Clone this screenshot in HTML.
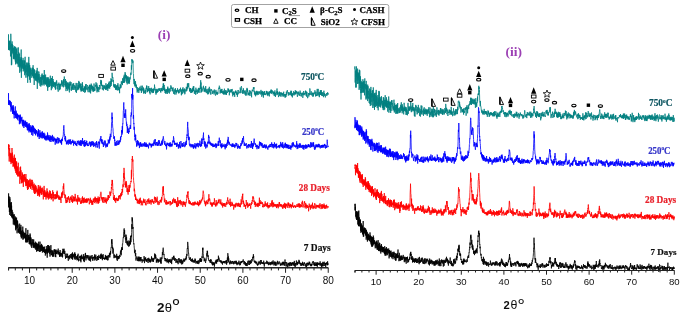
<!DOCTYPE html>
<html><head><meta charset="utf-8"><style>
html,body{margin:0;padding:0;background:#fff;}
body{width:685px;height:314px;overflow:hidden;font-family:"Liberation Sans",sans-serif;}
svg{display:block;}
</style></head><body>
<svg width="685" height="314" viewBox="0 0 685 314">
<defs><filter id="bl" x="0" y="0" width="100%" height="100%"><feGaussianBlur stdDeviation="0.3"/></filter></defs>
<rect width="685" height="314" fill="#fff"/>
<g filter="url(#bl)">
<polyline fill="none" stroke="#008080" stroke-width="0.8" stroke-linejoin="round" points="8.2,45.7 8.3,49.2 8.4,45.8 8.5,34.4 8.6,50.0 8.7,47.1 8.8,40.7 8.9,49.3 9.1,48.7 9.2,48.8 9.3,47.2 9.4,50.4 9.5,41.2 9.6,44.8 9.7,42.4 9.8,49.6 9.9,45.6 10.0,43.4 10.1,40.5 10.2,44.6 10.3,46.8 10.4,45.3 10.5,56.4 10.7,55.2 10.8,33.8 10.9,37.1 11.0,48.8 11.1,47.4 11.2,52.0 11.3,52.4 11.4,65.2 11.5,43.7 11.6,48.5 11.7,64.7 11.8,55.1 11.9,54.9 12.0,48.0 12.1,41.4 12.3,53.5 12.4,53.2 12.5,44.3 12.6,47.5 12.7,51.1 12.8,45.0 12.9,50.1 13.0,51.3 13.1,51.3 13.2,48.5 13.3,56.3 13.4,58.8 13.5,55.4 13.6,48.2 13.7,58.0 13.9,50.2 14.0,59.0 14.1,46.7 14.2,59.4 14.3,53.7 14.4,46.3 14.5,52.7 14.6,55.6 14.7,57.3 14.8,49.5 14.9,48.7 15.0,57.0 15.1,53.2 15.2,57.9 15.3,61.5 15.5,46.8 15.6,58.5 15.7,64.4 15.8,55.1 15.9,52.2 16.0,62.1 16.1,59.4 16.2,63.5 16.3,56.0 16.4,48.9 16.5,54.5 16.6,49.7 16.7,59.4 16.8,58.4 16.9,47.7 17.1,50.6 17.2,63.1 17.3,61.9 17.4,54.1 17.5,58.1 17.6,61.1 17.7,61.5 17.8,64.2 17.9,61.0 18.0,59.4 18.1,58.9 18.2,66.9 18.3,47.4 18.4,59.6 18.5,60.5 18.7,52.1 18.8,62.5 18.9,56.8 19.0,65.6 19.1,59.9 19.2,64.3 19.3,67.5 19.4,63.1 19.5,56.5 19.6,53.5 19.7,72.8 19.8,62.4 19.9,59.1 20.0,63.6 20.1,61.5 20.3,67.4 20.4,62.9 20.5,63.1 20.6,59.2 20.7,65.8 20.8,57.3 20.9,66.8 21.0,71.5 21.1,54.6 21.2,49.5 21.3,66.9 21.4,77.8 21.5,58.4 21.6,57.4 21.7,67.9 21.9,60.3 22.0,62.5 22.1,63.7 22.2,68.8 22.3,63.7 22.4,67.4 22.5,64.8 22.6,61.1 22.7,63.9 22.8,60.2 22.9,65.0 23.0,58.5 23.1,57.9 23.2,71.4 23.3,64.8 23.5,66.0 23.6,69.1 23.7,63.8 23.8,64.6 23.9,68.1 24.0,67.5 24.1,60.3 24.2,70.4 24.3,62.4 24.4,60.8 24.5,62.3 24.6,64.7 24.7,75.2 24.8,60.8 24.9,68.2 25.1,56.8 25.2,68.4 25.3,73.3 25.4,67.5 25.5,65.5 25.6,69.9 25.7,72.0 25.8,71.4 25.9,77.7 26.0,68.6 26.1,64.7 26.2,67.7 26.3,68.7 26.4,70.4 26.5,70.2 26.7,71.7 26.8,62.6 26.9,75.2 27.0,66.9 27.1,62.7 27.2,72.8 27.3,77.4 27.4,73.4 27.5,71.7 27.6,65.8 27.7,82.8 27.8,74.2 27.9,64.2 28.0,66.0 28.1,70.5 28.3,62.7 28.4,71.6 28.5,68.8 28.6,75.9 28.7,73.3 28.8,56.9 28.9,71.1 29.0,63.2 29.1,76.7 29.2,72.2 29.3,73.9 29.4,65.7 29.5,79.3 29.6,79.8 29.7,65.1 29.9,72.7 30.0,68.8 30.1,73.0 30.2,67.6 30.3,82.7 30.4,69.0 30.5,72.0 30.6,75.6 30.7,69.9 30.8,71.6 30.9,70.0 31.0,72.5 31.1,68.4 31.2,72.5 31.3,73.5 31.5,72.6 31.6,74.5 31.7,73.0 31.8,77.8 31.9,72.5 32.0,73.0 32.1,70.4 32.2,71.0 32.3,67.6 32.4,76.0 32.5,68.6 32.6,70.8 32.7,74.9 32.8,73.5 32.9,70.7 33.1,65.2 33.2,76.8 33.3,75.9 33.4,68.2 33.5,78.3 33.6,72.1 33.7,70.8 33.8,76.8 33.9,75.9 34.0,77.8 34.1,69.8 34.2,85.0 34.3,74.0 34.4,69.4 34.5,78.4 34.7,73.5 34.8,76.4 34.9,73.7 35.0,75.5 35.1,77.4 35.2,73.6 35.3,80.3 35.4,75.5 35.5,73.7 35.6,77.9 35.7,79.6 35.8,76.9 35.9,74.4 36.0,80.9 36.1,70.4 36.3,73.5 36.4,78.0 36.5,71.9 36.6,77.8 36.7,77.3 36.8,81.4 36.9,73.7 37.0,75.4 37.1,79.8 37.2,67.9 37.3,88.9 37.4,74.5 37.5,74.4 37.6,81.6 37.7,78.3 37.9,71.2 38.0,81.4 38.1,82.5 38.2,77.0 38.3,77.4 38.4,80.2 38.5,74.2 38.6,79.8 38.7,79.0 38.8,75.7 38.9,71.6 39.0,75.2 39.1,74.1 39.2,83.4 39.3,79.9 39.5,82.1 39.6,78.9 39.7,79.5 39.8,75.3 39.9,81.2 40.0,85.8 40.1,77.6 40.2,77.0 40.3,78.9 40.4,77.5 40.5,77.4 40.6,81.4 40.7,79.8 40.8,86.6 40.9,80.5 41.1,81.3 41.2,83.3 41.3,78.0 41.4,85.1 41.5,77.2 41.6,76.9 41.7,78.8 41.8,79.8 41.9,74.6 42.0,80.0 42.1,73.5 42.2,85.4 42.3,79.5 42.4,77.2 42.5,76.2 42.7,78.2 42.8,78.7 42.9,75.3 43.0,75.8 43.1,78.3 43.2,76.7 43.3,83.1 43.4,84.4 43.5,80.1 43.6,82.0 43.7,75.1 43.8,82.6 43.9,79.9 44.0,81.5 44.1,85.5 44.3,70.0 44.4,79.4 44.5,75.5 44.6,83.5 44.7,77.1 44.8,80.5 44.9,82.9 45.0,83.9 45.1,81.2 45.2,77.4 45.3,78.1 45.4,83.7 45.5,80.6 45.6,74.6 45.7,84.4 45.9,82.9 46.0,84.5 46.1,79.8 46.2,84.1 46.3,77.3 46.4,83.7 46.5,80.2 46.6,84.7 46.7,86.0 46.8,79.6 46.9,82.2 47.0,82.6 47.1,86.8 47.2,85.0 47.3,78.0 47.5,84.2 47.6,85.5 47.7,90.8 47.8,77.2 47.9,81.2 48.0,87.6 48.1,77.4 48.2,77.6 48.3,83.4 48.4,85.0 48.5,78.9 48.6,83.2 48.7,81.8 48.8,87.0 48.9,81.8 49.1,85.4 49.2,78.8 49.3,81.6 49.4,82.2 49.5,87.0 49.6,85.3 49.7,80.7 49.8,85.3 49.9,85.0 50.0,81.4 50.1,80.6 50.2,80.8 50.3,75.7 50.4,82.6 50.5,83.2 50.7,80.0 50.8,86.1 50.9,78.9 51.0,81.7 51.2,81.7 51.3,90.2 51.5,78.0 51.6,85.7 51.8,87.3 51.9,85.5 52.1,88.4 52.2,80.8 52.4,76.1 52.5,86.0 52.7,79.0 52.8,81.8 53.0,79.0 53.1,86.6 53.3,86.2 53.4,81.2 53.6,86.7 53.7,84.1 53.9,83.0 54.0,83.2 54.2,82.2 54.3,85.1 54.5,84.5 54.6,82.8 54.8,87.6 54.9,82.5 55.1,85.5 55.2,86.0 55.4,89.4 55.5,82.8 55.6,89.5 55.8,83.9 55.9,82.9 56.1,81.7 56.2,85.8 56.4,84.0 56.5,80.4 56.7,80.4 56.8,82.5 57.0,82.4 57.1,88.2 57.3,89.3 57.4,87.8 57.6,86.3 57.7,83.9 57.9,85.5 58.0,88.1 58.2,91.7 58.3,87.4 58.5,83.8 58.6,85.0 58.8,83.5 58.9,82.6 59.1,84.4 59.2,85.4 59.4,90.2 59.5,84.4 59.7,88.3 59.8,89.2 60.0,83.9 60.1,89.4 60.3,87.5 60.4,84.3 60.6,85.8 60.7,84.2 60.9,83.7 61.0,83.9 61.2,84.4 61.3,85.1 61.5,81.2 61.6,84.2 61.8,80.0 61.9,85.6 62.1,86.7 62.2,85.1 62.4,85.1 62.5,85.7 62.7,81.6 62.8,82.7 63.0,84.6 63.1,84.5 63.3,80.6 63.4,87.3 63.6,79.0 63.7,82.3 63.9,83.3 64.0,79.4 64.2,78.4 64.3,76.5 64.5,79.5 64.6,85.0 64.8,85.1 64.9,85.4 65.1,84.1 65.2,86.9 65.4,79.0 65.5,85.9 65.7,85.4 65.8,81.2 66.0,91.1 66.1,80.8 66.3,81.9 66.4,82.1 66.6,89.0 66.7,83.5 66.8,88.0 67.0,87.9 67.1,87.0 67.3,82.6 67.4,84.4 67.6,90.7 67.7,82.6 67.9,84.0 68.0,85.8 68.2,88.3 68.3,86.6 68.5,88.1 68.6,83.5 68.8,89.4 68.9,88.4 69.1,82.2 69.2,90.6 69.4,92.4 69.5,83.9 69.7,86.3 69.8,90.1 70.0,82.6 70.1,81.5 70.3,83.5 70.4,85.2 70.6,83.7 70.7,85.4 70.9,85.0 71.0,82.0 71.2,87.1 71.3,90.9 71.5,89.4 71.6,89.1 71.8,86.9 71.9,89.7 72.1,84.8 72.2,89.5 72.4,86.1 72.5,88.0 72.7,87.3 72.8,83.7 73.0,86.4 73.1,89.8 73.3,84.4 73.4,85.9 73.6,85.2 73.7,83.1 73.9,89.2 74.0,89.9 74.2,88.5 74.3,87.2 74.5,86.7 74.6,87.5 74.8,85.0 74.9,89.1 75.1,89.6 75.2,89.7 75.4,86.3 75.5,87.9 75.7,87.0 75.8,91.8 76.0,87.8 76.1,82.9 76.3,88.9 76.4,92.9 76.6,90.1 76.7,90.8 76.9,88.6 77.0,83.2 77.2,83.3 77.3,84.8 77.5,87.9 77.6,89.3 77.8,90.1 77.9,87.1 78.1,89.8 78.2,86.4 78.3,85.2 78.5,89.0 78.6,84.7 78.8,80.9 78.9,85.1 79.1,88.3 79.2,81.9 79.4,87.4 79.5,87.3 79.7,84.4 79.8,83.9 80.0,86.0 80.1,85.4 80.3,89.8 80.4,88.0 80.6,83.5 80.7,85.2 80.9,88.8 81.0,91.5 81.2,87.0 81.3,86.3 81.5,91.1 81.6,87.4 81.8,86.6 81.9,83.7 82.1,85.7 82.2,91.2 82.4,82.2 82.5,87.1 82.7,85.2 82.8,88.9 83.0,90.7 83.1,88.0 83.3,90.1 83.4,89.9 83.6,89.1 83.7,92.0 83.9,89.8 84.0,87.2 84.2,86.4 84.3,86.2 84.5,89.5 84.6,87.1 84.8,92.8 84.9,91.0 85.1,86.6 85.2,86.6 85.4,92.0 85.5,84.5 85.7,88.1 85.8,90.0 86.0,84.3 86.1,84.6 86.3,84.1 86.4,88.0 86.6,88.4 86.7,88.9 86.9,89.2 87.0,87.9 87.2,90.3 87.3,86.4 87.5,85.2 87.6,85.0 87.8,85.8 87.9,88.5 88.1,92.2 88.2,90.2 88.4,88.2 88.5,86.9 88.7,88.1 88.8,88.5 89.0,88.2 89.1,86.4 89.3,88.8 89.4,92.3 89.6,85.1 89.7,89.1 89.8,84.7 90.0,89.9 90.1,88.0 90.3,85.2 90.4,90.0 90.6,93.4 90.7,89.3 90.9,91.2 91.0,88.2 91.2,83.6 91.3,89.3 91.5,87.2 91.6,84.8 91.8,88.9 91.9,86.9 92.1,85.7 92.2,89.5 92.4,86.2 92.5,90.2 92.7,87.2 92.8,90.4 93.0,86.6 93.1,91.8 93.3,88.9 93.4,91.4 93.6,87.0 93.7,88.1 93.9,91.1 94.0,83.5 94.2,86.4 94.3,90.6 94.5,89.6 94.6,91.1 94.8,88.6 94.9,90.6 95.1,87.7 95.2,86.1 95.4,85.2 95.5,86.5 95.7,85.4 95.8,85.8 96.0,82.3 96.1,83.5 96.3,86.6 96.4,88.4 96.6,86.8 96.7,86.3 96.9,83.4 97.0,92.4 97.2,85.5 97.3,91.1 97.5,91.3 97.6,88.9 97.8,87.4 97.9,89.3 98.1,87.1 98.2,90.4 98.4,89.8 98.5,90.5 98.7,90.9 98.8,92.1 99.0,87.2 99.1,89.7 99.3,85.4 99.4,85.1 99.6,85.9 99.7,85.2 99.9,89.2 100.0,88.4 100.2,88.4 100.3,84.6 100.5,84.5 100.6,81.7 100.8,79.9 100.9,83.6 101.0,83.8 101.2,81.6 101.3,85.6 101.5,80.5 101.6,85.1 101.8,85.1 101.9,85.8 102.1,85.0 102.2,89.3 102.4,88.3 102.5,89.4 102.7,87.4 102.8,84.8 103.0,86.9 103.1,85.4 103.3,88.8 103.4,90.4 103.6,88.7 103.7,86.8 103.9,87.3 104.0,88.6 104.2,85.5 104.3,88.6 104.5,87.8 104.6,85.5 104.8,86.0 104.9,87.8 105.1,86.2 105.2,86.4 105.4,89.4 105.5,87.9 105.7,89.6 105.8,83.6 106.0,83.2 106.1,89.9 106.3,90.1 106.4,86.8 106.6,85.4 106.7,88.5 106.9,85.5 107.0,88.4 107.2,84.7 107.3,88.3 107.5,84.3 107.6,87.7 107.8,90.9 107.9,86.9 108.1,88.7 108.2,85.4 108.4,84.5 108.5,82.9 108.7,87.7 108.8,85.0 109.0,88.0 109.1,81.7 109.3,83.4 109.4,84.3 109.6,87.6 109.7,88.7 109.9,83.7 110.0,82.5 110.2,81.0 110.3,87.0 110.5,83.7 110.6,82.8 110.8,84.0 110.9,78.4 111.1,80.3 111.2,85.9 111.4,84.2 111.5,82.9 111.7,79.3 111.8,81.6 112.0,81.9 112.1,72.8 112.3,76.5 112.4,76.3 112.5,78.0 112.7,77.4 112.8,78.0 113.0,77.8 113.1,81.5 113.3,80.1 113.4,80.6 113.6,83.1 113.7,86.5 113.9,84.0 114.0,84.6 114.2,87.4 114.3,84.8 114.5,85.2 114.6,87.7 114.8,86.3 114.9,85.9 115.1,86.4 115.2,84.0 115.4,87.8 115.5,89.7 115.7,88.6 115.8,85.4 116.0,89.5 116.1,87.2 116.3,88.2 116.4,88.3 116.6,85.4 116.7,89.9 116.9,87.4 117.0,89.2 117.2,89.1 117.3,90.5 117.5,90.1 117.6,84.8 117.8,87.4 117.9,83.2 118.1,85.4 118.2,86.9 118.4,88.3 118.5,89.9 118.7,86.8 118.8,88.0 119.0,87.5 119.1,90.0 119.3,91.1 119.4,87.7 119.6,93.2 119.7,87.5 119.9,86.1 120.0,85.9 120.2,84.4 120.3,85.6 120.5,84.7 120.6,88.4 120.8,85.1 120.9,87.7 121.1,87.1 121.2,81.7 121.4,82.0 121.5,81.7 121.7,84.2 121.8,83.5 122.0,83.6 122.1,80.9 122.3,83.2 122.4,85.1 122.6,78.3 122.7,79.6 122.9,80.2 123.0,79.1 123.2,78.6 123.3,83.0 123.5,81.9 123.6,80.7 123.8,76.5 123.9,83.0 124.0,77.9 124.2,74.8 124.3,75.6 124.5,76.2 124.6,82.5 124.8,78.0 124.9,77.6 125.1,72.1 125.2,78.4 125.4,73.8 125.5,73.7 125.7,78.1 125.8,75.6 126.0,80.2 126.1,81.4 126.3,75.2 126.4,79.2 126.6,76.4 126.7,80.3 126.9,82.9 127.0,78.0 127.2,84.4 127.3,79.2 127.5,76.8 127.6,78.8 127.8,80.7 127.9,76.3 128.1,79.5 128.2,77.3 128.4,83.4 128.5,81.7 128.7,80.6 128.8,83.2 129.0,77.8 129.1,79.3 129.3,83.8 129.4,79.6 129.6,81.9 129.7,78.5 129.9,77.2 130.0,78.9 130.2,79.4 130.3,77.9 130.5,76.4 130.6,75.6 130.8,72.7 130.9,74.9 131.1,74.1 131.2,73.4 131.4,65.2 131.5,69.7 131.7,65.5 131.8,59.2 132.0,61.1 132.1,61.5 132.3,59.6 132.4,60.0 132.6,61.7 132.7,63.2 132.9,62.7 133.0,60.6 133.2,67.9 133.3,73.5 133.5,73.8 133.6,78.4 133.8,80.2 133.9,79.6 134.1,84.2 134.2,78.9 134.4,83.8 134.5,82.1 134.7,82.4 134.8,85.6 135.0,83.6 135.1,86.7 135.2,83.2 135.4,84.0 135.5,81.1 135.7,84.2 135.8,85.9 136.0,84.7 136.1,87.9 136.3,84.7 136.4,85.4 136.6,88.7 136.7,89.0 136.9,89.0 137.0,89.0 137.2,92.6 137.3,87.1 137.5,88.3 137.6,88.2 137.8,91.3 137.9,89.8 138.1,90.9 138.2,91.1 138.4,89.4 138.5,88.4 138.7,87.9 138.8,92.9 139.0,90.7 139.1,90.0 139.3,88.6 139.4,89.1 139.6,89.3 139.7,89.8 139.9,86.7 140.0,90.4 140.2,89.3 140.3,89.7 140.5,89.0 140.6,89.9 140.8,88.8 140.9,90.6 141.1,85.7 141.2,88.3 141.4,93.0 141.5,88.3 141.7,89.9 141.8,91.5 142.0,88.7 142.1,90.6 142.3,86.6 142.4,85.7 142.6,86.9 142.7,86.9 142.9,89.8 143.0,89.5 143.2,90.2 143.3,87.5 143.5,93.5 143.6,88.7 143.8,88.2 143.9,90.6 144.1,91.2 144.2,91.0 144.4,92.3 144.5,93.1 144.7,92.1 144.8,92.1 145.0,89.6 145.1,89.5 145.3,94.0 145.4,90.4 145.6,91.4 145.7,91.7 145.9,92.6 146.0,87.8 146.2,88.7 146.3,88.5 146.5,88.9 146.6,85.6 146.7,89.2 146.9,85.8 147.0,91.0 147.2,91.5 147.3,91.7 147.5,88.8 147.6,92.2 147.8,89.2 147.9,88.6 148.1,88.9 148.2,88.9 148.4,90.1 148.5,91.0 148.7,86.1 148.8,88.4 149.0,91.2 149.1,90.1 149.3,90.3 149.4,88.0 149.6,92.9 149.7,89.5 149.9,92.6 150.0,94.2 150.2,94.4 150.3,91.4 150.5,91.1 150.6,88.3 150.8,88.4 150.9,91.0 151.1,89.1 151.2,88.9 151.4,87.8 151.5,91.0 151.7,92.0 151.8,89.7 152.0,90.0 152.1,93.1 152.3,90.8 152.4,90.1 152.6,88.8 152.7,89.5 152.9,90.1 153.0,92.6 153.2,89.4 153.3,93.0 153.5,88.6 153.6,89.5 153.8,91.4 153.9,89.8 154.1,88.9 154.2,89.7 154.4,89.5 154.5,84.6 154.7,87.2 154.8,88.0 155.0,87.8 155.1,90.4 155.3,89.1 155.4,90.1 155.6,91.2 155.7,92.8 155.9,91.6 156.0,94.6 156.2,90.5 156.3,93.2 156.5,88.9 156.6,89.1 156.8,89.7 156.9,92.7 157.1,91.5 157.2,89.7 157.4,92.4 157.5,90.1 157.7,89.5 157.8,91.7 158.0,91.0 158.1,91.7 158.2,88.7 158.4,89.7 158.5,89.9 158.7,89.3 158.8,88.9 159.0,88.3 159.1,90.9 159.3,89.6 159.4,90.3 159.6,89.0 159.7,89.5 159.9,88.2 160.0,90.0 160.2,90.9 160.3,90.1 160.5,91.5 160.6,90.9 160.8,92.6 160.9,90.2 161.1,88.0 161.2,91.1 161.4,90.0 161.5,88.6 161.7,90.7 161.8,90.0 162.0,89.6 162.1,87.7 162.3,89.2 162.4,89.6 162.6,91.2 162.7,86.3 162.9,86.5 163.0,86.8 163.2,83.5 163.3,83.9 163.5,90.2 163.6,83.4 163.8,87.7 163.9,85.6 164.1,86.0 164.2,85.1 164.4,87.8 164.5,90.9 164.7,87.7 164.8,90.7 165.0,90.2 165.1,93.0 165.3,89.8 165.4,93.1 165.6,93.2 165.7,91.8 165.9,89.6 166.0,93.9 166.2,89.1 166.3,90.1 166.5,92.1 166.6,92.4 166.8,89.6 166.9,90.8 167.1,90.2 167.2,92.0 167.4,93.9 167.5,87.7 167.7,91.9 167.8,86.6 168.0,90.2 168.1,88.4 168.3,92.7 168.4,90.0 168.6,89.4 168.7,90.3 168.9,90.1 169.0,90.1 169.2,88.8 169.3,91.2 169.4,93.5 169.6,92.1 169.7,89.1 169.9,88.4 170.0,89.4 170.2,91.6 170.3,89.1 170.5,88.2 170.6,88.6 170.8,85.4 170.9,85.3 171.1,87.7 171.2,86.6 171.4,86.9 171.5,88.9 171.7,88.3 171.8,88.6 172.0,89.2 172.1,91.1 172.3,90.3 172.4,88.1 172.6,88.9 172.7,89.8 172.9,91.4 173.0,87.3 173.2,90.4 173.3,90.6 173.5,93.0 173.6,92.7 173.8,94.0 173.9,92.1 174.1,90.2 174.2,90.2 174.4,91.7 174.5,91.7 174.7,94.5 174.8,93.2 175.0,88.9 175.1,91.3 175.3,89.1 175.4,88.2 175.6,91.3 175.7,92.1 175.9,90.8 176.0,94.5 176.2,90.1 176.3,90.0 176.5,92.8 176.6,91.7 176.8,90.8 176.9,90.7 177.1,91.1 177.2,90.8 177.4,90.8 177.5,88.3 177.7,89.0 177.8,91.7 178.0,89.8 178.1,91.7 178.3,92.8 178.4,90.3 178.6,91.0 178.7,93.4 178.9,91.4 179.0,93.1 179.2,92.9 179.3,92.0 179.5,90.7 179.6,89.4 179.8,88.9 179.9,91.3 180.1,91.4 180.2,90.4 180.4,90.7 180.5,87.7 180.7,91.8 180.8,91.8 180.9,91.9 181.1,91.9 181.2,91.6 181.4,95.3 181.5,89.5 181.7,92.4 181.8,94.3 182.0,93.6 182.1,91.5 182.3,93.6 182.4,89.1 182.6,88.5 182.7,91.0 182.9,88.3 183.0,87.3 183.2,92.2 183.3,91.9 183.5,91.7 183.6,89.9 183.8,91.0 183.9,89.4 184.1,93.2 184.2,92.0 184.4,92.2 184.5,88.6 184.7,93.0 184.8,94.3 185.0,94.0 185.1,93.1 185.3,91.6 185.4,90.5 185.6,91.2 185.7,90.5 185.9,90.0 186.0,88.8 186.2,91.4 186.3,86.8 186.5,88.5 186.6,87.8 186.8,90.4 186.9,90.7 187.1,89.7 187.2,88.0 187.4,83.5 187.5,88.6 187.7,85.5 187.8,83.6 188.0,83.3 188.1,84.2 188.3,87.0 188.4,87.1 188.6,86.1 188.7,83.2 188.9,87.5 189.0,88.3 189.2,88.4 189.3,87.8 189.5,89.4 189.6,91.2 189.8,89.0 189.9,91.6 190.1,88.1 190.2,90.3 190.4,90.8 190.5,88.0 190.7,89.5 190.8,92.9 191.0,93.0 191.1,90.9 191.3,92.9 191.4,90.6 191.6,89.6 191.7,90.7 191.9,90.0 192.0,91.4 192.2,88.5 192.3,92.4 192.4,90.3 192.6,92.0 192.7,87.8 192.9,88.7 193.0,88.8 193.2,89.6 193.3,86.3 193.5,91.1 193.6,88.5 193.8,86.2 193.9,89.9 194.1,89.6 194.2,91.7 194.4,93.9 194.5,92.1 194.7,90.5 194.8,91.0 195.0,92.7 195.1,92.3 195.3,90.7 195.4,90.8 195.6,92.6 195.7,94.8 195.9,87.7 196.0,92.3 196.2,90.8 196.3,91.9 196.5,91.8 196.6,90.6 196.8,89.5 196.9,89.5 197.1,89.4 197.2,94.0 197.4,91.9 197.5,91.3 197.7,91.6 197.8,89.8 198.0,91.7 198.1,92.8 198.3,92.3 198.4,87.9 198.6,92.2 198.7,90.4 198.9,89.5 199.0,89.5 199.2,88.5 199.3,89.8 199.5,88.8 199.6,88.2 199.8,89.9 199.9,92.8 200.1,86.9 200.2,86.8 200.4,85.2 200.5,88.9 200.7,80.2 200.8,85.6 201.0,82.5 201.1,85.0 201.3,87.1 201.4,92.4 201.6,87.8 201.7,86.7 201.9,91.8 202.0,88.4 202.2,89.1 202.3,89.5 202.5,90.0 202.6,89.9 202.8,90.5 202.9,90.0 203.1,89.8 203.2,87.2 203.4,86.4 203.5,85.8 203.6,88.3 203.8,87.5 203.9,89.0 204.1,89.6 204.2,91.9 204.4,90.0 204.5,91.1 204.7,88.3 204.8,88.7 205.0,90.3 205.1,89.3 205.3,92.3 205.4,87.9 205.6,88.3 205.7,86.1 205.9,89.6 206.0,91.0 206.2,91.4 206.3,89.2 206.5,91.7 206.6,93.0 206.8,92.9 206.9,91.5 207.1,92.0 207.2,91.3 207.4,93.6 207.5,94.3 207.7,91.1 207.8,89.2 208.0,91.8 208.1,92.7 208.3,88.4 208.4,91.9 208.6,94.2 208.7,92.7 208.9,92.9 209.0,92.9 209.2,91.9 209.3,86.8 209.5,88.4 209.6,91.7 209.8,90.0 209.9,91.5 210.1,88.8 210.2,93.0 210.4,93.4 210.5,92.4 210.7,92.7 210.8,94.7 211.0,90.7 211.1,90.4 211.3,89.5 211.4,90.2 211.6,89.4 211.7,90.8 211.9,90.3 212.0,90.3 212.2,90.6 212.3,94.0 212.5,91.8 212.6,91.3 212.8,91.6 212.9,91.4 213.1,92.7 213.2,92.6 213.4,91.1 213.5,91.0 213.7,90.7 213.8,90.6 214.0,94.4 214.1,91.1 214.3,89.5 214.4,91.1 214.6,91.1 214.7,92.7 214.9,91.2 215.0,93.5 215.1,93.6 215.3,94.7 215.4,95.5 215.6,95.6 215.7,93.4 215.9,89.9 216.0,91.1 216.2,92.0 216.3,94.5 216.5,92.5 216.6,93.4 216.8,91.8 216.9,93.2 217.1,93.7 217.2,92.2 217.4,94.2 217.5,94.7 217.7,92.7 217.8,93.8 218.0,93.8 218.1,90.8 218.3,90.2 218.4,89.4 218.6,88.4 218.7,88.8 218.9,87.4 219.0,87.4 219.2,86.8 219.3,85.7 219.5,86.7 219.6,88.9 219.8,87.6 219.9,89.4 220.1,93.5 220.2,93.0 220.4,90.3 220.5,91.8 220.7,89.7 220.8,92.8 221.0,89.5 221.1,90.3 221.3,92.3 221.4,89.4 221.6,92.9 221.7,90.0 221.9,90.1 222.0,88.9 222.2,91.3 222.3,93.2 222.5,92.8 222.6,91.1 222.8,93.2 222.9,92.7 223.1,93.6 223.2,94.1 223.4,90.6 223.5,94.4 223.7,94.5 223.8,92.0 224.0,93.9 224.1,93.9 224.3,90.4 224.4,88.7 224.6,90.0 224.7,94.5 224.9,91.9 225.0,90.8 225.2,92.9 225.3,92.4 225.5,93.4 225.6,94.1 225.8,90.0 225.9,93.7 226.1,95.0 226.2,92.7 226.4,92.5 226.5,94.6 226.6,91.1 226.8,91.0 226.9,90.7 227.1,92.4 227.2,93.0 227.4,91.9 227.5,92.3 227.7,91.9 227.8,90.7 228.0,88.3 228.1,89.2 228.3,91.9 228.4,88.9 228.6,90.6 228.7,90.7 228.9,91.3 229.0,90.1 229.2,89.7 229.3,95.3 229.5,93.0 229.6,90.7 229.8,91.6 229.9,92.6 230.1,90.9 230.2,92.1 230.4,90.4 230.5,90.9 230.7,91.8 230.8,91.7 231.0,89.1 231.1,92.4 231.3,92.4 231.4,92.2 231.6,89.8 231.7,91.4 231.9,91.3 232.0,89.0 232.2,89.0 232.3,93.5 232.5,92.2 232.6,95.2 232.8,96.4 232.9,92.0 233.1,91.9 233.2,93.1 233.4,94.1 233.5,91.6 233.7,95.0 233.8,94.5 234.0,94.1 234.1,92.7 234.3,95.0 234.4,95.2 234.6,92.5 234.7,96.9 234.9,93.1 235.0,93.2 235.2,91.0 235.3,91.8 235.5,92.9 235.6,90.7 235.8,90.4 235.9,92.8 236.1,92.1 236.2,93.0 236.4,93.7 236.5,93.4 236.7,94.8 236.8,91.4 237.0,93.6 237.1,92.7 237.3,95.3 237.4,96.8 237.6,93.5 237.7,95.0 237.8,91.6 238.0,90.1 238.1,90.6 238.3,90.0 238.4,90.8 238.6,91.9 238.7,93.8 238.9,93.1 239.0,92.8 239.2,91.9 239.3,91.7 239.5,92.7 239.6,92.5 239.8,92.1 239.9,91.6 240.1,90.3 240.2,87.5 240.4,88.8 240.5,89.5 240.7,93.2 240.8,89.4 241.0,89.9 241.1,89.4 241.3,86.6 241.4,86.1 241.6,87.4 241.7,87.6 241.9,90.9 242.0,92.7 242.2,91.9 242.3,92.0 242.5,91.7 242.6,93.6 242.8,90.0 242.9,91.6 243.1,92.8 243.2,93.7 243.4,88.3 243.5,90.7 243.7,91.1 243.8,90.1 244.0,93.1 244.1,92.7 244.3,92.3 244.4,91.1 244.6,91.8 244.7,92.4 244.9,94.5 245.0,92.1 245.2,90.4 245.3,90.7 245.5,91.9 245.6,94.8 245.8,95.6 245.9,92.3 246.1,94.9 246.2,95.4 246.4,94.8 246.5,92.1 246.7,89.7 246.8,90.1 247.0,87.9 247.1,90.9 247.3,92.1 247.4,88.8 247.6,91.9 247.7,92.9 247.9,94.7 248.0,95.3 248.2,94.8 248.3,92.8 248.5,93.0 248.6,94.9 248.8,92.6 248.9,93.8 249.1,95.2 249.2,92.0 249.3,90.2 249.5,92.4 249.6,94.2 249.8,93.6 249.9,95.8 250.1,96.0 250.2,92.8 250.4,92.3 250.5,92.3 250.7,90.7 250.8,92.9 251.0,92.2 251.1,93.8 251.3,92.6 251.4,93.1 251.6,97.3 251.7,93.0 251.9,92.2 252.0,90.7 252.2,90.6 252.3,89.6 252.5,91.0 252.6,90.2 252.8,90.6 252.9,91.4 253.1,91.2 253.2,89.9 253.4,87.3 253.5,88.9 253.7,88.3 253.8,88.9 254.0,87.1 254.1,91.6 254.3,90.9 254.4,94.2 254.6,93.3 254.7,91.4 254.9,91.5 255.0,95.2 255.2,92.3 255.3,94.5 255.5,93.1 255.6,96.3 255.8,93.1 255.9,94.3 256.1,93.3 256.2,91.1 256.4,91.8 256.5,94.4 256.7,92.3 256.8,90.8 257.0,93.4 257.1,95.2 257.3,91.9 257.4,94.1 257.6,91.7 257.7,93.7 257.9,91.6 258.0,94.3 258.2,94.1 258.3,93.8 258.5,94.6 258.6,93.2 258.8,91.9 258.9,91.6 259.1,92.8 259.2,91.3 259.4,93.4 259.5,93.5 259.7,93.5 259.8,92.2 260.0,93.1 260.1,92.9 260.3,94.5 260.4,91.0 260.6,91.1 260.7,90.8 260.8,90.7 261.0,89.9 261.1,90.5 261.3,93.6 261.4,91.9 261.6,94.8 261.7,96.7 261.9,95.5 262.0,90.9 262.2,94.3 262.3,94.0 262.5,94.2 262.6,91.3 262.8,94.7 262.9,92.3 263.1,95.8 263.2,95.5 263.4,97.6 263.5,93.5 263.7,91.7 263.8,95.1 264.0,94.6 264.1,92.6 264.3,94.8 264.4,93.7 264.6,91.0 264.7,92.7 264.9,93.0 265.0,93.8 265.2,94.6 265.3,93.7 265.5,94.3 265.6,95.1 265.8,93.8 265.9,93.2 266.1,93.0 266.2,93.1 266.4,90.9 266.5,93.7 266.7,91.6 266.8,93.0 267.0,91.1 267.1,95.1 267.3,94.7 267.4,92.7 267.6,94.7 267.7,92.9 267.9,96.1 268.0,94.1 268.2,92.2 268.3,93.6 268.5,93.2 268.6,94.7 268.8,93.4 268.9,93.7 269.1,91.4 269.2,94.3 269.4,96.4 269.5,94.4 269.7,92.6 269.8,92.2 270.0,91.1 270.1,93.3 270.3,91.7 270.4,93.1 270.6,92.0 270.7,90.9 270.9,92.7 271.0,89.7 271.2,91.7 271.3,89.7 271.5,93.8 271.6,93.4 271.8,91.1 271.9,92.4 272.0,90.8 272.2,91.3 272.3,90.6 272.5,90.6 272.6,92.7 272.8,92.2 272.9,92.6 273.1,94.4 273.2,93.3 273.4,91.5 273.5,93.7 273.7,93.0 273.8,93.6 274.0,92.2 274.1,95.2 274.3,96.1 274.4,92.1 274.6,94.7 274.7,93.7 274.9,90.4 275.0,93.0 275.2,96.0 275.3,95.5 275.5,96.9 275.6,92.7 275.8,92.9 275.9,94.8 276.1,95.2 276.2,94.4 276.4,93.3 276.5,92.6 276.7,91.7 276.8,92.9 277.0,88.5 277.1,94.7 277.3,92.2 277.4,91.4 277.6,94.4 277.7,91.5 277.9,93.7 278.0,92.6 278.2,94.4 278.3,95.5 278.5,97.1 278.6,95.2 278.8,95.4 278.9,95.2 279.1,92.4 279.2,94.5 279.4,93.6 279.5,91.6 279.7,95.4 279.8,95.9 280.0,92.4 280.1,95.3 280.3,96.6 280.4,96.2 280.6,93.5 280.7,92.5 280.9,93.8 281.0,93.0 281.2,93.7 281.3,93.6 281.5,94.5 281.6,92.5 281.8,92.6 281.9,96.6 282.1,93.2 282.2,94.7 282.4,94.5 282.5,94.7 282.7,93.4 282.8,95.4 283.0,94.4 283.1,95.3 283.3,96.5 283.4,93.5 283.5,94.1 283.7,91.7 283.8,93.7 284.0,96.4 284.1,94.8 284.3,94.4 284.4,95.5 284.6,94.8 284.7,94.4 284.9,94.1 285.0,97.6 285.2,94.0 285.3,95.0 285.5,94.9 285.6,97.3 285.8,95.0 285.9,96.9 286.1,94.9 286.2,94.1 286.4,91.6 286.5,95.0 286.7,93.9 286.8,93.6 287.0,92.6 287.1,92.3 287.3,90.1 287.4,92.1 287.6,92.4 287.7,92.7 287.9,92.4 288.0,93.5 288.2,93.2 288.3,95.6 288.5,94.3 288.6,92.4 288.8,92.0 288.9,93.7 289.1,93.3 289.2,94.9 289.4,95.1 289.5,95.1 289.7,94.5 289.8,93.5 290.0,94.4 290.1,92.1 290.3,93.2 290.4,94.6 290.6,93.7 290.7,91.3 290.9,91.5 291.0,90.6 291.2,95.5 291.3,91.0 291.5,93.1 291.6,96.2 291.8,95.4 291.9,95.9 292.1,93.3 292.2,94.9 292.4,97.4 292.5,93.9 292.7,94.5 292.8,93.3 293.0,93.3 293.1,93.6 293.3,94.9 293.4,91.7 293.6,91.2 293.7,93.4 293.9,93.8 294.0,95.5 294.2,94.4 294.3,92.5 294.5,94.0 294.6,94.5 294.8,93.0 294.9,92.0 295.0,93.6 295.2,92.5 295.3,90.2 295.5,94.4 295.6,91.5 295.8,93.6 295.9,93.7 296.1,93.4 296.2,93.0 296.4,90.9 296.5,93.2 296.7,92.4 296.8,92.6 297.0,94.4 297.1,94.9 297.3,95.8 297.4,96.8 297.6,94.8 297.7,91.7 297.9,94.0 298.0,93.3 298.2,93.0 298.3,92.3 298.5,91.7 298.6,93.6 298.8,94.7 298.9,92.8 299.1,95.6 299.2,95.0 299.4,94.5 299.5,95.5 299.7,93.8 299.8,92.6 300.0,93.2 300.1,90.6 300.3,93.0 300.4,93.7 300.6,92.9 300.7,95.6 300.9,96.2 301.0,95.2 301.2,95.7 301.3,96.4 301.5,96.3 301.6,93.2 301.8,94.4 301.9,94.9 302.1,93.1 302.2,92.5 302.4,93.1 302.5,94.0 302.7,93.3 302.8,97.9 303.0,94.1 303.1,95.0 303.3,94.1 303.4,94.1 303.6,92.4 303.7,91.0 303.9,95.3 304.0,92.8 304.2,92.9 304.3,93.1 304.5,94.5 304.6,93.6 304.8,94.2 304.9,94.0 305.1,93.5 305.2,94.0 305.4,92.6 305.5,90.7 305.7,92.7 305.8,90.9 306.0,95.6 306.1,94.1 306.2,94.0 306.4,92.3 306.5,96.6 306.7,91.7 306.8,92.4 307.0,92.7 307.1,92.4 307.3,94.3 307.4,95.1 307.6,98.2 307.7,97.2 307.9,97.4 308.0,96.1 308.2,95.1 308.3,94.4 308.5,93.0 308.6,93.7 308.8,94.6 308.9,96.5 309.1,93.0 309.2,93.2 309.4,95.0 309.5,92.4 309.7,92.0 309.8,88.4 310.0,89.0 310.1,91.5 310.3,94.7 310.4,93.8 310.6,93.8 310.7,93.7 310.9,94.6 311.0,94.3 311.2,91.2 311.3,93.2 311.5,94.0 311.6,95.3 311.8,95.3 311.9,94.8 312.1,93.1 312.2,92.7 312.4,94.0 312.5,92.9 312.7,96.5 312.8,96.7 313.0,92.9 313.1,94.6 313.3,93.5 313.4,96.4 313.6,94.8 313.7,93.1 313.9,94.4 314.0,92.5 314.2,93.4 314.3,93.8 314.5,93.5 314.6,93.4 314.8,91.5 314.9,90.3 315.1,92.8 315.2,92.3 315.4,92.5 315.5,96.4 315.7,95.1 315.8,93.3 316.0,91.7 316.1,92.0 316.3,94.6 316.4,96.1 316.6,94.6 316.7,95.5 316.9,95.5 317.0,94.8 317.2,88.9 317.3,93.0 317.5,94.7 317.6,95.6 317.7,94.8 317.9,92.8 318.0,91.9 318.2,88.9 318.3,93.1 318.5,94.4 318.6,94.8 318.8,92.6 318.9,92.3 319.1,96.3 319.2,94.8 319.4,97.2 319.5,95.2 319.7,92.1 319.8,94.7 320.0,94.9 320.1,92.3 320.3,90.4 320.4,94.5 320.6,93.9 320.7,95.0 320.9,90.4 321.0,94.3 321.2,90.0 321.3,92.5 321.5,95.5 321.6,92.0 321.8,92.0 321.9,94.3 322.1,95.7 322.2,94.2 322.4,92.5 322.5,96.1 322.7,95.3 322.8,94.6 323.0,94.3 323.1,92.5 323.3,94.4 323.4,94.8 323.6,97.2 323.7,95.2 323.9,90.7 324.0,92.8 324.2,95.4 324.3,95.5 324.5,93.2 324.6,95.6 324.8,94.8 324.9,94.7 325.1,94.4 325.2,96.1 325.4,97.4 325.5,96.9 325.7,94.5 325.8,94.6 326.0,94.3 326.1,94.6 326.3,93.7 326.4,93.8 326.6,93.2 326.7,96.0 326.9,95.8 327.0,95.4 327.2,93.3 327.3,94.0 327.5,92.3 327.6,92.4 327.8,93.2 327.9,94.9 328.1,94.1 328.2,92.9"/>
<polyline fill="none" stroke="#0000ff" stroke-width="0.8" stroke-linejoin="round" points="8.2,100.7 8.3,98.5 8.4,98.6 8.5,93.2 8.6,104.9 8.7,103.6 8.8,100.1 8.9,103.4 9.1,102.4 9.2,100.3 9.3,104.7 9.4,101.7 9.5,102.1 9.6,101.2 9.7,104.7 9.8,102.4 9.9,103.2 10.0,100.9 10.1,103.6 10.2,100.9 10.3,105.8 10.4,104.8 10.5,106.0 10.7,106.9 10.8,103.5 10.9,108.3 11.0,111.6 11.1,102.0 11.2,102.0 11.3,102.7 11.4,108.9 11.5,107.0 11.6,109.4 11.7,108.4 11.8,107.0 11.9,107.5 12.0,106.8 12.1,110.2 12.3,105.6 12.4,107.7 12.5,109.7 12.6,114.0 12.7,107.8 12.8,107.4 12.9,108.9 13.0,112.7 13.1,109.3 13.2,113.2 13.3,105.3 13.4,113.3 13.5,113.5 13.6,107.5 13.7,111.6 13.9,114.6 14.0,112.2 14.1,114.8 14.2,118.4 14.3,113.2 14.4,112.0 14.5,111.1 14.6,114.8 14.7,112.6 14.8,112.1 14.9,111.8 15.0,113.3 15.1,108.9 15.2,108.1 15.3,106.4 15.5,116.1 15.6,113.9 15.7,118.0 15.8,114.3 15.9,112.3 16.0,115.0 16.1,113.5 16.2,110.7 16.3,111.8 16.4,118.5 16.5,115.3 16.6,115.9 16.7,114.7 16.8,114.2 16.9,118.3 17.1,115.9 17.2,114.2 17.3,115.5 17.4,113.5 17.5,116.3 17.6,118.9 17.7,114.5 17.8,120.2 17.9,115.3 18.0,117.4 18.1,115.0 18.2,116.4 18.3,117.1 18.4,116.3 18.5,116.3 18.7,117.0 18.8,116.8 18.9,114.8 19.0,118.3 19.1,120.0 19.2,120.9 19.3,120.1 19.4,124.2 19.5,119.0 19.6,117.0 19.7,122.3 19.8,115.3 19.9,120.2 20.0,116.1 20.1,119.6 20.3,114.6 20.4,121.7 20.5,119.4 20.6,117.5 20.7,123.5 20.8,121.1 20.9,119.4 21.0,117.7 21.1,119.5 21.2,119.2 21.3,121.1 21.4,121.2 21.5,117.9 21.6,118.4 21.7,118.6 21.9,116.8 22.0,118.7 22.1,120.3 22.2,122.6 22.3,124.5 22.4,119.8 22.5,122.9 22.6,120.5 22.7,126.3 22.8,121.6 22.9,123.2 23.0,120.2 23.1,120.6 23.2,122.9 23.3,121.7 23.5,123.6 23.6,119.8 23.7,125.4 23.8,122.2 23.9,128.0 24.0,123.3 24.1,126.2 24.2,120.7 24.3,125.1 24.4,122.7 24.5,123.8 24.6,124.8 24.7,123.6 24.8,124.5 24.9,125.3 25.1,125.0 25.2,123.7 25.3,121.4 25.4,123.2 25.5,124.9 25.6,120.7 25.7,126.9 25.8,124.5 25.9,124.2 26.0,126.7 26.1,126.0 26.2,125.0 26.3,122.2 26.4,125.0 26.5,125.3 26.7,123.0 26.8,127.6 26.9,126.9 27.0,122.1 27.1,127.3 27.2,124.6 27.3,130.1 27.4,129.2 27.5,124.7 27.6,124.8 27.7,126.9 27.8,126.4 27.9,130.5 28.0,129.1 28.1,127.0 28.3,129.0 28.4,123.6 28.5,128.8 28.6,130.1 28.7,127.9 28.8,126.8 28.9,129.5 29.0,132.4 29.1,128.5 29.2,125.5 29.3,130.6 29.4,123.4 29.5,129.3 29.6,127.6 29.7,130.8 29.9,126.8 30.0,131.2 30.1,129.1 30.2,125.3 30.3,125.2 30.4,128.8 30.5,132.3 30.6,129.9 30.7,129.6 30.8,128.9 30.9,131.1 31.0,130.5 31.1,130.3 31.2,127.8 31.3,132.0 31.5,132.1 31.6,127.0 31.7,134.9 31.8,131.4 31.9,128.8 32.0,125.7 32.1,130.8 32.2,130.6 32.3,127.9 32.4,125.4 32.5,132.1 32.6,129.2 32.7,129.6 32.8,135.7 32.9,134.4 33.1,132.1 33.2,129.4 33.3,131.7 33.4,125.8 33.5,130.6 33.6,128.9 33.7,127.8 33.8,127.2 33.9,131.5 34.0,130.9 34.1,131.5 34.2,133.3 34.3,130.1 34.4,129.4 34.5,128.3 34.7,131.2 34.8,133.6 34.9,131.9 35.0,133.3 35.1,129.4 35.2,130.5 35.3,129.8 35.4,128.9 35.5,135.3 35.6,133.6 35.7,130.9 35.8,131.3 35.9,132.9 36.0,130.1 36.1,133.7 36.3,130.3 36.4,132.5 36.5,131.7 36.6,133.2 36.7,131.6 36.8,130.7 36.9,131.2 37.0,131.0 37.1,131.4 37.2,132.1 37.3,135.4 37.4,134.6 37.5,133.2 37.6,135.6 37.7,133.1 37.9,137.1 38.0,135.2 38.1,131.5 38.2,135.6 38.3,135.8 38.4,129.2 38.5,132.8 38.6,133.3 38.7,130.6 38.8,132.2 38.9,132.2 39.0,134.7 39.1,134.3 39.2,139.0 39.3,133.6 39.5,136.8 39.6,134.7 39.7,134.8 39.8,131.8 39.9,130.2 40.0,132.2 40.1,135.0 40.2,136.5 40.3,134.8 40.4,134.9 40.5,132.7 40.6,137.4 40.7,137.1 40.8,133.7 40.9,134.7 41.1,133.2 41.2,138.2 41.3,136.5 41.4,135.5 41.5,136.3 41.6,136.1 41.7,134.5 41.8,133.0 41.9,133.0 42.0,131.9 42.1,135.4 42.2,138.3 42.3,131.3 42.4,135.2 42.5,135.9 42.7,133.3 42.8,135.6 42.9,133.5 43.0,138.3 43.1,135.4 43.2,136.8 43.3,137.7 43.4,135.5 43.5,133.1 43.6,135.6 43.7,137.9 43.8,135.8 43.9,135.7 44.0,132.7 44.1,134.8 44.3,136.0 44.4,135.2 44.5,139.3 44.6,136.0 44.7,134.7 44.8,133.7 44.9,138.7 45.0,136.4 45.1,138.5 45.2,137.5 45.3,139.7 45.4,139.1 45.5,135.9 45.6,137.0 45.7,139.4 45.9,135.8 46.0,140.6 46.1,140.0 46.2,139.5 46.3,137.3 46.4,138.4 46.5,135.8 46.6,138.1 46.7,137.7 46.8,139.3 46.9,138.0 47.0,139.0 47.1,140.2 47.2,135.5 47.3,138.6 47.5,132.5 47.6,133.1 47.7,137.7 47.8,137.9 47.9,138.6 48.0,134.9 48.1,137.7 48.2,138.0 48.3,140.2 48.4,137.9 48.5,139.0 48.6,136.3 48.7,137.8 48.8,137.4 48.9,139.5 49.1,135.7 49.2,135.1 49.3,138.2 49.4,140.9 49.5,138.3 49.6,138.2 49.7,137.3 49.8,140.1 49.9,139.4 50.0,141.7 50.1,139.4 50.2,137.2 50.3,137.5 50.4,136.4 50.5,135.6 50.7,140.0 50.8,139.5 50.9,136.4 51.0,142.0 51.2,139.4 51.3,137.2 51.5,139.5 51.6,138.8 51.8,137.9 51.9,136.2 52.1,139.7 52.2,140.0 52.4,134.9 52.5,140.6 52.7,141.3 52.8,139.9 53.0,141.2 53.1,140.4 53.3,138.9 53.4,138.9 53.6,141.5 53.7,136.6 53.9,139.7 54.0,140.1 54.2,139.0 54.3,139.6 54.5,137.8 54.6,138.5 54.8,140.0 54.9,140.7 55.1,138.8 55.2,144.7 55.4,138.9 55.5,139.8 55.6,139.0 55.8,138.7 55.9,141.7 56.1,138.8 56.2,142.1 56.4,142.1 56.5,138.9 56.7,142.8 56.8,139.3 57.0,143.7 57.1,139.3 57.3,139.0 57.4,137.3 57.6,138.5 57.7,140.0 57.9,139.6 58.0,138.9 58.2,139.3 58.3,140.3 58.5,143.3 58.6,137.8 58.8,139.4 58.9,139.0 59.1,138.3 59.2,138.4 59.4,138.8 59.5,141.4 59.7,140.1 59.8,140.0 60.0,142.5 60.1,142.4 60.3,141.6 60.4,142.4 60.6,140.1 60.7,142.4 60.9,142.4 61.0,141.2 61.2,139.7 61.3,143.8 61.5,140.9 61.6,144.7 61.8,138.9 61.9,141.2 62.1,138.8 62.2,139.9 62.4,140.8 62.5,137.2 62.7,137.3 62.8,137.4 63.0,136.7 63.1,136.0 63.3,134.6 63.4,131.6 63.6,128.2 63.7,126.1 63.9,125.3 64.0,128.2 64.2,130.9 64.3,135.2 64.5,134.7 64.6,134.5 64.8,139.3 64.9,138.2 65.1,139.0 65.2,140.2 65.4,141.4 65.5,136.1 65.7,138.0 65.8,141.0 66.0,141.1 66.1,140.6 66.3,141.1 66.4,144.2 66.6,141.5 66.7,143.8 66.8,144.3 67.0,142.5 67.1,143.9 67.3,142.3 67.4,141.9 67.6,140.5 67.7,143.0 67.9,140.8 68.0,140.6 68.2,139.8 68.3,144.7 68.5,143.4 68.6,142.1 68.8,141.1 68.9,139.7 69.1,142.4 69.2,142.3 69.4,139.6 69.5,143.9 69.7,143.4 69.8,140.7 70.0,141.6 70.1,141.9 70.3,142.6 70.4,141.8 70.6,139.4 70.7,144.2 70.9,142.6 71.0,144.4 71.2,144.2 71.3,141.5 71.5,142.4 71.6,143.2 71.8,142.9 71.9,141.2 72.1,141.0 72.2,142.7 72.4,141.8 72.5,142.2 72.7,139.8 72.8,143.0 73.0,141.3 73.1,142.0 73.3,142.7 73.4,143.2 73.6,145.6 73.7,143.1 73.9,140.7 74.0,143.0 74.2,142.0 74.3,143.9 74.5,142.8 74.6,143.3 74.8,143.8 74.9,143.4 75.1,141.1 75.2,142.4 75.4,143.2 75.5,145.0 75.7,142.8 75.8,142.5 76.0,143.8 76.1,143.8 76.3,145.6 76.4,144.4 76.6,143.7 76.7,145.9 76.9,146.1 77.0,143.0 77.2,143.8 77.3,140.8 77.5,142.5 77.6,141.4 77.8,142.0 77.9,141.5 78.1,142.0 78.2,142.3 78.3,143.3 78.5,142.9 78.6,141.6 78.8,140.5 78.9,144.4 79.1,145.1 79.2,142.9 79.4,144.8 79.5,141.7 79.7,141.4 79.8,143.0 80.0,145.4 80.1,141.6 80.3,142.0 80.4,145.5 80.6,140.2 80.7,143.8 80.9,143.5 81.0,142.4 81.2,142.7 81.3,145.9 81.5,140.5 81.6,142.0 81.8,142.3 81.9,141.9 82.1,141.1 82.2,144.3 82.4,140.6 82.5,138.0 82.7,141.4 82.8,143.8 83.0,143.9 83.1,141.3 83.3,143.4 83.4,144.0 83.6,144.1 83.7,144.1 83.9,140.8 84.0,146.2 84.2,143.8 84.3,145.8 84.5,146.7 84.6,142.1 84.8,140.1 84.9,143.6 85.1,142.6 85.2,142.5 85.4,142.0 85.5,146.2 85.7,143.3 85.8,142.0 86.0,143.6 86.1,142.8 86.3,144.7 86.4,143.5 86.6,140.7 86.7,141.4 86.9,141.0 87.0,144.8 87.2,145.6 87.3,143.3 87.5,143.5 87.6,145.2 87.8,146.1 87.9,144.8 88.1,145.1 88.2,145.0 88.4,145.6 88.5,146.0 88.7,143.8 88.8,143.7 89.0,144.0 89.1,142.6 89.3,143.5 89.4,143.4 89.6,141.9 89.7,141.5 89.8,141.8 90.0,145.3 90.1,144.0 90.3,141.9 90.4,142.9 90.6,146.9 90.7,146.4 90.9,144.4 91.0,145.8 91.2,142.0 91.3,144.0 91.5,145.1 91.6,141.4 91.8,143.0 91.9,145.1 92.1,145.3 92.2,142.5 92.4,143.4 92.5,145.2 92.7,142.5 92.8,141.0 93.0,142.4 93.1,142.2 93.3,144.9 93.4,143.3 93.6,142.1 93.7,146.9 93.9,143.2 94.0,144.8 94.2,145.2 94.3,145.5 94.5,144.8 94.6,145.7 94.8,144.9 94.9,142.8 95.1,144.2 95.2,144.1 95.4,144.4 95.5,145.3 95.7,144.6 95.8,147.3 96.0,147.5 96.1,142.0 96.3,144.9 96.4,143.8 96.6,141.0 96.7,144.9 96.9,143.4 97.0,143.9 97.2,144.0 97.3,146.9 97.5,147.6 97.6,146.5 97.8,146.9 97.9,144.9 98.1,144.1 98.2,142.3 98.4,143.0 98.5,141.6 98.7,143.3 98.8,144.6 99.0,144.6 99.1,146.4 99.3,148.6 99.4,141.6 99.6,144.3 99.7,142.8 99.9,142.0 100.0,139.5 100.2,140.4 100.3,138.9 100.5,137.9 100.6,138.5 100.8,138.3 100.9,136.0 101.0,141.2 101.2,139.0 101.3,139.2 101.5,142.3 101.6,141.3 101.8,139.3 101.9,143.6 102.1,139.7 102.2,141.7 102.4,142.2 102.5,144.1 102.7,144.1 102.8,142.9 103.0,142.1 103.1,143.2 103.3,145.8 103.4,147.0 103.6,145.2 103.7,143.4 103.9,145.4 104.0,143.1 104.2,141.6 104.3,140.6 104.5,142.9 104.6,143.6 104.8,144.7 104.9,145.3 105.1,144.4 105.2,140.6 105.4,141.6 105.5,144.3 105.7,144.2 105.8,147.5 106.0,144.7 106.1,144.6 106.3,146.2 106.4,146.4 106.6,144.8 106.7,145.8 106.9,143.6 107.0,143.8 107.2,146.9 107.3,143.4 107.5,146.3 107.6,145.4 107.8,144.9 107.9,144.6 108.1,143.7 108.2,139.6 108.4,140.9 108.5,141.3 108.7,143.3 108.8,140.3 109.0,140.8 109.1,141.2 109.3,143.4 109.4,138.9 109.6,138.6 109.7,141.2 109.9,136.5 110.0,139.7 110.2,136.9 110.3,133.8 110.5,136.4 110.6,136.0 110.8,137.2 110.9,136.3 111.1,136.6 111.2,131.3 111.4,128.7 111.5,124.0 111.7,122.0 111.8,121.9 112.0,112.6 112.1,119.1 112.3,117.0 112.4,120.2 112.5,123.3 112.7,127.0 112.8,127.9 113.0,128.7 113.1,131.9 113.3,133.1 113.4,134.4 113.6,136.5 113.7,138.6 113.9,137.8 114.0,138.2 114.2,136.3 114.3,138.7 114.5,136.7 114.6,141.2 114.8,139.6 114.9,143.5 115.1,145.9 115.2,142.1 115.4,145.1 115.5,144.3 115.7,143.4 115.8,143.2 116.0,145.0 116.1,145.7 116.3,143.8 116.4,140.9 116.6,141.5 116.7,142.9 116.9,145.3 117.0,144.0 117.2,143.8 117.3,144.8 117.5,142.7 117.6,142.8 117.8,142.7 117.9,140.3 118.1,143.3 118.2,143.7 118.4,144.9 118.5,141.9 118.7,141.5 118.8,143.0 119.0,142.6 119.1,144.3 119.3,140.6 119.4,142.3 119.6,141.1 119.7,142.0 119.9,140.4 120.0,141.6 120.2,142.2 120.3,141.2 120.5,136.9 120.6,140.3 120.8,139.0 120.9,136.2 121.1,136.1 121.2,136.9 121.4,136.8 121.5,133.6 121.7,130.0 121.8,132.2 122.0,131.0 122.1,134.5 122.3,126.1 122.4,132.6 122.6,129.2 122.7,123.6 122.9,124.1 123.0,117.9 123.2,117.9 123.3,110.6 123.5,110.4 123.6,105.2 123.8,102.4 123.9,106.6 124.0,106.6 124.2,112.1 124.3,116.4 124.5,114.6 124.6,116.7 124.8,117.9 124.9,113.3 125.1,118.0 125.2,116.7 125.4,115.8 125.5,112.3 125.7,109.4 125.8,114.1 126.0,116.4 126.1,120.2 126.3,120.9 126.4,123.6 126.6,122.6 126.7,125.9 126.9,124.1 127.0,127.1 127.2,128.7 127.3,133.0 127.5,128.8 127.6,126.3 127.8,132.0 127.9,127.9 128.1,129.6 128.2,129.6 128.4,129.0 128.5,133.9 128.7,133.0 128.8,130.9 129.0,132.2 129.1,131.1 129.3,131.7 129.4,128.1 129.6,127.8 129.7,128.3 129.9,127.8 130.0,128.5 130.2,124.9 130.3,125.5 130.5,125.6 130.6,129.0 130.8,124.8 130.9,115.4 131.1,116.5 131.2,112.5 131.4,113.4 131.5,115.2 131.7,108.6 131.8,94.0 132.0,98.3 132.1,94.3 132.3,93.7 132.4,96.4 132.6,88.1 132.7,99.6 132.9,94.9 133.0,104.3 133.2,109.2 133.3,118.7 133.5,115.0 133.6,115.9 133.8,124.1 133.9,123.3 134.1,129.7 134.2,126.8 134.4,128.2 134.5,133.9 134.7,133.6 134.8,137.0 135.0,134.3 135.1,140.5 135.2,137.5 135.4,140.1 135.5,136.5 135.7,134.9 135.8,137.7 136.0,139.6 136.1,142.2 136.3,141.3 136.4,142.6 136.6,143.3 136.7,146.7 136.9,142.6 137.0,145.7 137.2,143.7 137.3,142.6 137.5,140.2 137.6,144.2 137.8,142.7 137.9,142.8 138.1,143.3 138.2,140.9 138.4,144.2 138.5,145.4 138.7,143.2 138.8,144.5 139.0,142.4 139.1,144.4 139.3,145.5 139.4,148.1 139.6,145.5 139.7,144.1 139.9,144.0 140.0,146.8 140.2,143.2 140.3,144.6 140.5,144.6 140.6,142.1 140.8,144.8 140.9,146.4 141.1,144.9 141.2,143.7 141.4,146.0 141.5,145.2 141.7,146.6 141.8,143.8 142.0,144.9 142.1,145.7 142.3,145.8 142.4,146.5 142.6,146.1 142.7,145.0 142.9,143.6 143.0,144.7 143.2,143.4 143.3,143.9 143.5,144.6 143.6,145.9 143.8,146.3 143.9,144.0 144.1,145.7 144.2,146.4 144.4,145.3 144.5,143.0 144.7,142.1 144.8,146.0 145.0,146.3 145.1,145.5 145.3,143.7 145.4,146.7 145.6,146.3 145.7,144.5 145.9,144.2 146.0,142.6 146.2,146.4 146.3,143.5 146.5,146.5 146.6,146.5 146.7,145.5 146.9,147.1 147.0,144.5 147.2,145.5 147.3,145.8 147.5,145.2 147.6,144.5 147.8,146.6 147.9,145.5 148.1,144.8 148.2,145.1 148.4,145.7 148.5,148.4 148.7,145.6 148.8,145.1 149.0,144.1 149.1,143.8 149.3,142.7 149.4,145.1 149.6,144.8 149.7,143.8 149.9,143.8 150.0,145.6 150.2,145.2 150.3,143.6 150.5,144.9 150.6,144.2 150.8,143.9 150.9,145.3 151.1,144.1 151.2,147.5 151.4,145.0 151.5,146.8 151.7,146.2 151.8,144.3 152.0,145.1 152.1,143.6 152.3,143.4 152.4,144.9 152.6,144.1 152.7,145.7 152.9,145.1 153.0,146.1 153.2,145.8 153.3,145.4 153.5,144.3 153.6,142.6 153.8,142.4 153.9,145.5 154.1,140.4 154.2,142.3 154.4,143.6 154.5,142.5 154.7,143.5 154.8,142.0 155.0,139.2 155.1,140.6 155.3,139.5 155.4,143.7 155.6,145.3 155.7,143.6 155.9,145.3 156.0,144.0 156.2,142.4 156.3,143.5 156.5,142.0 156.6,142.6 156.8,142.8 156.9,144.2 157.1,145.7 157.2,143.9 157.4,144.8 157.5,145.3 157.7,145.6 157.8,141.8 158.0,144.0 158.1,145.9 158.2,143.3 158.4,144.6 158.5,144.5 158.7,140.2 158.8,141.9 159.0,141.4 159.1,140.5 159.3,140.3 159.4,143.6 159.6,141.9 159.7,144.5 159.9,145.3 160.0,144.7 160.2,145.9 160.3,145.0 160.5,145.0 160.6,143.7 160.8,145.0 160.9,145.9 161.1,144.7 161.2,144.2 161.4,143.1 161.5,142.8 161.7,144.0 161.8,140.7 162.0,145.1 162.1,141.6 162.3,144.3 162.4,142.5 162.6,139.7 162.7,140.5 162.9,138.5 163.0,137.6 163.2,137.7 163.3,136.3 163.5,137.6 163.6,139.4 163.8,139.4 163.9,141.8 164.1,142.9 164.2,143.2 164.4,143.4 164.5,143.0 164.7,144.7 164.8,141.0 165.0,143.0 165.1,143.2 165.3,144.9 165.4,145.0 165.6,145.7 165.7,145.2 165.9,146.1 166.0,143.6 166.2,146.2 166.3,144.6 166.5,149.4 166.6,148.5 166.8,144.8 166.9,144.2 167.1,142.6 167.2,143.0 167.4,145.0 167.5,144.7 167.7,143.1 167.8,144.1 168.0,143.6 168.1,145.1 168.3,145.8 168.4,145.3 168.6,146.1 168.7,146.0 168.9,143.4 169.0,146.0 169.2,145.4 169.3,146.1 169.4,142.7 169.6,145.8 169.7,144.3 169.9,145.7 170.0,147.1 170.2,143.9 170.3,144.2 170.5,146.1 170.6,142.4 170.8,143.5 170.9,146.1 171.1,144.7 171.2,145.6 171.4,144.6 171.5,144.0 171.7,145.3 171.8,146.7 172.0,143.8 172.1,145.6 172.3,145.1 172.4,143.6 172.6,143.3 172.7,140.7 172.9,140.9 173.0,141.7 173.2,140.7 173.3,141.5 173.5,136.3 173.6,137.7 173.8,137.7 173.9,139.3 174.1,142.7 174.2,140.8 174.4,144.6 174.5,142.8 174.7,143.1 174.8,144.7 175.0,143.0 175.1,144.4 175.3,144.2 175.4,144.3 175.6,144.4 175.7,142.8 175.9,143.8 176.0,144.6 176.2,144.6 176.3,143.1 176.5,147.0 176.6,146.9 176.8,144.6 176.9,144.5 177.1,145.8 177.2,142.6 177.4,143.7 177.5,144.8 177.7,145.1 177.8,145.7 178.0,146.6 178.1,145.3 178.3,145.6 178.4,148.6 178.6,144.3 178.7,145.3 178.9,145.9 179.0,144.7 179.2,146.6 179.3,144.9 179.5,145.7 179.6,141.9 179.8,146.9 179.9,147.5 180.1,145.7 180.2,148.3 180.4,146.8 180.5,147.0 180.7,147.6 180.8,143.8 180.9,141.0 181.1,143.7 181.2,143.5 181.4,143.9 181.5,143.7 181.7,143.8 181.8,146.4 182.0,146.2 182.1,144.2 182.3,146.6 182.4,143.1 182.6,144.5 182.7,145.3 182.9,147.0 183.0,146.3 183.2,145.6 183.3,146.1 183.5,145.0 183.6,145.5 183.8,142.9 183.9,142.0 184.1,143.9 184.2,145.8 184.4,145.6 184.5,146.9 184.7,147.1 184.8,146.9 185.0,146.8 185.1,144.2 185.3,146.1 185.4,143.3 185.6,144.4 185.7,142.5 185.9,144.5 186.0,141.4 186.2,145.0 186.3,140.7 186.5,142.1 186.6,140.5 186.8,137.3 186.9,138.0 187.1,134.4 187.2,136.2 187.4,129.1 187.5,126.7 187.7,121.9 187.8,126.4 188.0,128.1 188.1,129.0 188.3,131.1 188.4,132.3 188.6,140.2 188.7,139.4 188.9,136.7 189.0,139.9 189.2,137.4 189.3,144.0 189.5,145.4 189.6,145.6 189.8,144.3 189.9,144.2 190.1,143.7 190.2,146.5 190.4,144.8 190.5,145.0 190.7,144.3 190.8,144.5 191.0,146.0 191.1,147.4 191.3,146.1 191.4,146.3 191.6,144.8 191.7,144.2 191.9,144.1 192.0,146.0 192.2,145.0 192.3,146.9 192.4,147.1 192.6,146.0 192.7,144.8 192.9,145.6 193.0,144.2 193.2,148.2 193.3,146.1 193.5,145.5 193.6,148.7 193.8,146.0 193.9,147.1 194.1,146.0 194.2,146.3 194.4,145.1 194.5,146.0 194.7,147.2 194.8,144.1 195.0,143.1 195.1,147.7 195.3,146.5 195.4,147.7 195.6,146.5 195.7,148.7 195.9,148.5 196.0,144.2 196.2,146.5 196.3,145.1 196.5,143.7 196.6,145.1 196.8,146.1 196.9,143.7 197.1,143.8 197.2,146.7 197.4,145.0 197.5,145.0 197.7,142.9 197.8,143.5 198.0,144.6 198.1,145.3 198.3,145.7 198.4,147.3 198.6,145.4 198.7,143.2 198.9,143.9 199.0,144.4 199.2,145.7 199.3,143.8 199.5,144.7 199.6,145.2 199.8,142.8 199.9,140.7 200.1,142.9 200.2,146.5 200.4,146.5 200.5,145.7 200.7,146.6 200.8,144.0 201.0,145.7 201.1,144.3 201.3,143.6 201.4,142.3 201.6,146.2 201.7,138.5 201.9,141.4 202.0,142.4 202.2,143.9 202.3,139.3 202.5,139.9 202.6,138.7 202.8,137.7 202.9,137.9 203.1,137.6 203.2,135.3 203.4,134.6 203.5,132.6 203.6,140.1 203.8,139.1 203.9,138.4 204.1,142.6 204.2,144.2 204.4,141.5 204.5,141.2 204.7,146.6 204.8,144.4 205.0,144.3 205.1,145.5 205.3,141.7 205.4,144.7 205.6,145.1 205.7,148.5 205.9,145.1 206.0,145.0 206.2,143.8 206.3,144.5 206.5,145.5 206.6,146.1 206.8,145.3 206.9,147.6 207.1,145.4 207.2,145.7 207.4,146.3 207.5,144.8 207.7,143.5 207.8,142.2 208.0,144.1 208.1,141.4 208.3,143.0 208.4,138.5 208.6,134.9 208.7,137.1 208.9,138.2 209.0,136.5 209.2,138.2 209.3,139.7 209.5,143.6 209.6,142.6 209.8,143.0 209.9,143.0 210.1,141.7 210.2,144.8 210.4,144.5 210.5,143.0 210.7,144.3 210.8,142.7 211.0,143.1 211.1,144.4 211.3,145.9 211.4,143.7 211.6,144.7 211.7,145.2 211.9,144.4 212.0,143.3 212.2,144.5 212.3,145.7 212.5,144.0 212.6,145.2 212.8,144.5 212.9,147.1 213.1,143.7 213.2,145.5 213.4,147.0 213.5,146.1 213.7,146.0 213.8,145.7 214.0,146.6 214.1,144.8 214.3,146.2 214.4,146.3 214.6,144.6 214.7,146.5 214.9,145.3 215.0,145.8 215.1,146.2 215.3,145.3 215.4,143.5 215.6,145.6 215.7,143.8 215.9,145.1 216.0,148.1 216.2,145.8 216.3,147.3 216.5,144.9 216.6,145.0 216.8,143.6 216.9,146.3 217.1,144.6 217.2,145.0 217.4,145.0 217.5,145.4 217.7,145.0 217.8,144.5 218.0,144.4 218.1,143.2 218.3,141.0 218.4,144.1 218.6,145.9 218.7,144.3 218.9,145.5 219.0,141.9 219.2,138.6 219.3,137.7 219.5,140.2 219.6,140.1 219.8,140.5 219.9,142.3 220.1,140.3 220.2,142.7 220.4,141.9 220.5,143.8 220.7,146.4 220.8,144.7 221.0,146.4 221.1,146.8 221.3,144.5 221.4,148.3 221.6,143.8 221.7,145.4 221.9,146.8 222.0,143.3 222.2,147.4 222.3,147.2 222.5,145.4 222.6,145.7 222.8,145.6 222.9,145.2 223.1,146.7 223.2,144.9 223.4,145.1 223.5,145.3 223.7,145.8 223.8,146.4 224.0,143.9 224.1,143.9 224.3,146.6 224.4,146.8 224.6,145.6 224.7,147.4 224.9,147.9 225.0,147.8 225.2,149.3 225.3,144.8 225.5,144.7 225.6,147.6 225.8,146.7 225.9,144.0 226.1,145.4 226.2,146.5 226.4,147.6 226.5,145.7 226.6,146.3 226.8,143.4 226.9,144.4 227.1,146.0 227.2,142.6 227.4,143.2 227.5,139.8 227.7,143.6 227.8,140.2 228.0,140.6 228.1,136.9 228.3,137.1 228.4,142.9 228.6,141.3 228.7,142.0 228.9,144.3 229.0,144.9 229.2,141.9 229.3,143.2 229.5,143.8 229.6,143.2 229.8,144.6 229.9,144.6 230.1,144.9 230.2,145.5 230.4,144.3 230.5,144.1 230.7,144.5 230.8,145.4 231.0,145.5 231.1,145.2 231.3,145.4 231.4,145.4 231.6,145.9 231.7,146.2 231.9,144.4 232.0,147.1 232.2,143.6 232.3,145.9 232.5,144.2 232.6,146.0 232.8,146.8 232.9,143.4 233.1,146.5 233.2,146.2 233.4,145.4 233.5,146.6 233.7,145.5 233.8,145.9 234.0,144.1 234.1,146.2 234.3,146.1 234.4,146.5 234.6,144.9 234.7,147.8 234.9,147.8 235.0,145.4 235.2,145.1 235.3,145.1 235.5,146.2 235.6,146.4 235.8,144.3 235.9,142.9 236.1,146.1 236.2,145.5 236.4,145.5 236.5,145.5 236.7,143.1 236.8,144.3 237.0,144.1 237.1,145.5 237.3,147.3 237.4,146.6 237.6,146.1 237.7,148.8 237.8,148.1 238.0,146.6 238.1,144.5 238.3,145.8 238.4,147.2 238.6,147.5 238.7,146.0 238.9,147.2 239.0,146.1 239.2,146.7 239.3,147.9 239.5,146.3 239.6,146.2 239.8,147.8 239.9,149.0 240.1,147.1 240.2,147.4 240.4,145.6 240.5,145.0 240.7,146.3 240.8,144.9 241.0,143.0 241.1,145.7 241.3,143.7 241.4,144.1 241.6,144.6 241.7,144.2 241.9,143.3 242.0,140.5 242.2,143.6 242.3,141.8 242.5,140.2 242.6,138.2 242.8,142.2 242.9,139.5 243.1,138.6 243.2,138.8 243.4,137.8 243.5,136.2 243.7,140.6 243.8,142.0 244.0,142.0 244.1,144.6 244.3,146.0 244.4,142.7 244.6,143.4 244.7,145.3 244.9,144.6 245.0,144.7 245.2,145.8 245.3,145.8 245.5,144.6 245.6,145.5 245.8,144.5 245.9,145.1 246.1,143.9 246.2,143.0 246.4,145.2 246.5,145.5 246.7,147.6 246.8,148.5 247.0,146.6 247.1,147.1 247.3,145.6 247.4,144.9 247.6,145.5 247.7,146.0 247.9,147.0 248.0,146.5 248.2,148.1 248.3,145.7 248.5,144.0 248.6,146.1 248.8,144.9 248.9,145.5 249.1,146.4 249.2,144.3 249.3,145.4 249.5,146.4 249.6,144.8 249.8,146.3 249.9,146.8 250.1,147.3 250.2,147.7 250.4,147.0 250.5,146.9 250.7,145.0 250.8,143.8 251.0,145.7 251.1,147.8 251.3,144.7 251.4,141.0 251.6,143.9 251.7,145.4 251.9,142.9 252.0,146.3 252.2,144.7 252.3,147.7 252.5,146.3 252.6,149.0 252.8,143.5 252.9,145.3 253.1,143.1 253.2,146.6 253.4,145.3 253.5,145.8 253.7,143.7 253.8,140.6 254.0,140.1 254.1,138.6 254.3,138.8 254.4,141.0 254.6,143.0 254.7,143.5 254.9,143.7 255.0,143.0 255.2,145.0 255.3,143.6 255.5,145.4 255.6,146.6 255.8,145.9 255.9,145.9 256.1,146.0 256.2,147.2 256.4,145.9 256.5,144.8 256.7,146.5 256.8,146.0 257.0,149.2 257.1,147.1 257.3,144.9 257.4,146.8 257.6,147.5 257.7,147.3 257.9,146.5 258.0,146.9 258.2,146.7 258.3,147.2 258.5,146.2 258.6,148.7 258.8,146.0 258.9,148.4 259.1,146.5 259.2,144.0 259.4,143.4 259.5,141.5 259.7,141.8 259.8,146.1 260.0,143.4 260.1,144.5 260.3,142.4 260.4,143.6 260.6,142.0 260.7,144.5 260.8,142.9 261.0,142.6 261.1,143.0 261.3,146.3 261.4,144.5 261.6,145.5 261.7,143.2 261.9,144.3 262.0,145.8 262.2,143.4 262.3,147.6 262.5,146.3 262.6,146.0 262.8,145.9 262.9,146.0 263.1,145.6 263.2,147.8 263.4,147.0 263.5,147.7 263.7,146.0 263.8,145.4 264.0,148.0 264.1,144.7 264.3,145.1 264.4,146.6 264.6,147.1 264.7,144.3 264.9,145.7 265.0,146.2 265.2,146.4 265.3,146.0 265.5,148.4 265.6,147.4 265.8,147.8 265.9,145.1 266.1,147.2 266.2,144.6 266.4,147.6 266.5,147.1 266.7,146.1 266.8,147.3 267.0,147.7 267.1,147.8 267.3,148.7 267.4,148.3 267.6,148.0 267.7,147.4 267.9,149.7 268.0,147.1 268.2,146.3 268.3,147.1 268.5,145.8 268.6,145.8 268.8,147.2 268.9,147.8 269.1,147.6 269.2,145.2 269.4,147.0 269.5,146.0 269.7,145.6 269.8,144.5 270.0,144.6 270.1,145.3 270.3,144.2 270.4,144.0 270.6,145.5 270.7,147.0 270.9,146.1 271.0,147.1 271.2,143.9 271.3,145.5 271.5,144.0 271.6,142.4 271.8,142.9 271.9,142.8 272.0,144.5 272.2,144.6 272.3,147.6 272.5,145.6 272.6,144.1 272.8,145.4 272.9,146.0 273.1,144.5 273.2,145.4 273.4,144.2 273.5,145.2 273.7,148.3 273.8,146.3 274.0,147.1 274.1,146.4 274.3,144.2 274.4,142.4 274.6,144.4 274.7,147.2 274.9,144.8 275.0,145.2 275.2,146.0 275.3,145.2 275.5,144.3 275.6,146.8 275.8,147.4 275.9,146.1 276.1,143.7 276.2,146.6 276.4,148.6 276.5,144.8 276.7,143.8 276.8,146.8 277.0,147.1 277.1,147.4 277.3,146.9 277.4,146.5 277.6,147.4 277.7,147.0 277.9,146.6 278.0,146.3 278.2,146.0 278.3,147.0 278.5,146.6 278.6,145.6 278.8,147.5 278.9,145.4 279.1,146.2 279.2,147.1 279.4,145.1 279.5,147.0 279.7,148.2 279.8,147.6 280.0,144.7 280.1,144.9 280.3,144.7 280.4,146.2 280.6,145.5 280.7,141.9 280.9,145.1 281.0,146.6 281.2,146.8 281.3,145.9 281.5,145.9 281.6,143.6 281.8,146.6 281.9,147.2 282.1,146.6 282.2,144.9 282.4,147.9 282.5,147.3 282.7,142.2 282.8,145.0 283.0,146.6 283.1,144.4 283.3,148.2 283.4,148.4 283.5,148.5 283.7,147.7 283.8,146.5 284.0,146.3 284.1,147.3 284.3,147.8 284.4,145.8 284.6,146.1 284.7,147.2 284.9,143.7 285.0,146.6 285.2,145.6 285.3,142.7 285.5,145.5 285.6,143.7 285.8,146.8 285.9,148.1 286.1,144.8 286.2,144.7 286.4,146.1 286.5,144.1 286.7,147.2 286.8,146.8 287.0,148.2 287.1,145.3 287.3,148.0 287.4,148.2 287.6,144.7 287.7,147.0 287.9,144.6 288.0,147.0 288.2,145.3 288.3,147.8 288.5,148.9 288.6,146.8 288.8,145.5 288.9,145.9 289.1,144.9 289.2,146.5 289.4,147.4 289.5,147.1 289.7,148.6 289.8,148.1 290.0,149.0 290.1,146.6 290.3,148.0 290.4,145.5 290.6,147.5 290.7,148.7 290.9,149.7 291.0,145.7 291.2,147.0 291.3,147.9 291.5,145.7 291.6,146.7 291.8,145.7 291.9,143.7 292.1,143.4 292.2,142.9 292.4,144.4 292.5,145.7 292.7,144.5 292.8,147.3 293.0,142.0 293.1,143.3 293.3,145.1 293.4,142.9 293.6,144.9 293.7,145.6 293.9,145.0 294.0,144.5 294.2,146.1 294.3,145.9 294.5,146.6 294.6,146.5 294.8,145.3 294.9,145.2 295.0,146.0 295.2,146.4 295.3,146.1 295.5,147.4 295.6,146.2 295.8,146.9 295.9,145.9 296.1,144.9 296.2,146.7 296.4,146.3 296.5,142.6 296.7,141.2 296.8,147.3 297.0,143.6 297.1,149.1 297.3,148.2 297.4,147.9 297.6,147.0 297.7,145.8 297.9,148.6 298.0,144.8 298.2,144.9 298.3,146.4 298.5,146.2 298.6,145.9 298.8,146.0 298.9,144.9 299.1,147.9 299.2,145.3 299.4,143.4 299.5,147.2 299.7,146.7 299.8,146.4 300.0,145.7 300.1,147.7 300.3,144.6 300.4,143.5 300.6,146.5 300.7,147.3 300.9,146.3 301.0,147.1 301.2,146.1 301.3,145.7 301.5,146.1 301.6,147.8 301.8,146.9 301.9,146.9 302.1,144.9 302.2,146.5 302.4,145.1 302.5,147.0 302.7,147.0 302.8,147.8 303.0,149.1 303.1,146.5 303.3,148.2 303.4,144.9 303.6,146.6 303.7,148.0 303.9,149.7 304.0,145.5 304.2,145.8 304.3,147.2 304.5,147.6 304.6,146.4 304.8,145.4 304.9,145.7 305.1,146.8 305.2,145.1 305.4,148.8 305.5,148.2 305.7,144.4 305.8,144.4 306.0,144.7 306.1,146.6 306.2,148.0 306.4,145.0 306.5,146.5 306.7,148.5 306.8,146.8 307.0,145.6 307.1,146.4 307.3,146.9 307.4,146.1 307.6,146.5 307.7,147.5 307.9,145.4 308.0,144.8 308.2,146.6 308.3,144.1 308.5,146.2 308.6,144.9 308.8,146.9 308.9,144.3 309.1,146.8 309.2,145.8 309.4,146.0 309.5,146.1 309.7,146.8 309.8,145.5 310.0,145.1 310.1,147.9 310.3,147.3 310.4,147.0 310.6,142.8 310.7,142.1 310.9,142.6 311.0,145.2 311.2,145.5 311.3,142.7 311.5,147.1 311.6,145.6 311.8,144.9 311.9,146.3 312.1,147.1 312.2,146.1 312.4,146.2 312.5,145.4 312.7,143.1 312.8,142.7 313.0,142.3 313.1,145.9 313.3,143.5 313.4,145.8 313.6,142.4 313.7,146.8 313.9,144.8 314.0,145.6 314.2,147.6 314.3,148.6 314.5,147.5 314.6,147.1 314.8,150.0 314.9,148.2 315.1,145.7 315.2,146.3 315.4,148.6 315.5,146.7 315.7,146.6 315.8,147.5 316.0,144.3 316.1,145.9 316.3,145.1 316.4,146.3 316.6,147.1 316.7,144.7 316.9,146.3 317.0,146.0 317.2,147.1 317.3,145.2 317.5,144.6 317.6,146.8 317.7,145.0 317.9,146.8 318.0,147.4 318.2,145.9 318.3,147.0 318.5,145.9 318.6,143.9 318.8,145.0 318.9,143.9 319.1,146.2 319.2,144.6 319.4,145.7 319.5,145.9 319.7,147.4 319.8,145.5 320.0,145.5 320.1,146.7 320.3,148.4 320.4,146.0 320.6,146.1 320.7,146.3 320.9,146.5 321.0,145.4 321.2,146.8 321.3,145.9 321.5,145.3 321.6,147.9 321.8,145.1 321.9,146.1 322.1,145.2 322.2,146.8 322.4,144.8 322.5,147.6 322.7,145.4 322.8,146.1 323.0,145.7 323.1,145.1 323.3,147.2 323.4,146.1 323.6,144.9 323.7,144.9 323.9,146.1 324.0,147.8 324.2,144.8 324.3,145.9 324.5,144.1 324.6,145.5 324.8,143.9 324.9,145.0 325.1,146.1 325.2,145.2 325.4,146.5 325.5,148.5 325.7,146.9 325.8,145.9 326.0,145.0 326.1,145.7 326.3,147.9 326.4,146.5 326.6,146.4 326.7,147.5 326.9,147.4 327.0,144.5 327.2,139.7 327.3,141.5 327.5,143.4 327.6,144.8 327.8,145.5 327.9,147.2 328.1,147.0 328.2,146.0"/>
<polyline fill="none" stroke="#ff0000" stroke-width="0.8" stroke-linejoin="round" points="8.2,156.3 8.3,144.5 8.4,149.3 8.5,144.7 8.6,144.8 8.7,145.7 8.8,144.5 8.9,147.1 9.1,145.3 9.2,161.5 9.3,151.6 9.4,149.4 9.5,150.2 9.6,149.1 9.7,147.9 9.8,151.3 9.9,155.4 10.0,152.8 10.1,158.5 10.2,153.9 10.3,155.1 10.4,161.9 10.5,157.8 10.7,153.3 10.8,154.8 10.9,158.1 11.0,164.1 11.1,154.9 11.2,155.2 11.3,160.8 11.4,153.5 11.5,156.7 11.6,162.3 11.7,161.1 11.8,158.7 11.9,161.3 12.0,148.0 12.1,162.9 12.3,155.1 12.4,152.6 12.5,161.0 12.6,162.9 12.7,158.4 12.8,156.1 12.9,160.8 13.0,160.8 13.1,166.9 13.2,164.3 13.3,162.1 13.4,166.0 13.5,161.3 13.6,157.8 13.7,163.2 13.9,164.8 14.0,162.9 14.1,160.7 14.2,164.8 14.3,154.6 14.4,167.7 14.5,167.4 14.6,159.2 14.7,165.9 14.8,161.9 14.9,168.8 15.0,158.1 15.1,162.6 15.2,169.0 15.3,170.7 15.5,157.9 15.6,164.3 15.7,167.6 15.8,164.3 15.9,173.1 16.0,162.4 16.1,167.8 16.2,162.7 16.3,172.3 16.4,167.0 16.5,166.0 16.6,161.3 16.7,174.7 16.8,171.7 16.9,172.3 17.1,174.1 17.2,171.4 17.3,167.8 17.4,167.4 17.5,167.9 17.6,176.4 17.7,166.3 17.8,169.5 17.9,170.2 18.0,171.9 18.1,171.2 18.2,162.7 18.3,163.0 18.4,171.5 18.5,176.3 18.7,175.1 18.8,173.6 18.9,172.1 19.0,174.0 19.1,171.8 19.2,176.4 19.3,171.3 19.4,174.7 19.5,173.9 19.6,176.3 19.7,175.3 19.8,183.8 19.9,180.2 20.0,180.1 20.1,167.3 20.3,172.8 20.4,171.7 20.5,176.0 20.6,166.6 20.7,179.2 20.8,179.4 20.9,171.2 21.0,171.0 21.1,170.4 21.2,174.3 21.3,177.7 21.4,183.2 21.5,176.1 21.6,180.0 21.7,178.0 21.9,183.2 22.0,179.3 22.1,181.0 22.2,172.4 22.3,175.6 22.4,173.9 22.5,182.4 22.6,180.0 22.7,176.2 22.8,175.0 22.9,178.8 23.0,175.8 23.1,175.0 23.2,179.7 23.3,186.9 23.5,178.2 23.6,177.0 23.7,175.0 23.8,174.5 23.9,180.8 24.0,181.8 24.1,178.8 24.2,179.7 24.3,179.0 24.4,179.3 24.5,174.2 24.6,178.3 24.7,180.5 24.8,177.6 24.9,178.4 25.1,177.0 25.2,178.4 25.3,182.3 25.4,178.4 25.5,179.6 25.6,183.0 25.7,182.6 25.8,186.1 25.9,174.0 26.0,183.2 26.1,178.6 26.2,181.4 26.3,184.4 26.4,185.2 26.5,184.9 26.7,181.7 26.8,186.0 26.9,179.6 27.0,179.8 27.1,182.8 27.2,179.0 27.3,188.2 27.4,185.5 27.5,190.0 27.6,183.6 27.7,182.6 27.8,184.2 27.9,185.8 28.0,181.7 28.1,185.0 28.3,184.0 28.4,189.2 28.5,181.0 28.6,185.0 28.7,180.5 28.8,180.5 28.9,181.4 29.0,180.1 29.1,184.4 29.2,187.1 29.3,184.5 29.4,184.7 29.5,186.4 29.6,183.6 29.7,184.8 29.9,183.0 30.0,178.8 30.1,187.0 30.2,180.2 30.3,187.4 30.4,185.3 30.5,188.8 30.6,185.2 30.7,182.8 30.8,186.1 30.9,183.3 31.0,184.7 31.1,185.8 31.2,185.8 31.3,185.9 31.5,184.0 31.6,185.7 31.7,179.8 31.8,185.7 31.9,182.7 32.0,189.5 32.1,189.9 32.2,179.9 32.3,185.5 32.4,185.0 32.5,182.8 32.6,187.5 32.7,185.1 32.8,181.8 32.9,186.4 33.1,186.9 33.2,187.9 33.3,184.4 33.4,189.8 33.5,190.4 33.6,185.5 33.7,187.1 33.8,188.4 33.9,186.3 34.0,192.7 34.1,187.8 34.2,183.6 34.3,184.4 34.4,187.0 34.5,194.0 34.7,187.2 34.8,188.1 34.9,189.1 35.0,187.2 35.1,193.6 35.2,185.9 35.3,189.9 35.4,188.6 35.5,190.0 35.6,184.9 35.7,193.2 35.8,188.2 35.9,188.8 36.0,186.1 36.1,186.4 36.3,189.6 36.4,190.7 36.5,190.2 36.6,191.8 36.7,190.8 36.8,187.7 36.9,188.6 37.0,189.6 37.1,189.4 37.2,191.8 37.3,193.5 37.4,190.9 37.5,189.7 37.6,192.9 37.7,196.0 37.9,189.9 38.0,189.8 38.1,189.5 38.2,193.3 38.3,185.0 38.4,191.0 38.5,193.9 38.6,189.0 38.7,195.2 38.8,192.6 38.9,189.7 39.0,191.6 39.1,187.1 39.2,190.0 39.3,196.4 39.5,189.1 39.6,196.4 39.7,190.6 39.8,193.2 39.9,191.3 40.0,185.6 40.1,190.3 40.2,192.7 40.3,189.5 40.4,189.0 40.5,193.0 40.6,189.7 40.7,186.6 40.8,189.2 40.9,193.4 41.1,190.0 41.2,193.6 41.3,195.0 41.4,191.2 41.5,188.4 41.6,188.1 41.7,191.6 41.8,194.1 41.9,192.6 42.0,193.0 42.1,190.2 42.2,192.0 42.3,190.1 42.4,190.6 42.5,188.2 42.7,187.6 42.8,190.6 42.9,189.4 43.0,190.2 43.1,194.6 43.2,192.7 43.3,199.4 43.4,195.3 43.5,191.7 43.6,195.3 43.7,193.9 43.8,190.8 43.9,194.8 44.0,190.1 44.1,185.9 44.3,194.6 44.4,191.4 44.5,196.8 44.6,191.5 44.7,190.1 44.8,196.9 44.9,190.6 45.0,193.4 45.1,196.2 45.2,193.8 45.3,194.2 45.4,194.8 45.5,196.7 45.6,192.6 45.7,195.8 45.9,195.4 46.0,199.5 46.1,193.0 46.2,191.7 46.3,195.7 46.4,193.0 46.5,194.8 46.6,194.5 46.7,197.0 46.8,192.7 46.9,194.2 47.0,188.4 47.1,192.5 47.2,198.2 47.3,192.6 47.5,192.3 47.6,191.0 47.7,195.4 47.8,194.9 47.9,192.0 48.0,196.7 48.1,195.9 48.2,197.2 48.3,193.9 48.4,199.5 48.5,196.3 48.6,194.9 48.7,193.7 48.8,194.0 48.9,196.3 49.1,193.6 49.2,197.1 49.3,196.4 49.4,198.5 49.5,197.3 49.6,195.0 49.7,190.4 49.8,195.3 49.9,195.8 50.0,193.0 50.1,193.8 50.2,193.1 50.3,193.3 50.4,191.2 50.5,198.0 50.7,196.6 50.8,195.2 50.9,193.4 51.0,196.0 51.2,199.5 51.3,197.0 51.5,194.0 51.6,198.8 51.8,198.7 51.9,197.6 52.1,197.2 52.2,198.1 52.4,196.7 52.5,195.4 52.7,190.3 52.8,197.7 53.0,197.1 53.1,201.3 53.3,192.0 53.4,197.7 53.6,197.8 53.7,194.7 53.9,195.7 54.0,195.5 54.2,195.9 54.3,194.2 54.5,195.1 54.6,198.1 54.8,199.3 54.9,197.2 55.1,197.3 55.2,197.5 55.4,199.1 55.5,194.5 55.6,194.0 55.8,197.5 55.9,195.0 56.1,196.3 56.2,197.8 56.4,198.6 56.5,194.9 56.7,198.3 56.8,192.1 57.0,196.0 57.1,190.7 57.3,192.2 57.4,197.2 57.6,195.3 57.7,194.7 57.9,195.7 58.0,197.9 58.2,197.0 58.3,197.2 58.5,199.4 58.6,195.5 58.8,195.9 58.9,195.6 59.1,198.9 59.2,198.9 59.4,199.8 59.5,196.9 59.7,196.6 59.8,198.9 60.0,196.6 60.1,199.7 60.3,199.9 60.4,197.3 60.6,198.7 60.7,198.6 60.9,201.9 61.0,203.0 61.2,197.4 61.3,197.7 61.5,192.8 61.6,197.9 61.8,197.4 61.9,194.8 62.1,197.7 62.2,192.0 62.4,194.6 62.5,194.9 62.7,191.3 62.8,195.3 63.0,194.8 63.1,187.8 63.3,185.9 63.4,188.9 63.6,186.2 63.7,183.4 63.9,187.3 64.0,189.8 64.2,191.5 64.3,195.2 64.5,194.4 64.6,197.4 64.8,197.8 64.9,197.3 65.1,198.1 65.2,198.5 65.4,197.4 65.5,194.7 65.7,200.2 65.8,199.5 66.0,203.1 66.1,200.1 66.3,200.7 66.4,200.2 66.6,202.9 66.7,199.8 66.8,198.4 67.0,199.0 67.1,197.3 67.3,198.5 67.4,198.4 67.6,199.1 67.7,202.3 67.9,197.8 68.0,198.8 68.2,197.5 68.3,198.4 68.5,196.1 68.6,198.1 68.8,199.1 68.9,200.1 69.1,199.1 69.2,198.6 69.4,198.4 69.5,201.3 69.7,203.0 69.8,200.6 70.0,199.6 70.1,199.5 70.3,196.9 70.4,198.5 70.6,198.7 70.7,199.8 70.9,199.0 71.0,196.5 71.2,200.6 71.3,201.6 71.5,198.1 71.6,199.5 71.8,199.4 71.9,199.8 72.1,195.2 72.2,202.0 72.4,199.3 72.5,203.0 72.7,200.9 72.8,199.7 73.0,199.5 73.1,200.8 73.3,197.3 73.4,198.4 73.6,198.4 73.7,196.3 73.9,201.7 74.0,200.0 74.2,198.5 74.3,200.9 74.5,197.2 74.6,198.6 74.8,201.0 74.9,198.9 75.1,193.9 75.2,194.2 75.4,195.6 75.5,198.0 75.7,197.5 75.8,200.0 76.0,201.4 76.1,198.5 76.3,200.3 76.4,201.4 76.6,200.7 76.7,200.5 76.9,198.9 77.0,201.2 77.2,199.6 77.3,202.5 77.5,204.5 77.6,198.1 77.8,195.1 77.9,197.8 78.1,199.2 78.2,200.2 78.3,200.3 78.5,197.8 78.6,198.3 78.8,201.7 78.9,197.3 79.1,200.9 79.2,198.7 79.4,200.9 79.5,201.3 79.7,201.6 79.8,201.5 80.0,198.2 80.1,200.5 80.3,200.5 80.4,201.8 80.6,203.8 80.7,201.5 80.9,201.2 81.0,201.4 81.2,202.0 81.3,203.5 81.5,200.3 81.6,203.2 81.8,201.1 81.9,199.8 82.1,197.6 82.2,200.1 82.4,200.8 82.5,196.4 82.7,201.6 82.8,202.7 83.0,200.3 83.1,200.1 83.3,203.2 83.4,201.0 83.6,198.1 83.7,200.5 83.9,200.9 84.0,201.5 84.2,197.6 84.3,202.4 84.5,200.5 84.6,202.1 84.8,201.2 84.9,202.6 85.1,200.3 85.2,198.9 85.4,200.6 85.5,201.8 85.7,199.1 85.8,202.4 86.0,200.9 86.1,199.6 86.3,202.9 86.4,198.7 86.6,201.1 86.7,198.6 86.9,201.5 87.0,199.4 87.2,199.8 87.3,202.5 87.5,200.7 87.6,200.2 87.8,199.4 87.9,201.0 88.1,198.1 88.2,198.6 88.4,200.1 88.5,198.8 88.7,199.1 88.8,200.3 89.0,200.6 89.1,200.9 89.3,204.3 89.4,203.3 89.6,203.7 89.7,201.6 89.8,200.7 90.0,199.1 90.1,200.8 90.3,197.8 90.4,199.8 90.6,201.7 90.7,202.9 90.9,202.2 91.0,199.7 91.2,202.3 91.3,200.2 91.5,202.6 91.6,200.8 91.8,202.2 91.9,204.8 92.1,202.1 92.2,204.5 92.4,201.3 92.5,200.9 92.7,203.9 92.8,204.7 93.0,200.9 93.1,201.5 93.3,198.7 93.4,200.4 93.6,202.0 93.7,200.3 93.9,199.5 94.0,198.4 94.2,201.9 94.3,203.1 94.5,202.7 94.6,201.6 94.8,197.9 94.9,200.4 95.1,196.7 95.2,198.9 95.4,202.0 95.5,197.7 95.7,201.3 95.8,201.4 96.0,202.1 96.1,203.4 96.3,201.8 96.4,198.0 96.6,200.4 96.7,201.4 96.9,201.3 97.0,199.1 97.2,198.6 97.3,202.0 97.5,201.5 97.6,200.8 97.8,198.0 97.9,203.5 98.1,196.5 98.2,199.7 98.4,203.5 98.5,200.0 98.7,201.0 98.8,199.1 99.0,202.8 99.1,197.8 99.3,200.7 99.4,200.1 99.6,197.4 99.7,201.1 99.9,197.2 100.0,197.5 100.2,197.1 100.3,194.8 100.5,195.0 100.6,194.9 100.8,192.2 100.9,191.8 101.0,192.5 101.2,194.2 101.3,197.8 101.5,197.2 101.6,199.1 101.8,198.6 101.9,197.4 102.1,200.5 102.2,197.8 102.4,199.8 102.5,202.4 102.7,198.2 102.8,199.7 103.0,197.2 103.1,198.7 103.3,197.1 103.4,199.0 103.6,199.0 103.7,200.5 103.9,203.0 104.0,200.5 104.2,200.9 104.3,200.9 104.5,201.1 104.6,199.8 104.8,197.3 104.9,199.2 105.1,202.3 105.2,201.2 105.4,199.5 105.5,202.2 105.7,198.5 105.8,198.3 106.0,197.6 106.1,198.2 106.3,199.6 106.4,203.5 106.6,200.4 106.7,199.3 106.9,200.0 107.0,200.6 107.2,198.2 107.3,200.7 107.5,201.2 107.6,200.0 107.8,199.9 107.9,196.3 108.1,195.2 108.2,199.9 108.4,199.5 108.5,195.0 108.7,197.7 108.8,197.2 109.0,198.1 109.1,197.6 109.3,196.5 109.4,197.7 109.6,197.5 109.7,196.8 109.9,193.3 110.0,191.4 110.2,194.1 110.3,192.3 110.5,195.3 110.6,195.9 110.8,194.6 110.9,192.7 111.1,192.2 111.2,192.6 111.4,187.0 111.5,188.6 111.7,186.5 111.8,183.9 112.0,185.6 112.1,179.9 112.3,183.8 112.4,180.1 112.5,182.5 112.7,184.4 112.8,189.9 113.0,189.5 113.1,193.7 113.3,193.3 113.4,198.4 113.6,200.0 113.7,197.0 113.9,199.1 114.0,197.1 114.2,199.8 114.3,196.9 114.5,195.2 114.6,201.2 114.8,199.7 114.9,198.9 115.1,199.7 115.2,198.1 115.4,200.2 115.5,198.8 115.7,202.8 115.8,201.6 116.0,198.0 116.1,198.2 116.3,199.7 116.4,197.7 116.6,200.3 116.7,200.0 116.9,198.4 117.0,198.3 117.2,199.6 117.3,200.9 117.5,201.1 117.6,199.2 117.8,201.0 117.9,198.9 118.1,200.7 118.2,198.0 118.4,199.9 118.5,196.0 118.7,196.2 118.8,197.8 119.0,198.7 119.1,195.3 119.3,196.5 119.4,197.3 119.6,197.0 119.7,195.0 119.9,196.8 120.0,196.5 120.2,199.4 120.3,198.2 120.5,195.1 120.6,193.4 120.8,196.0 120.9,196.3 121.1,194.7 121.2,196.2 121.4,193.6 121.5,191.8 121.7,195.2 121.8,193.8 122.0,194.5 122.1,189.0 122.3,190.1 122.4,189.3 122.6,192.5 122.7,188.3 122.9,186.2 123.0,184.4 123.2,187.1 123.3,182.6 123.5,178.5 123.6,175.4 123.8,173.0 123.9,177.8 124.0,167.9 124.2,170.6 124.3,175.9 124.5,179.1 124.6,177.6 124.8,181.7 124.9,183.2 125.1,184.9 125.2,183.5 125.4,187.4 125.5,184.2 125.7,187.2 125.8,181.5 126.0,186.3 126.1,181.6 126.3,181.2 126.4,185.8 126.6,183.7 126.7,187.5 126.9,185.5 127.0,192.0 127.2,189.5 127.3,187.8 127.5,190.7 127.6,192.2 127.8,188.9 127.9,191.5 128.1,194.6 128.2,192.4 128.4,190.6 128.5,189.6 128.7,191.9 128.8,187.6 129.0,185.0 129.1,188.4 129.3,186.9 129.4,192.0 129.6,188.4 129.7,185.8 129.9,184.9 130.0,187.6 130.2,183.9 130.3,183.5 130.5,183.8 130.6,183.5 130.8,182.4 130.9,181.0 131.1,182.1 131.2,181.2 131.4,170.1 131.5,178.8 131.7,168.8 131.8,168.8 132.0,159.2 132.1,160.0 132.3,157.3 132.4,156.0 132.6,159.9 132.7,161.7 132.9,159.6 133.0,166.1 133.2,172.6 133.3,176.4 133.5,177.4 133.6,180.4 133.8,182.9 133.9,182.9 134.1,184.2 134.2,191.3 134.4,188.7 134.5,190.9 134.7,190.6 134.8,195.2 135.0,196.7 135.1,194.1 135.2,196.2 135.4,195.0 135.5,200.0 135.7,199.1 135.8,196.6 136.0,200.0 136.1,199.0 136.3,199.4 136.4,199.8 136.6,198.7 136.7,199.2 136.9,201.0 137.0,200.1 137.2,198.9 137.3,203.3 137.5,200.6 137.6,200.5 137.8,200.5 137.9,202.8 138.1,203.4 138.2,202.5 138.4,203.5 138.5,200.3 138.7,201.9 138.8,201.6 139.0,202.0 139.1,202.3 139.3,198.6 139.4,204.1 139.6,199.0 139.7,201.6 139.9,203.1 140.0,203.0 140.2,201.9 140.3,197.7 140.5,199.8 140.6,202.7 140.8,201.1 140.9,201.7 141.1,200.4 141.2,205.3 141.4,204.0 141.5,201.8 141.7,202.5 141.8,202.4 142.0,201.0 142.1,202.4 142.3,203.5 142.4,204.3 142.6,205.3 142.7,203.5 142.9,202.4 143.0,203.1 143.2,201.4 143.3,200.3 143.5,202.1 143.6,198.7 143.8,200.4 143.9,202.4 144.1,200.4 144.2,202.8 144.4,202.7 144.5,202.0 144.7,202.5 144.8,200.7 145.0,199.3 145.1,202.5 145.3,202.0 145.4,204.8 145.6,204.2 145.7,203.2 145.9,203.9 146.0,205.4 146.2,204.7 146.3,203.1 146.5,202.7 146.6,201.3 146.7,201.2 146.9,202.0 147.0,200.9 147.2,201.3 147.3,199.6 147.5,199.4 147.6,200.0 147.8,202.2 147.9,204.1 148.1,203.1 148.2,200.5 148.4,199.7 148.5,202.1 148.7,201.1 148.8,198.4 149.0,201.5 149.1,200.5 149.3,202.7 149.4,202.3 149.6,203.7 149.7,203.1 149.9,201.0 150.0,201.3 150.2,200.3 150.3,202.3 150.5,200.1 150.6,199.8 150.8,203.1 150.9,204.0 151.1,204.6 151.2,204.2 151.4,200.8 151.5,201.8 151.7,201.9 151.8,202.3 152.0,199.2 152.1,201.7 152.3,202.0 152.4,199.5 152.6,200.1 152.7,202.2 152.9,201.4 153.0,202.6 153.2,202.7 153.3,202.2 153.5,202.4 153.6,201.7 153.8,204.0 153.9,201.5 154.1,200.9 154.2,202.4 154.4,197.8 154.5,196.7 154.7,199.0 154.8,199.0 155.0,198.7 155.1,199.8 155.3,199.8 155.4,197.1 155.6,198.3 155.7,202.8 155.9,202.0 156.0,198.3 156.2,198.8 156.3,201.0 156.5,200.1 156.6,201.7 156.8,201.0 156.9,202.1 157.1,197.3 157.2,196.7 157.4,202.0 157.5,201.8 157.7,204.6 157.8,204.3 158.0,203.8 158.1,202.6 158.2,201.1 158.4,201.5 158.5,203.7 158.7,204.3 158.8,205.0 159.0,204.9 159.1,205.0 159.3,203.3 159.4,202.1 159.6,203.4 159.7,203.3 159.9,202.6 160.0,200.4 160.2,201.6 160.3,200.0 160.5,201.6 160.6,199.7 160.8,200.7 160.9,201.3 161.1,201.0 161.2,202.6 161.4,199.0 161.5,197.0 161.7,200.6 161.8,200.2 162.0,199.3 162.1,196.7 162.3,196.2 162.4,194.4 162.6,190.6 162.7,189.9 162.9,190.1 163.0,186.7 163.2,191.6 163.3,186.2 163.5,190.1 163.6,194.8 163.8,193.9 163.9,195.0 164.1,196.3 164.2,198.5 164.4,202.3 164.5,200.8 164.7,200.5 164.8,198.5 165.0,201.0 165.1,201.0 165.3,200.5 165.4,201.7 165.6,202.7 165.7,203.8 165.9,202.1 166.0,202.8 166.2,204.9 166.3,201.0 166.5,200.2 166.6,203.6 166.8,203.3 166.9,202.5 167.1,203.0 167.2,202.4 167.4,203.8 167.5,203.0 167.7,204.4 167.8,201.7 168.0,202.0 168.1,203.1 168.3,202.2 168.4,203.9 168.6,203.2 168.7,202.6 168.9,203.6 169.0,202.4 169.2,201.1 169.3,202.0 169.4,202.7 169.6,203.0 169.7,203.1 169.9,203.5 170.0,203.6 170.2,205.4 170.3,204.2 170.5,201.0 170.6,202.5 170.8,203.0 170.9,202.1 171.1,203.3 171.2,204.4 171.4,203.3 171.5,204.3 171.7,203.5 171.8,204.0 172.0,202.8 172.1,203.7 172.3,202.4 172.4,203.2 172.6,199.5 172.7,201.9 172.9,203.2 173.0,202.4 173.2,201.4 173.3,201.5 173.5,198.5 173.6,197.9 173.8,198.5 173.9,199.3 174.1,201.6 174.2,199.7 174.4,202.8 174.5,199.7 174.7,200.9 174.8,202.0 175.0,203.1 175.1,200.4 175.3,199.1 175.4,202.9 175.6,202.2 175.7,200.7 175.9,201.0 176.0,201.9 176.2,203.6 176.3,204.4 176.5,201.5 176.6,206.7 176.8,204.1 176.9,203.7 177.1,205.0 177.2,204.3 177.4,207.1 177.5,202.3 177.7,197.2 177.8,200.2 178.0,203.1 178.1,203.4 178.3,204.9 178.4,203.4 178.6,206.1 178.7,202.2 178.9,200.4 179.0,202.9 179.2,200.4 179.3,201.7 179.5,203.6 179.6,202.9 179.8,202.7 179.9,202.9 180.1,201.2 180.2,201.6 180.4,200.3 180.5,199.9 180.7,204.2 180.8,201.7 180.9,202.3 181.1,205.3 181.2,205.2 181.4,203.4 181.5,203.5 181.7,203.2 181.8,201.1 182.0,203.6 182.1,203.9 182.3,204.1 182.4,205.2 182.6,205.3 182.7,206.8 182.9,206.4 183.0,202.0 183.2,204.8 183.3,201.8 183.5,201.3 183.6,204.2 183.8,202.7 183.9,203.2 184.1,204.7 184.2,202.2 184.4,201.8 184.5,203.7 184.7,205.2 184.8,204.5 185.0,202.0 185.1,203.3 185.3,204.1 185.4,206.7 185.6,204.9 185.7,204.3 185.9,204.2 186.0,201.9 186.2,202.6 186.3,202.1 186.5,199.2 186.6,199.5 186.8,198.7 186.9,194.8 187.1,197.6 187.2,197.6 187.4,196.8 187.5,192.1 187.7,191.8 187.8,193.2 188.0,192.4 188.1,191.4 188.3,195.4 188.4,199.4 188.6,198.2 188.7,199.5 188.9,203.5 189.0,200.5 189.2,200.9 189.3,200.1 189.5,200.9 189.6,204.1 189.8,202.1 189.9,201.0 190.1,201.5 190.2,202.8 190.4,203.9 190.5,202.1 190.7,204.1 190.8,202.9 191.0,204.3 191.1,204.7 191.3,204.9 191.4,203.5 191.6,203.9 191.7,205.0 191.9,203.1 192.0,205.1 192.2,205.3 192.3,205.5 192.4,203.6 192.6,202.9 192.7,203.2 192.9,202.2 193.0,203.2 193.2,204.3 193.3,204.7 193.5,203.5 193.6,204.7 193.8,202.4 193.9,205.7 194.1,203.6 194.2,204.4 194.4,202.0 194.5,202.6 194.7,203.8 194.8,204.8 195.0,201.5 195.1,204.0 195.3,202.8 195.4,202.4 195.6,204.3 195.7,203.6 195.9,203.5 196.0,202.9 196.2,203.9 196.3,203.8 196.5,203.8 196.6,202.8 196.8,203.1 196.9,204.0 197.1,204.9 197.2,203.2 197.4,204.8 197.5,202.8 197.7,201.3 197.8,203.7 198.0,202.1 198.1,204.2 198.3,205.4 198.4,203.7 198.6,203.9 198.7,206.2 198.9,202.7 199.0,203.6 199.2,205.0 199.3,203.9 199.5,203.6 199.6,203.9 199.8,200.0 199.9,204.6 200.1,201.4 200.2,201.3 200.4,203.3 200.5,202.7 200.7,201.3 200.8,203.2 201.0,201.2 201.1,201.3 201.3,199.6 201.4,200.1 201.6,201.3 201.7,200.3 201.9,199.7 202.0,200.3 202.2,198.8 202.3,197.6 202.5,197.5 202.6,199.3 202.8,194.8 202.9,193.3 203.1,190.9 203.2,190.7 203.4,191.4 203.5,192.0 203.6,193.6 203.8,194.6 203.9,196.2 204.1,199.4 204.2,201.0 204.4,202.0 204.5,201.3 204.7,200.7 204.8,203.3 205.0,203.8 205.1,201.6 205.3,205.1 205.4,204.9 205.6,206.2 205.7,202.5 205.9,202.2 206.0,204.7 206.2,201.4 206.3,202.7 206.5,202.0 206.6,201.9 206.8,200.4 206.9,202.2 207.1,203.5 207.2,202.7 207.4,202.9 207.5,202.0 207.7,204.2 207.8,202.8 208.0,203.4 208.1,199.6 208.3,201.7 208.4,199.0 208.6,200.2 208.7,197.9 208.9,194.2 209.0,197.6 209.2,200.7 209.3,199.8 209.5,200.1 209.6,198.4 209.8,199.3 209.9,199.4 210.1,201.9 210.2,204.1 210.4,203.8 210.5,203.7 210.7,202.5 210.8,204.8 211.0,204.2 211.1,202.5 211.3,203.0 211.4,204.8 211.6,203.7 211.7,206.4 211.9,204.2 212.0,202.8 212.2,203.5 212.3,206.5 212.5,203.5 212.6,205.4 212.8,204.0 212.9,204.1 213.1,203.0 213.2,202.2 213.4,203.3 213.5,202.8 213.7,204.0 213.8,202.6 214.0,205.0 214.1,202.3 214.3,201.3 214.4,198.3 214.6,200.9 214.7,202.6 214.9,203.3 215.0,204.9 215.1,203.6 215.3,203.5 215.4,206.2 215.6,204.7 215.7,204.3 215.9,206.5 216.0,205.3 216.2,200.1 216.3,203.0 216.5,204.8 216.6,204.9 216.8,203.1 216.9,205.5 217.1,202.4 217.2,203.1 217.4,203.6 217.5,203.4 217.7,204.1 217.8,203.8 218.0,201.8 218.1,203.1 218.3,199.9 218.4,200.2 218.6,202.7 218.7,200.0 218.9,201.2 219.0,198.9 219.2,199.3 219.3,200.1 219.5,201.1 219.6,201.0 219.8,202.0 219.9,203.1 220.1,203.8 220.2,202.3 220.4,203.2 220.5,203.7 220.7,200.6 220.8,199.4 221.0,204.0 221.1,204.6 221.3,203.6 221.4,204.6 221.6,203.7 221.7,203.7 221.9,205.3 222.0,202.4 222.2,205.9 222.3,204.4 222.5,205.5 222.6,207.5 222.8,207.4 222.9,204.3 223.1,205.5 223.2,203.2 223.4,204.0 223.5,205.0 223.7,206.0 223.8,203.3 224.0,204.8 224.1,204.5 224.3,203.0 224.4,204.5 224.6,206.5 224.7,204.4 224.9,205.0 225.0,205.3 225.2,203.4 225.3,205.6 225.5,205.9 225.6,206.6 225.8,206.9 225.9,204.8 226.1,204.4 226.2,203.4 226.4,202.4 226.5,201.9 226.6,204.1 226.8,204.9 226.9,202.3 227.1,204.0 227.2,200.6 227.4,201.2 227.5,199.1 227.7,197.4 227.8,200.0 228.0,200.3 228.1,200.2 228.3,200.8 228.4,200.6 228.6,202.3 228.7,202.3 228.9,203.8 229.0,202.0 229.2,203.7 229.3,203.8 229.5,204.9 229.6,205.0 229.8,204.0 229.9,201.3 230.1,198.7 230.2,202.5 230.4,205.9 230.5,206.6 230.7,201.9 230.8,204.6 231.0,205.4 231.1,204.7 231.3,206.1 231.4,205.4 231.6,204.1 231.7,204.1 231.9,201.8 232.0,202.6 232.2,203.0 232.3,205.7 232.5,202.9 232.6,204.2 232.8,204.9 232.9,204.3 233.1,206.0 233.2,204.6 233.4,206.5 233.5,207.6 233.7,209.6 233.8,207.5 234.0,207.8 234.1,205.4 234.3,204.9 234.4,206.3 234.6,204.8 234.7,205.6 234.9,204.7 235.0,206.6 235.2,207.4 235.3,203.8 235.5,207.1 235.6,205.0 235.8,204.6 235.9,203.6 236.1,204.7 236.2,202.8 236.4,203.8 236.5,204.2 236.7,205.6 236.8,206.3 237.0,206.2 237.1,205.8 237.3,204.8 237.4,203.3 237.6,205.8 237.7,205.2 237.8,205.3 238.0,206.7 238.1,205.1 238.3,205.4 238.4,202.8 238.6,206.1 238.7,204.9 238.9,203.8 239.0,205.1 239.2,203.4 239.3,203.9 239.5,207.0 239.6,206.2 239.8,206.9 239.9,206.2 240.1,205.4 240.2,204.8 240.4,207.2 240.5,203.7 240.7,204.2 240.8,202.7 241.0,202.3 241.1,199.3 241.3,199.8 241.4,204.5 241.6,204.3 241.7,201.2 241.9,200.9 242.0,200.5 242.2,196.3 242.3,199.3 242.5,194.1 242.6,195.2 242.8,193.7 242.9,201.8 243.1,200.9 243.2,203.9 243.4,200.7 243.5,202.3 243.7,201.8 243.8,203.1 244.0,206.4 244.1,206.9 244.3,205.9 244.4,203.8 244.6,205.5 244.7,206.0 244.9,205.2 245.0,205.7 245.2,206.4 245.3,205.4 245.5,207.3 245.6,208.9 245.8,205.2 245.9,206.1 246.1,205.6 246.2,200.0 246.4,201.3 246.5,202.3 246.7,205.2 246.8,203.9 247.0,204.3 247.1,204.6 247.3,204.9 247.4,205.1 247.6,202.5 247.7,207.7 247.9,205.5 248.0,204.6 248.2,205.4 248.3,206.6 248.5,204.9 248.6,205.4 248.8,204.9 248.9,205.8 249.1,203.6 249.2,204.6 249.3,204.4 249.5,204.0 249.6,206.0 249.8,204.7 249.9,203.4 250.1,205.6 250.2,205.7 250.4,205.8 250.5,206.2 250.7,208.7 250.8,205.5 251.0,205.0 251.1,203.5 251.3,205.1 251.4,203.3 251.6,202.4 251.7,201.9 251.9,204.0 252.0,203.8 252.2,200.0 252.3,200.3 252.5,201.3 252.6,200.9 252.8,196.5 252.9,197.2 253.1,198.7 253.2,196.5 253.4,197.0 253.5,197.6 253.7,197.6 253.8,200.6 254.0,202.0 254.1,200.4 254.3,202.9 254.4,204.5 254.6,203.5 254.7,204.6 254.9,201.6 255.0,203.0 255.2,201.9 255.3,206.9 255.5,203.3 255.6,202.4 255.8,203.1 255.9,204.5 256.1,204.3 256.2,204.0 256.4,204.1 256.5,205.0 256.7,205.4 256.8,204.2 257.0,206.6 257.1,203.7 257.3,203.0 257.4,202.9 257.6,206.3 257.7,204.2 257.9,204.0 258.0,206.9 258.2,207.1 258.3,206.6 258.5,203.2 258.6,205.0 258.8,205.6 258.9,204.4 259.1,202.3 259.2,201.7 259.4,197.7 259.5,200.2 259.7,205.9 259.8,203.2 260.0,200.1 260.1,200.0 260.3,203.2 260.4,202.4 260.6,204.0 260.7,202.3 260.8,203.1 261.0,204.0 261.1,202.5 261.3,201.5 261.4,202.6 261.6,203.3 261.7,203.9 261.9,203.9 262.0,203.6 262.2,204.0 262.3,202.1 262.5,205.4 262.6,207.0 262.8,205.8 262.9,206.1 263.1,207.4 263.2,206.4 263.4,205.6 263.5,205.1 263.7,204.4 263.8,203.8 264.0,206.1 264.1,206.9 264.3,204.4 264.4,205.9 264.6,206.4 264.7,205.4 264.9,204.4 265.0,204.1 265.2,201.4 265.3,203.5 265.5,203.0 265.6,205.9 265.8,205.0 265.9,203.9 266.1,204.3 266.2,206.5 266.4,206.5 266.5,204.9 266.7,204.7 266.8,203.3 267.0,204.8 267.1,205.1 267.3,204.3 267.4,207.2 267.6,202.4 267.7,204.6 267.9,205.5 268.0,206.1 268.2,208.4 268.3,205.1 268.5,206.1 268.6,207.0 268.8,207.0 268.9,205.9 269.1,205.0 269.2,207.6 269.4,205.1 269.5,205.2 269.7,207.1 269.8,206.9 270.0,205.3 270.1,203.1 270.3,203.5 270.4,203.9 270.6,203.8 270.7,204.6 270.9,206.6 271.0,205.2 271.2,204.1 271.3,204.3 271.5,203.6 271.6,206.2 271.8,201.4 271.9,203.8 272.0,200.2 272.2,200.0 272.3,200.1 272.5,204.2 272.6,203.4 272.8,207.3 272.9,202.8 273.1,203.0 273.2,205.4 273.4,205.5 273.5,204.6 273.7,202.5 273.8,206.9 274.0,205.7 274.1,205.5 274.3,204.3 274.4,206.0 274.6,204.5 274.7,205.1 274.9,204.6 275.0,206.3 275.2,204.2 275.3,204.5 275.5,206.4 275.6,205.5 275.8,205.2 275.9,204.8 276.1,206.2 276.2,204.1 276.4,205.7 276.5,208.1 276.7,206.6 276.8,205.6 277.0,205.3 277.1,207.1 277.3,205.2 277.4,204.3 277.6,205.1 277.7,204.1 277.9,206.1 278.0,203.9 278.2,208.3 278.3,204.9 278.5,205.4 278.6,206.3 278.8,206.0 278.9,206.3 279.1,203.9 279.2,202.1 279.4,204.4 279.5,202.2 279.7,204.1 279.8,206.5 280.0,205.1 280.1,204.8 280.3,204.3 280.4,205.7 280.6,206.2 280.7,204.4 280.9,206.4 281.0,204.1 281.2,205.5 281.3,204.7 281.5,206.7 281.6,206.7 281.8,205.6 281.9,205.4 282.1,206.3 282.2,207.7 282.4,207.7 282.5,206.9 282.7,207.2 282.8,208.9 283.0,204.7 283.1,207.2 283.3,205.0 283.4,207.4 283.5,204.9 283.7,205.3 283.8,204.1 284.0,205.5 284.1,206.3 284.3,207.1 284.4,202.8 284.6,203.5 284.7,208.0 284.9,206.8 285.0,206.0 285.2,206.9 285.3,203.4 285.5,208.8 285.6,206.5 285.8,204.1 285.9,207.2 286.1,204.9 286.2,204.0 286.4,205.4 286.5,205.8 286.7,204.5 286.8,204.3 287.0,203.6 287.1,204.4 287.3,207.5 287.4,207.8 287.6,206.2 287.7,205.3 287.9,203.6 288.0,203.4 288.2,202.3 288.3,205.9 288.5,203.3 288.6,205.0 288.8,204.7 288.9,203.1 289.1,208.1 289.2,205.8 289.4,205.4 289.5,206.5 289.7,205.0 289.8,205.9 290.0,204.4 290.1,206.2 290.3,205.6 290.4,203.9 290.6,207.1 290.7,206.3 290.9,204.8 291.0,206.7 291.2,206.6 291.3,208.3 291.5,204.7 291.6,206.5 291.8,205.0 291.9,205.8 292.1,205.0 292.2,205.7 292.4,206.7 292.5,204.2 292.7,202.5 292.8,205.7 293.0,205.7 293.1,206.5 293.3,207.3 293.4,206.1 293.6,207.7 293.7,205.9 293.9,205.8 294.0,206.5 294.2,206.3 294.3,205.7 294.5,206.3 294.6,205.3 294.8,205.4 294.9,206.2 295.0,207.2 295.2,205.6 295.3,206.2 295.5,206.5 295.6,207.9 295.8,206.1 295.9,206.9 296.1,205.9 296.2,205.9 296.4,205.9 296.5,205.8 296.7,206.5 296.8,205.2 297.0,204.1 297.1,205.2 297.3,205.9 297.4,206.7 297.6,205.6 297.7,206.1 297.9,207.0 298.0,203.7 298.2,204.3 298.3,205.1 298.5,204.6 298.6,203.6 298.8,206.6 298.9,205.4 299.1,204.1 299.2,207.5 299.4,203.4 299.5,205.4 299.7,205.2 299.8,206.8 300.0,207.7 300.1,205.8 300.3,206.2 300.4,205.6 300.6,204.2 300.7,207.0 300.9,206.0 301.0,205.6 301.2,205.1 301.3,205.3 301.5,205.7 301.6,204.8 301.8,207.1 301.9,202.3 302.1,202.8 302.2,204.1 302.4,200.8 302.5,204.2 302.7,205.1 302.8,206.9 303.0,206.6 303.1,207.5 303.3,206.6 303.4,206.4 303.6,204.8 303.7,205.0 303.9,204.0 304.0,202.7 304.2,202.4 304.3,201.6 304.5,202.9 304.6,201.4 304.8,206.8 304.9,206.1 305.1,208.2 305.2,207.4 305.4,205.7 305.5,206.2 305.7,202.9 305.8,206.2 306.0,206.8 306.1,204.6 306.2,208.6 306.4,207.4 306.5,207.3 306.7,204.7 306.8,207.0 307.0,207.0 307.1,206.4 307.3,205.1 307.4,207.2 307.6,207.8 307.7,206.8 307.9,207.9 308.0,206.2 308.2,207.5 308.3,208.2 308.5,208.3 308.6,211.3 308.8,208.0 308.9,205.8 309.1,206.6 309.2,203.6 309.4,205.5 309.5,206.6 309.7,205.6 309.8,206.5 310.0,206.1 310.1,207.6 310.3,206.6 310.4,209.6 310.6,208.0 310.7,206.7 310.9,204.8 311.0,207.8 311.2,205.7 311.3,205.5 311.5,205.9 311.6,205.6 311.8,204.9 311.9,208.3 312.1,206.5 312.2,204.4 312.4,205.2 312.5,202.7 312.7,206.9 312.8,207.1 313.0,208.5 313.1,209.1 313.3,205.8 313.4,207.5 313.6,208.0 313.7,207.5 313.9,205.7 314.0,207.4 314.2,207.1 314.3,208.3 314.5,205.7 314.6,203.6 314.8,203.1 314.9,204.6 315.1,204.8 315.2,204.4 315.4,204.9 315.5,206.1 315.7,208.7 315.8,209.0 316.0,208.6 316.1,206.2 316.3,207.5 316.4,207.5 316.6,204.8 316.7,205.7 316.9,205.9 317.0,205.8 317.2,206.7 317.3,205.3 317.5,206.5 317.6,205.2 317.7,207.1 317.9,206.5 318.0,205.6 318.2,207.8 318.3,206.3 318.5,206.7 318.6,205.3 318.8,206.7 318.9,206.8 319.1,206.1 319.2,204.6 319.4,208.3 319.5,208.1 319.7,206.9 319.8,205.1 320.0,203.3 320.1,204.8 320.3,204.8 320.4,205.9 320.6,206.4 320.7,205.4 320.9,205.3 321.0,209.1 321.2,207.7 321.3,207.2 321.5,207.4 321.6,204.6 321.8,205.9 321.9,207.0 322.1,208.6 322.2,204.0 322.4,205.4 322.5,208.4 322.7,206.4 322.8,205.7 323.0,206.7 323.1,205.2 323.3,205.6 323.4,207.1 323.6,207.3 323.7,204.7 323.9,207.9 324.0,203.6 324.2,204.7 324.3,208.8 324.5,205.5 324.6,207.5 324.8,205.4 324.9,206.7 325.1,206.4 325.2,206.4 325.4,207.5 325.5,208.7 325.7,207.3 325.8,208.0 326.0,205.0 326.1,207.2 326.3,205.8 326.4,206.7 326.6,204.7 326.7,205.5 326.9,208.5 327.0,208.3 327.2,208.0 327.3,206.9 327.5,206.8 327.6,206.7 327.8,207.0 327.9,206.0 328.1,206.7 328.2,207.8"/>
<polyline fill="none" stroke="#000000" stroke-width="0.8" stroke-linejoin="round" points="8.2,196.3 8.3,198.9 8.4,207.4 8.5,203.2 8.6,193.4 8.7,201.3 8.8,199.3 8.9,203.5 9.1,196.4 9.2,205.2 9.3,205.7 9.4,212.0 9.5,206.8 9.6,207.7 9.7,199.0 9.8,215.0 9.9,197.2 10.0,210.4 10.1,204.8 10.2,203.1 10.3,204.8 10.4,205.6 10.5,210.7 10.7,209.0 10.8,216.0 10.9,202.4 11.0,209.7 11.1,205.7 11.2,213.4 11.3,202.2 11.4,209.4 11.5,211.7 11.6,205.7 11.7,216.8 11.8,214.0 11.9,217.7 12.0,217.6 12.1,209.8 12.3,210.7 12.4,213.3 12.5,217.6 12.6,218.5 12.7,212.5 12.8,213.1 12.9,212.6 13.0,213.6 13.1,215.1 13.2,215.6 13.3,224.5 13.4,214.6 13.5,216.0 13.6,219.7 13.7,215.1 13.9,218.0 14.0,219.3 14.1,221.8 14.2,214.2 14.3,225.2 14.4,218.7 14.5,220.8 14.6,223.4 14.7,222.5 14.8,223.9 14.9,220.5 15.0,219.8 15.1,221.1 15.2,216.4 15.3,225.5 15.5,218.8 15.6,217.6 15.7,230.3 15.8,222.1 15.9,217.9 16.0,229.1 16.1,221.4 16.2,227.2 16.3,220.6 16.4,223.1 16.5,218.2 16.6,217.6 16.7,221.2 16.8,224.6 16.9,227.7 17.1,233.3 17.2,220.2 17.3,227.8 17.4,222.5 17.5,224.9 17.6,221.1 17.7,222.1 17.8,225.2 17.9,223.8 18.0,227.9 18.1,225.1 18.2,232.0 18.3,228.2 18.4,228.6 18.5,232.6 18.7,231.0 18.8,229.5 18.9,229.5 19.0,229.2 19.1,233.2 19.2,232.0 19.3,230.4 19.4,231.8 19.5,227.2 19.6,230.6 19.7,223.6 19.8,233.9 19.9,230.2 20.0,230.8 20.1,232.3 20.3,230.2 20.4,229.4 20.5,234.4 20.6,230.8 20.7,227.2 20.8,231.8 20.9,224.9 21.0,236.7 21.1,230.5 21.2,231.1 21.3,238.4 21.4,238.0 21.5,231.3 21.6,233.1 21.7,234.8 21.9,237.6 22.0,232.1 22.1,232.9 22.2,236.4 22.3,233.3 22.4,235.2 22.5,235.2 22.6,230.1 22.7,231.7 22.8,226.6 22.9,234.6 23.0,239.8 23.1,231.5 23.2,238.9 23.3,237.9 23.5,234.3 23.6,234.4 23.7,234.8 23.8,231.9 23.9,233.9 24.0,234.9 24.1,237.3 24.2,238.2 24.3,233.3 24.4,238.3 24.5,233.0 24.6,235.1 24.7,237.2 24.8,236.4 24.9,236.2 25.1,237.5 25.2,234.1 25.3,233.1 25.4,235.0 25.5,239.4 25.6,236.1 25.7,242.3 25.8,237.0 25.9,228.2 26.0,235.2 26.1,242.2 26.2,237.4 26.3,236.1 26.4,234.8 26.5,241.8 26.7,241.3 26.8,240.9 26.9,240.7 27.0,242.7 27.1,239.4 27.2,234.3 27.3,241.8 27.4,239.8 27.5,238.8 27.6,241.3 27.7,238.8 27.8,229.9 27.9,241.9 28.0,241.3 28.1,238.9 28.3,238.2 28.4,239.8 28.5,235.0 28.6,239.7 28.7,238.2 28.8,238.2 28.9,236.9 29.0,237.9 29.1,243.3 29.2,243.9 29.3,241.3 29.4,239.6 29.5,237.1 29.6,241.8 29.7,244.4 29.9,234.8 30.0,243.2 30.1,233.5 30.2,239.3 30.3,242.0 30.4,237.4 30.5,237.4 30.6,242.5 30.7,244.5 30.8,239.9 30.9,243.9 31.0,237.5 31.1,246.4 31.2,242.6 31.3,243.0 31.5,244.0 31.6,243.0 31.7,247.1 31.8,248.0 31.9,243.3 32.0,241.6 32.1,239.0 32.2,240.5 32.3,242.7 32.4,242.4 32.5,242.7 32.6,243.0 32.7,244.6 32.8,239.7 32.9,240.4 33.1,246.2 33.2,245.8 33.3,242.4 33.4,247.6 33.5,242.2 33.6,243.6 33.7,239.4 33.8,247.0 33.9,244.8 34.0,248.0 34.1,247.0 34.2,245.1 34.3,244.9 34.4,247.3 34.5,243.1 34.7,242.8 34.8,243.4 34.9,245.4 35.0,245.8 35.1,248.6 35.2,243.2 35.3,246.9 35.4,241.7 35.5,245.4 35.6,244.5 35.7,249.7 35.8,247.3 35.9,244.7 36.0,247.6 36.1,246.8 36.3,244.9 36.4,245.0 36.5,242.8 36.6,251.7 36.7,245.8 36.8,248.6 36.9,242.9 37.0,243.2 37.1,246.0 37.2,246.3 37.3,249.1 37.4,244.5 37.5,248.6 37.6,251.1 37.7,244.4 37.9,249.0 38.0,244.0 38.1,247.5 38.2,247.5 38.3,251.0 38.4,244.3 38.5,246.5 38.6,248.1 38.7,241.7 38.8,246.1 38.9,244.8 39.0,244.9 39.1,247.0 39.2,245.8 39.3,251.9 39.5,249.8 39.6,249.3 39.7,246.2 39.8,246.4 39.9,247.6 40.0,241.6 40.1,252.0 40.2,246.3 40.3,245.4 40.4,246.9 40.5,250.2 40.6,251.0 40.7,245.8 40.8,246.8 40.9,246.5 41.1,245.3 41.2,248.6 41.3,248.4 41.4,244.4 41.5,250.9 41.6,243.9 41.7,248.5 41.8,245.4 41.9,246.0 42.0,246.4 42.1,250.1 42.2,245.4 42.3,248.3 42.4,252.6 42.5,246.8 42.7,248.4 42.8,250.3 42.9,247.4 43.0,250.2 43.1,247.5 43.2,251.0 43.3,249.4 43.4,246.8 43.5,252.0 43.6,247.8 43.7,247.9 43.8,247.0 43.9,248.3 44.0,249.4 44.1,250.2 44.3,252.6 44.4,246.6 44.5,248.9 44.6,252.5 44.7,249.8 44.8,250.1 44.9,252.8 45.0,249.7 45.1,250.5 45.2,250.2 45.3,255.6 45.4,254.7 45.5,250.9 45.6,253.9 45.7,249.3 45.9,254.2 46.0,252.6 46.1,250.3 46.2,249.5 46.3,246.1 46.4,251.5 46.5,248.7 46.6,249.1 46.7,252.7 46.8,249.9 46.9,250.5 47.0,250.5 47.1,248.9 47.2,257.7 47.3,251.4 47.5,250.8 47.6,253.5 47.7,245.0 47.8,250.9 47.9,251.1 48.0,248.8 48.1,252.1 48.2,246.1 48.3,250.8 48.4,252.6 48.5,245.1 48.6,247.1 48.7,250.4 48.8,250.9 48.9,249.7 49.1,252.1 49.2,252.0 49.3,248.1 49.4,250.7 49.5,248.2 49.6,246.5 49.7,245.9 49.8,254.0 49.9,251.6 50.0,256.6 50.1,248.8 50.2,251.3 50.3,252.6 50.4,251.0 50.5,252.0 50.7,250.8 50.8,248.9 50.9,245.1 51.0,248.6 51.2,255.2 51.3,253.6 51.5,255.1 51.6,250.5 51.8,251.6 51.9,250.2 52.1,253.1 52.2,252.5 52.4,253.6 52.5,256.7 52.7,251.2 52.8,254.9 53.0,250.4 53.1,256.1 53.3,252.6 53.4,253.3 53.6,253.6 53.7,256.8 53.9,253.0 54.0,251.6 54.2,249.3 54.3,251.8 54.5,249.5 54.6,250.9 54.8,252.3 54.9,254.1 55.1,251.4 55.2,254.6 55.4,256.9 55.5,249.7 55.6,255.6 55.8,257.2 55.9,251.4 56.1,254.0 56.2,249.7 56.4,253.4 56.5,252.3 56.7,254.0 56.8,251.8 57.0,252.0 57.1,252.5 57.3,251.5 57.4,251.3 57.6,252.2 57.7,250.5 57.9,252.8 58.0,254.4 58.2,248.6 58.3,254.0 58.5,252.2 58.6,251.6 58.8,251.3 58.9,252.4 59.1,252.8 59.2,255.1 59.4,252.0 59.5,256.8 59.7,253.0 59.8,255.8 60.0,256.3 60.1,250.0 60.3,253.0 60.4,256.5 60.6,253.0 60.7,255.6 60.9,254.4 61.0,254.8 61.2,254.0 61.3,253.1 61.5,255.3 61.6,255.6 61.8,253.8 61.9,256.9 62.1,255.3 62.2,253.8 62.4,251.4 62.5,257.4 62.7,256.3 62.8,248.8 63.0,250.5 63.1,251.2 63.3,253.6 63.4,253.5 63.6,249.4 63.7,250.5 63.9,252.0 64.0,248.7 64.2,253.7 64.3,252.6 64.5,254.0 64.6,253.3 64.8,250.9 64.9,252.3 65.1,255.5 65.2,256.1 65.4,255.9 65.5,258.8 65.7,256.0 65.8,254.0 66.0,254.5 66.1,253.5 66.3,254.0 66.4,257.3 66.6,256.3 66.7,257.8 66.8,257.3 67.0,255.8 67.1,257.9 67.3,254.6 67.4,255.0 67.6,253.7 67.7,256.8 67.9,256.1 68.0,257.3 68.2,259.9 68.3,260.8 68.5,258.1 68.6,256.2 68.8,258.0 68.9,257.1 69.1,255.6 69.2,256.6 69.4,256.2 69.5,255.5 69.7,259.3 69.8,255.8 70.0,255.9 70.1,258.0 70.3,255.1 70.4,254.0 70.6,254.3 70.7,256.9 70.9,257.0 71.0,257.3 71.2,256.2 71.3,255.4 71.5,258.6 71.6,253.7 71.8,255.5 71.9,253.8 72.1,256.0 72.2,256.7 72.4,259.4 72.5,252.4 72.7,259.5 72.8,255.1 73.0,256.9 73.1,257.5 73.3,254.5 73.4,255.7 73.6,256.7 73.7,255.5 73.9,254.2 74.0,255.8 74.2,255.8 74.3,253.3 74.5,258.7 74.6,256.9 74.8,252.3 74.9,255.3 75.1,259.9 75.2,259.6 75.4,257.4 75.5,253.9 75.7,256.2 75.8,258.4 76.0,257.4 76.1,256.6 76.3,256.1 76.4,258.8 76.6,256.7 76.7,257.5 76.9,258.0 77.0,260.3 77.2,258.1 77.3,258.5 77.5,255.1 77.6,260.0 77.8,259.4 77.9,257.7 78.1,253.7 78.2,256.5 78.3,257.6 78.5,261.3 78.6,259.0 78.8,259.3 78.9,259.2 79.1,260.7 79.2,257.0 79.4,257.4 79.5,256.5 79.7,257.6 79.8,257.1 80.0,257.8 80.1,255.8 80.3,257.6 80.4,255.9 80.6,261.0 80.7,256.8 80.9,262.3 81.0,260.8 81.2,255.8 81.3,259.2 81.5,258.5 81.6,254.7 81.8,258.3 81.9,257.1 82.1,258.1 82.2,256.4 82.4,258.1 82.5,259.2 82.7,258.4 82.8,257.7 83.0,258.4 83.1,256.9 83.3,259.1 83.4,254.2 83.6,261.2 83.7,258.9 83.9,259.5 84.0,260.0 84.2,256.3 84.3,262.1 84.5,256.6 84.6,259.3 84.8,259.1 84.9,258.9 85.1,254.9 85.2,253.6 85.4,257.4 85.5,252.9 85.7,257.2 85.8,257.0 86.0,260.4 86.1,256.6 86.3,255.7 86.4,256.1 86.6,255.7 86.7,255.2 86.9,258.3 87.0,256.5 87.2,258.3 87.3,255.1 87.5,255.9 87.6,257.1 87.8,255.5 87.9,256.5 88.1,257.8 88.2,259.2 88.4,259.7 88.5,258.1 88.7,256.6 88.8,255.4 89.0,259.2 89.1,260.3 89.3,258.7 89.4,260.7 89.6,257.3 89.7,257.1 89.8,259.9 90.0,255.8 90.1,258.6 90.3,258.6 90.4,258.7 90.6,261.5 90.7,257.5 90.9,258.3 91.0,255.7 91.2,257.3 91.3,258.0 91.5,257.9 91.6,257.9 91.8,258.5 91.9,256.9 92.1,255.0 92.2,258.9 92.4,259.6 92.5,257.1 92.7,257.4 92.8,260.9 93.0,259.5 93.1,259.6 93.3,259.1 93.4,258.2 93.6,257.0 93.7,258.4 93.9,256.9 94.0,256.5 94.2,257.1 94.3,257.0 94.5,257.9 94.6,254.4 94.8,260.5 94.9,256.0 95.1,257.2 95.2,259.6 95.4,257.1 95.5,257.8 95.7,258.7 95.8,254.7 96.0,258.0 96.1,257.1 96.3,258.0 96.4,259.4 96.6,259.8 96.7,260.9 96.9,260.7 97.0,260.1 97.2,258.2 97.3,259.5 97.5,256.0 97.6,257.2 97.8,259.8 97.9,259.2 98.1,256.2 98.2,257.6 98.4,259.8 98.5,259.1 98.7,259.6 98.8,254.9 99.0,255.8 99.1,257.6 99.3,256.6 99.4,258.0 99.6,257.7 99.7,258.0 99.9,257.1 100.0,258.1 100.2,257.8 100.3,256.2 100.5,254.5 100.6,259.0 100.8,257.0 100.9,257.1 101.0,256.5 101.2,253.6 101.3,257.4 101.5,255.6 101.6,254.7 101.8,258.6 101.9,256.3 102.1,257.6 102.2,258.9 102.4,260.2 102.5,255.1 102.7,256.9 102.8,259.1 103.0,257.1 103.1,254.1 103.3,258.3 103.4,258.1 103.6,258.8 103.7,258.4 103.9,257.8 104.0,258.9 104.2,258.6 104.3,258.0 104.5,259.3 104.6,259.6 104.8,257.6 104.9,259.5 105.1,257.9 105.2,258.8 105.4,254.9 105.5,258.9 105.7,257.9 105.8,256.1 106.0,258.9 106.1,256.0 106.3,259.6 106.4,258.0 106.6,256.5 106.7,259.3 106.9,257.8 107.0,257.6 107.2,255.5 107.3,258.6 107.5,260.3 107.6,260.0 107.8,256.3 107.9,260.1 108.1,260.2 108.2,258.8 108.4,256.9 108.5,255.0 108.7,255.6 108.8,255.9 109.0,257.1 109.1,257.3 109.3,255.1 109.4,253.5 109.6,255.2 109.7,253.5 109.9,257.4 110.0,252.6 110.2,254.7 110.3,254.7 110.5,251.0 110.6,254.1 110.8,251.3 110.9,249.1 111.1,247.3 111.2,247.6 111.4,247.8 111.5,239.6 111.7,243.5 111.8,240.8 112.0,239.2 112.1,241.2 112.3,242.6 112.4,244.8 112.5,248.9 112.7,246.9 112.8,253.5 113.0,252.2 113.1,250.1 113.3,248.5 113.4,252.5 113.6,252.6 113.7,255.2 113.9,255.8 114.0,258.2 114.2,254.9 114.3,256.2 114.5,254.5 114.6,254.6 114.8,257.7 114.9,255.6 115.1,256.2 115.2,256.4 115.4,257.2 115.5,257.1 115.7,256.6 115.8,255.6 116.0,257.7 116.1,256.1 116.3,256.9 116.4,257.7 116.6,257.7 116.7,253.8 116.9,259.5 117.0,258.3 117.2,260.0 117.3,260.9 117.5,255.9 117.6,256.3 117.8,257.5 117.9,258.7 118.1,256.6 118.2,256.8 118.4,259.2 118.5,256.0 118.7,256.8 118.8,258.4 119.0,256.9 119.1,258.6 119.3,257.2 119.4,254.9 119.6,256.2 119.7,256.6 119.9,256.2 120.0,256.6 120.2,256.8 120.3,253.7 120.5,250.5 120.6,251.4 120.8,253.8 120.9,253.2 121.1,252.5 121.2,255.3 121.4,248.9 121.5,251.6 121.7,247.4 121.8,248.3 122.0,250.0 122.1,247.3 122.3,249.9 122.4,244.7 122.6,244.9 122.7,242.7 122.9,242.4 123.0,239.8 123.2,237.9 123.3,237.0 123.5,237.6 123.6,233.1 123.8,231.4 123.9,230.0 124.0,229.1 124.2,228.4 124.3,230.8 124.5,234.2 124.6,230.1 124.8,237.0 124.9,235.2 125.1,234.7 125.2,236.2 125.4,239.3 125.5,238.7 125.7,238.4 125.8,241.8 126.0,243.0 126.1,234.7 126.3,240.0 126.4,237.2 126.6,237.0 126.7,239.8 126.9,243.7 127.0,241.2 127.2,241.0 127.3,245.0 127.5,243.1 127.6,241.8 127.8,245.6 127.9,242.9 128.1,240.7 128.2,240.5 128.4,242.7 128.5,244.7 128.7,246.7 128.8,246.6 129.0,244.9 129.1,242.0 129.3,246.1 129.4,243.9 129.6,240.9 129.7,240.8 129.9,243.7 130.0,243.0 130.2,243.2 130.3,238.1 130.5,244.5 130.6,236.0 130.8,239.6 130.9,242.2 131.1,240.9 131.2,235.1 131.4,237.2 131.5,236.5 131.7,232.3 131.8,224.2 132.0,229.0 132.1,217.2 132.3,221.5 132.4,218.3 132.6,221.5 132.7,223.8 132.9,228.8 133.0,227.0 133.2,233.9 133.3,239.4 133.5,239.2 133.6,242.5 133.8,244.2 133.9,243.5 134.1,245.4 134.2,247.1 134.4,248.9 134.5,252.7 134.7,253.2 134.8,250.8 135.0,251.7 135.1,251.4 135.2,249.8 135.4,256.2 135.5,255.9 135.7,253.0 135.8,256.7 136.0,260.6 136.1,258.0 136.3,258.1 136.4,257.7 136.6,256.7 136.7,256.5 136.9,257.3 137.0,258.6 137.2,258.0 137.3,259.3 137.5,260.8 137.6,259.3 137.8,259.7 137.9,258.0 138.1,256.6 138.2,261.2 138.4,259.5 138.5,260.5 138.7,258.9 138.8,257.3 139.0,261.2 139.1,256.6 139.3,259.1 139.4,258.6 139.6,259.8 139.7,260.8 139.9,261.0 140.0,257.3 140.2,261.4 140.3,257.4 140.5,260.1 140.6,258.0 140.8,257.2 140.9,258.3 141.1,257.4 141.2,259.3 141.4,260.5 141.5,260.2 141.7,259.2 141.8,260.7 142.0,260.2 142.1,262.7 142.3,261.0 142.4,259.8 142.6,260.3 142.7,259.5 142.9,259.8 143.0,259.7 143.2,261.0 143.3,261.3 143.5,260.5 143.6,260.9 143.8,259.1 143.9,258.8 144.1,256.1 144.2,258.4 144.4,259.0 144.5,263.1 144.7,258.2 144.8,259.9 145.0,259.3 145.1,257.5 145.3,259.8 145.4,259.6 145.6,258.1 145.7,257.5 145.9,260.8 146.0,259.1 146.2,261.6 146.3,260.0 146.5,260.8 146.6,259.4 146.7,261.4 146.9,260.3 147.0,261.6 147.2,260.0 147.3,258.7 147.5,258.4 147.6,259.1 147.8,259.6 147.9,258.8 148.1,263.0 148.2,259.6 148.4,260.1 148.5,259.4 148.7,257.8 148.8,261.0 149.0,260.3 149.1,260.4 149.3,258.8 149.4,260.5 149.6,260.4 149.7,262.0 149.9,258.9 150.0,261.7 150.2,262.6 150.3,260.4 150.5,259.6 150.6,262.0 150.8,260.4 150.9,261.4 151.1,260.7 151.2,260.8 151.4,259.2 151.5,256.4 151.7,259.3 151.8,257.7 152.0,259.6 152.1,258.5 152.3,261.7 152.4,258.6 152.6,259.0 152.7,260.4 152.9,259.9 153.0,260.2 153.2,259.8 153.3,258.7 153.5,261.9 153.6,258.9 153.8,258.1 153.9,259.2 154.1,259.5 154.2,258.6 154.4,257.3 154.5,256.5 154.7,253.5 154.8,257.2 155.0,258.7 155.1,255.2 155.3,254.2 155.4,258.4 155.6,257.7 155.7,255.1 155.9,258.0 156.0,257.5 156.2,258.1 156.3,262.5 156.5,261.4 156.6,260.1 156.8,260.5 156.9,262.4 157.1,258.7 157.2,260.7 157.4,258.8 157.5,260.8 157.7,260.2 157.8,258.9 158.0,261.2 158.1,260.7 158.2,262.7 158.4,260.1 158.5,260.8 158.7,259.6 158.8,261.9 159.0,259.3 159.1,260.0 159.3,261.5 159.4,260.9 159.6,260.7 159.7,260.4 159.9,260.4 160.0,260.7 160.2,259.5 160.3,257.5 160.5,262.1 160.6,259.3 160.8,263.2 160.9,261.1 161.1,263.8 161.2,261.8 161.4,260.6 161.5,260.9 161.7,257.3 161.8,259.1 162.0,257.9 162.1,257.8 162.3,253.7 162.4,252.1 162.6,255.0 162.7,252.1 162.9,249.5 163.0,248.9 163.2,247.7 163.3,248.6 163.5,252.0 163.6,252.1 163.8,255.1 163.9,254.5 164.1,254.2 164.2,257.0 164.4,258.6 164.5,258.0 164.7,259.4 164.8,259.4 165.0,261.1 165.1,260.3 165.3,260.0 165.4,258.0 165.6,259.9 165.7,261.3 165.9,260.1 166.0,260.0 166.2,259.2 166.3,261.0 166.5,260.0 166.6,260.9 166.8,259.5 166.9,262.4 167.1,259.8 167.2,258.4 167.4,260.3 167.5,260.9 167.7,262.3 167.8,260.6 168.0,261.0 168.1,261.8 168.3,261.8 168.4,259.6 168.6,262.9 168.7,263.3 168.9,260.5 169.0,259.4 169.2,259.7 169.3,259.2 169.4,261.7 169.6,260.2 169.7,261.9 169.9,259.6 170.0,259.5 170.2,259.5 170.3,259.8 170.5,262.3 170.6,262.8 170.8,261.9 170.9,262.0 171.1,258.8 171.2,262.7 171.4,260.0 171.5,263.1 171.7,264.1 171.8,260.7 172.0,261.0 172.1,260.2 172.3,257.2 172.4,257.8 172.6,258.5 172.7,259.3 172.9,259.7 173.0,258.3 173.2,259.5 173.3,257.4 173.5,256.0 173.6,257.8 173.8,257.5 173.9,255.7 174.1,259.6 174.2,257.5 174.4,258.5 174.5,260.3 174.7,258.8 174.8,261.0 175.0,260.7 175.1,260.5 175.3,259.7 175.4,258.8 175.6,258.2 175.7,260.5 175.9,262.8 176.0,262.0 176.2,261.4 176.3,262.1 176.5,262.4 176.6,259.2 176.8,259.6 176.9,260.2 177.1,259.4 177.2,261.0 177.4,262.3 177.5,261.2 177.7,262.7 177.8,260.8 178.0,261.9 178.1,264.2 178.3,262.3 178.4,258.9 178.6,258.9 178.7,258.6 178.9,259.7 179.0,258.1 179.2,260.7 179.3,262.3 179.5,262.2 179.6,259.5 179.8,260.3 179.9,260.6 180.1,260.1 180.2,263.2 180.4,260.2 180.5,259.5 180.7,261.3 180.8,261.4 180.9,263.0 181.1,263.3 181.2,261.4 181.4,259.3 181.5,262.9 181.7,263.2 181.8,264.5 182.0,260.4 182.1,260.8 182.3,264.0 182.4,263.3 182.6,262.1 182.7,261.1 182.9,263.3 183.0,260.9 183.2,259.8 183.3,260.6 183.5,260.3 183.6,261.0 183.8,261.4 183.9,258.5 184.1,261.4 184.2,261.7 184.4,259.5 184.5,260.6 184.7,260.9 184.8,261.2 185.0,259.4 185.1,259.5 185.3,258.6 185.4,259.7 185.6,258.3 185.7,258.4 185.9,260.2 186.0,258.5 186.2,256.3 186.3,258.7 186.5,258.0 186.6,257.0 186.8,254.0 186.9,255.9 187.1,252.3 187.2,248.3 187.4,248.4 187.5,249.0 187.7,241.9 187.8,242.9 188.0,245.4 188.1,245.5 188.3,247.8 188.4,251.1 188.6,254.0 188.7,253.8 188.9,256.4 189.0,257.8 189.2,257.4 189.3,259.6 189.5,259.9 189.6,259.1 189.8,258.5 189.9,258.0 190.1,258.7 190.2,259.0 190.4,257.3 190.5,259.4 190.7,260.9 190.8,260.9 191.0,259.3 191.1,261.1 191.3,261.2 191.4,259.4 191.6,261.2 191.7,260.7 191.9,260.9 192.0,261.9 192.2,261.3 192.3,258.5 192.4,261.0 192.6,259.5 192.7,260.8 192.9,262.3 193.0,261.5 193.2,260.9 193.3,261.4 193.5,261.7 193.6,260.1 193.8,260.3 193.9,261.6 194.1,262.9 194.2,261.1 194.4,262.2 194.5,260.2 194.7,260.7 194.8,260.3 195.0,258.5 195.1,260.4 195.3,261.2 195.4,259.4 195.6,262.8 195.7,263.4 195.9,263.3 196.0,263.2 196.2,261.5 196.3,261.7 196.5,262.1 196.6,261.2 196.8,261.5 196.9,263.4 197.1,260.8 197.2,261.3 197.4,263.8 197.5,261.8 197.7,261.1 197.8,262.8 198.0,262.9 198.1,262.6 198.3,260.2 198.4,262.1 198.6,262.1 198.7,264.1 198.9,262.7 199.0,261.4 199.2,262.3 199.3,262.6 199.5,261.5 199.6,259.2 199.8,258.5 199.9,259.7 200.1,261.9 200.2,259.6 200.4,260.5 200.5,258.0 200.7,261.9 200.8,259.6 201.0,260.6 201.1,261.8 201.3,259.0 201.4,261.5 201.6,259.9 201.7,260.5 201.9,257.7 202.0,256.4 202.2,258.0 202.3,255.0 202.5,252.2 202.6,248.0 202.8,249.8 202.9,247.6 203.1,251.1 203.2,253.4 203.4,255.9 203.5,257.5 203.6,257.1 203.8,257.5 203.9,257.4 204.1,260.4 204.2,261.3 204.4,259.6 204.5,259.3 204.7,260.7 204.8,258.3 205.0,260.2 205.1,260.0 205.3,259.9 205.4,262.0 205.6,262.9 205.7,261.6 205.9,259.7 206.0,260.1 206.2,260.4 206.3,257.6 206.5,257.3 206.6,256.7 206.8,253.4 206.9,253.2 207.1,256.2 207.2,250.8 207.4,253.3 207.5,250.9 207.7,254.6 207.8,255.0 208.0,257.2 208.1,255.3 208.3,258.5 208.4,258.1 208.6,260.3 208.7,260.5 208.9,260.0 209.0,259.9 209.2,260.4 209.3,261.1 209.5,260.6 209.6,260.9 209.8,260.8 209.9,260.3 210.1,262.6 210.2,259.9 210.4,262.8 210.5,262.2 210.7,259.3 210.8,259.0 211.0,261.0 211.1,259.8 211.3,261.5 211.4,263.0 211.6,262.4 211.7,261.7 211.9,262.4 212.0,264.2 212.2,261.7 212.3,264.5 212.5,265.3 212.6,262.6 212.8,263.3 212.9,265.1 213.1,262.7 213.2,264.2 213.4,264.9 213.5,262.4 213.7,263.8 213.8,263.4 214.0,262.8 214.1,265.3 214.3,263.7 214.4,266.7 214.6,265.1 214.7,263.3 214.9,263.9 215.0,262.1 215.1,263.4 215.3,263.0 215.4,260.9 215.6,261.8 215.7,262.7 215.9,261.7 216.0,259.8 216.2,262.3 216.3,262.9 216.5,259.9 216.6,263.7 216.8,259.7 216.9,261.6 217.1,260.9 217.2,260.8 217.4,261.1 217.5,259.2 217.7,260.1 217.8,262.0 218.0,259.9 218.1,260.4 218.3,259.3 218.4,255.7 218.6,259.8 218.7,258.3 218.9,257.9 219.0,257.7 219.2,258.9 219.3,258.9 219.5,260.2 219.6,261.2 219.8,261.6 219.9,261.9 220.1,260.0 220.2,261.2 220.4,261.0 220.5,262.4 220.7,261.5 220.8,260.8 221.0,261.0 221.1,260.5 221.3,261.2 221.4,263.2 221.6,262.1 221.7,260.9 221.9,262.2 222.0,263.0 222.2,263.6 222.3,261.8 222.5,264.6 222.6,263.5 222.8,263.3 222.9,262.9 223.1,262.2 223.2,261.2 223.4,262.9 223.5,262.1 223.7,261.6 223.8,262.2 224.0,261.2 224.1,262.4 224.3,261.6 224.4,262.5 224.6,261.5 224.7,263.3 224.9,263.1 225.0,261.4 225.2,261.7 225.3,262.1 225.5,260.7 225.6,261.1 225.8,262.9 225.9,262.9 226.1,263.8 226.2,260.9 226.4,261.9 226.5,260.2 226.6,264.7 226.8,261.2 226.9,261.7 227.1,263.1 227.2,261.3 227.4,257.5 227.5,260.5 227.7,256.8 227.8,253.2 228.0,254.9 228.1,256.8 228.3,258.6 228.4,256.4 228.6,261.9 228.7,258.2 228.9,260.3 229.0,262.7 229.2,262.0 229.3,262.0 229.5,261.7 229.6,263.3 229.8,264.4 229.9,262.5 230.1,263.7 230.2,262.8 230.4,262.7 230.5,260.6 230.7,262.7 230.8,263.2 231.0,261.9 231.1,262.7 231.3,261.4 231.4,263.8 231.6,263.8 231.7,263.6 231.9,263.4 232.0,263.8 232.2,263.0 232.3,261.0 232.5,262.0 232.6,261.3 232.8,261.4 232.9,263.5 233.1,262.6 233.2,262.6 233.4,262.0 233.5,262.5 233.7,264.3 233.8,261.4 234.0,262.5 234.1,263.6 234.3,263.9 234.4,262.2 234.6,261.7 234.7,261.1 234.9,262.4 235.0,261.9 235.2,260.8 235.3,262.4 235.5,263.4 235.6,262.1 235.8,261.3 235.9,261.7 236.1,262.4 236.2,264.0 236.4,260.8 236.5,264.0 236.7,262.5 236.8,264.1 237.0,265.2 237.1,264.1 237.3,262.7 237.4,263.6 237.6,264.3 237.7,263.2 237.8,263.3 238.0,262.5 238.1,263.1 238.3,262.6 238.4,264.3 238.6,263.8 238.7,263.8 238.9,260.7 239.0,263.0 239.2,263.5 239.3,263.7 239.5,263.1 239.6,263.3 239.8,265.4 239.9,262.9 240.1,261.6 240.2,262.4 240.4,264.9 240.5,263.4 240.7,261.8 240.8,262.6 241.0,262.8 241.1,263.1 241.3,261.2 241.4,262.3 241.6,263.1 241.7,261.2 241.9,262.6 242.0,261.9 242.2,261.6 242.3,262.0 242.5,260.8 242.6,261.2 242.8,261.7 242.9,262.0 243.1,260.7 243.2,259.4 243.4,260.9 243.5,261.4 243.7,261.2 243.8,262.4 244.0,264.2 244.1,261.9 244.3,261.5 244.4,261.1 244.6,262.8 244.7,263.3 244.9,261.9 245.0,264.8 245.2,262.1 245.3,262.9 245.5,263.1 245.6,265.3 245.8,263.2 245.9,265.8 246.1,264.1 246.2,263.0 246.4,263.9 246.5,264.1 246.7,265.9 246.8,263.4 247.0,263.9 247.1,266.1 247.3,263.9 247.4,262.9 247.6,262.6 247.7,261.4 247.9,263.2 248.0,264.0 248.2,262.4 248.3,260.5 248.5,261.0 248.6,262.3 248.8,263.9 248.9,265.0 249.1,264.7 249.2,264.0 249.3,264.9 249.5,261.1 249.6,261.4 249.8,262.0 249.9,260.8 250.1,264.1 250.2,260.2 250.4,263.5 250.5,263.5 250.7,263.2 250.8,263.1 251.0,261.7 251.1,261.1 251.3,263.2 251.4,261.7 251.6,260.2 251.7,260.0 251.9,259.0 252.0,260.6 252.2,261.3 252.3,259.1 252.5,259.0 252.6,257.3 252.8,258.1 252.9,257.2 253.1,256.6 253.2,257.7 253.4,254.2 253.5,258.1 253.7,256.2 253.8,260.1 254.0,260.9 254.1,261.4 254.3,261.9 254.4,261.1 254.6,260.7 254.7,262.4 254.9,260.9 255.0,262.5 255.2,260.9 255.3,262.6 255.5,263.0 255.6,261.9 255.8,262.3 255.9,263.6 256.1,262.7 256.2,263.3 256.4,262.4 256.5,263.3 256.7,261.6 256.8,262.5 257.0,265.0 257.1,264.8 257.3,264.7 257.4,265.2 257.6,263.8 257.7,265.7 257.9,263.7 258.0,263.8 258.2,264.8 258.3,262.8 258.5,262.3 258.6,262.1 258.8,262.6 258.9,264.2 259.1,260.9 259.2,262.2 259.4,263.2 259.5,262.1 259.7,262.4 259.8,262.2 260.0,263.0 260.1,264.2 260.3,264.7 260.4,263.3 260.6,264.0 260.7,262.1 260.8,260.0 261.0,263.0 261.1,260.1 261.3,262.6 261.4,263.0 261.6,262.1 261.7,263.6 261.9,263.4 262.0,263.9 262.2,263.0 262.3,263.6 262.5,262.3 262.6,263.5 262.8,263.0 262.9,263.4 263.1,263.2 263.2,262.5 263.4,264.1 263.5,263.5 263.7,260.7 263.8,261.5 264.0,264.3 264.1,262.7 264.3,266.6 264.4,264.2 264.6,264.3 264.7,263.1 264.9,263.0 265.0,263.0 265.2,263.6 265.3,262.8 265.5,263.0 265.6,262.5 265.8,263.4 265.9,263.5 266.1,263.7 266.2,262.9 266.4,262.6 266.5,263.4 266.7,260.7 266.8,261.7 267.0,262.5 267.1,263.7 267.3,262.2 267.4,261.5 267.6,263.3 267.7,262.5 267.9,264.2 268.0,262.7 268.2,262.3 268.3,262.8 268.5,265.2 268.6,265.1 268.8,263.6 268.9,264.5 269.1,261.8 269.2,264.6 269.4,263.6 269.5,263.2 269.7,263.5 269.8,264.0 270.0,263.5 270.1,263.7 270.3,262.6 270.4,265.2 270.6,262.2 270.7,262.6 270.9,263.5 271.0,263.4 271.2,263.7 271.3,262.0 271.5,262.9 271.6,263.8 271.8,262.1 271.9,264.8 272.0,261.3 272.2,262.1 272.3,263.7 272.5,264.1 272.6,262.6 272.8,263.7 272.9,263.5 273.1,260.4 273.2,261.9 273.4,263.1 273.5,263.1 273.7,262.6 273.8,262.8 274.0,265.5 274.1,262.8 274.3,264.5 274.4,261.9 274.6,262.7 274.7,262.5 274.9,261.4 275.0,261.9 275.2,264.8 275.3,262.8 275.5,264.5 275.6,262.4 275.8,266.0 275.9,262.0 276.1,262.7 276.2,262.6 276.4,262.9 276.5,263.2 276.7,264.8 276.8,265.3 277.0,264.9 277.1,263.7 277.3,263.0 277.4,260.8 277.6,263.2 277.7,262.9 277.9,264.1 278.0,262.3 278.2,262.6 278.3,262.8 278.5,264.3 278.6,263.8 278.8,262.5 278.9,261.6 279.1,262.4 279.2,261.8 279.4,261.6 279.5,262.1 279.7,262.8 279.8,263.7 280.0,262.7 280.1,262.8 280.3,265.4 280.4,263.9 280.6,265.3 280.7,264.7 280.9,264.6 281.0,265.6 281.2,263.5 281.3,265.0 281.5,264.5 281.6,263.9 281.8,263.6 281.9,262.6 282.1,263.4 282.2,264.1 282.4,263.1 282.5,264.5 282.7,262.1 282.8,263.8 283.0,265.5 283.1,261.6 283.3,263.1 283.4,262.4 283.5,263.7 283.7,263.0 283.8,264.7 284.0,262.0 284.1,264.2 284.3,264.0 284.4,263.9 284.6,265.8 284.7,261.9 284.9,261.2 285.0,259.5 285.2,262.3 285.3,262.9 285.5,262.0 285.6,264.6 285.8,264.6 285.9,266.3 286.1,265.4 286.2,264.5 286.4,263.5 286.5,262.2 286.7,264.2 286.8,266.4 287.0,265.1 287.1,264.4 287.3,265.6 287.4,266.1 287.6,268.2 287.7,263.8 287.9,264.0 288.0,262.7 288.2,262.9 288.3,264.9 288.5,264.1 288.6,263.0 288.8,266.1 288.9,266.5 289.1,265.2 289.2,263.1 289.4,263.0 289.5,265.5 289.7,262.8 289.8,263.2 290.0,262.3 290.1,266.1 290.3,263.2 290.4,263.6 290.6,262.8 290.7,262.7 290.9,262.1 291.0,264.7 291.2,262.9 291.3,265.7 291.5,263.1 291.6,265.3 291.8,265.8 291.9,263.4 292.1,264.6 292.2,263.6 292.4,262.9 292.5,263.7 292.7,262.2 292.8,264.1 293.0,262.7 293.1,265.0 293.3,265.6 293.4,265.2 293.6,262.5 293.7,263.0 293.9,265.2 294.0,264.6 294.2,264.0 294.3,260.9 294.5,263.0 294.6,266.2 294.8,264.7 294.9,264.0 295.0,264.7 295.2,267.2 295.3,265.9 295.5,263.0 295.6,263.2 295.8,264.5 295.9,265.6 296.1,262.9 296.2,262.7 296.4,260.5 296.5,262.7 296.7,264.2 296.8,264.4 297.0,262.4 297.1,265.2 297.3,263.5 297.4,262.8 297.6,264.6 297.7,261.8 297.9,263.2 298.0,262.7 298.2,263.3 298.3,263.5 298.5,262.6 298.6,261.9 298.8,262.0 298.9,259.8 299.1,262.5 299.2,263.9 299.4,260.7 299.5,263.0 299.7,262.9 299.8,262.8 300.0,263.4 300.1,264.1 300.3,264.6 300.4,263.0 300.6,263.9 300.7,262.7 300.9,266.0 301.0,264.9 301.2,264.6 301.3,263.4 301.5,265.2 301.6,265.5 301.8,264.7 301.9,265.2 302.1,263.1 302.2,265.2 302.4,264.5 302.5,261.8 302.7,265.1 302.8,263.7 303.0,264.8 303.1,264.4 303.3,264.0 303.4,265.8 303.6,263.5 303.7,263.9 303.9,264.4 304.0,263.1 304.2,262.1 304.3,263.6 304.5,263.5 304.6,262.9 304.8,264.2 304.9,265.6 305.1,265.2 305.2,265.8 305.4,265.7 305.5,264.4 305.7,264.5 305.8,263.7 306.0,266.9 306.1,265.2 306.2,266.4 306.4,267.3 306.5,265.1 306.7,262.9 306.8,263.3 307.0,264.2 307.1,266.1 307.3,264.1 307.4,264.0 307.6,262.7 307.7,264.3 307.9,263.5 308.0,263.9 308.2,262.9 308.3,265.4 308.5,262.9 308.6,263.7 308.8,263.9 308.9,264.5 309.1,265.1 309.2,261.6 309.4,263.7 309.5,263.1 309.7,262.0 309.8,263.2 310.0,264.3 310.1,263.6 310.3,263.9 310.4,265.5 310.6,264.1 310.7,266.2 310.9,265.4 311.0,265.3 311.2,265.3 311.3,266.0 311.5,263.8 311.6,266.2 311.8,264.0 311.9,265.2 312.1,264.8 312.2,263.7 312.4,261.9 312.5,261.7 312.7,261.7 312.8,262.8 313.0,263.0 313.1,263.4 313.3,261.1 313.4,263.5 313.6,264.6 313.7,263.7 313.9,263.6 314.0,264.8 314.2,265.9 314.3,265.9 314.5,265.9 314.6,262.4 314.8,265.4 314.9,263.6 315.1,265.3 315.2,264.1 315.4,265.3 315.5,264.0 315.7,263.8 315.8,265.8 316.0,262.0 316.1,264.6 316.3,264.0 316.4,263.0 316.6,266.0 316.7,264.5 316.9,263.9 317.0,265.0 317.2,263.8 317.3,266.8 317.5,263.2 317.6,264.4 317.7,262.2 317.9,264.3 318.0,264.6 318.2,263.8 318.3,264.5 318.5,263.7 318.6,263.5 318.8,264.8 318.9,262.9 319.1,263.9 319.2,263.1 319.4,263.0 319.5,264.0 319.7,265.4 319.8,265.3 320.0,264.4 320.1,261.3 320.3,264.2 320.4,264.5 320.6,264.6 320.7,263.5 320.9,265.9 321.0,265.6 321.2,263.2 321.3,266.1 321.5,266.9 321.6,265.1 321.8,263.8 321.9,266.8 322.1,266.1 322.2,262.9 322.4,266.1 322.5,265.0 322.7,264.5 322.8,261.9 323.0,261.9 323.1,264.1 323.3,266.2 323.4,264.1 323.6,263.8 323.7,262.7 323.9,262.8 324.0,264.0 324.2,261.7 324.3,266.0 324.5,265.8 324.6,265.9 324.8,264.9 324.9,263.6 325.1,264.3 325.2,263.3 325.4,265.1 325.5,262.9 325.7,267.6 325.8,264.9 326.0,263.2 326.1,264.4 326.3,263.2 326.4,263.1 326.6,264.1 326.7,262.2 326.9,263.7 327.0,264.4 327.2,265.3 327.3,264.1 327.5,264.9 327.6,261.3 327.8,265.1 327.9,263.9 328.1,264.2 328.2,263.3"/>
<polyline fill="none" stroke="#008080" stroke-width="0.8" stroke-linejoin="round" points="354.8,69.3 354.9,66.4 355.0,73.2 355.1,77.7 355.2,82.6 355.3,76.0 355.4,71.8 355.5,70.6 355.7,81.0 355.8,87.5 355.9,79.0 356.0,69.3 356.1,70.9 356.2,87.4 356.3,78.5 356.4,66.4 356.5,77.0 356.6,70.0 356.7,73.2 356.8,73.9 356.9,72.3 357.0,80.5 357.1,76.9 357.2,74.1 357.4,80.9 357.5,83.9 357.6,68.6 357.7,77.6 357.8,73.5 357.9,79.0 358.0,72.2 358.1,80.4 358.2,80.1 358.3,78.5 358.4,73.8 358.5,77.9 358.6,74.1 358.7,73.2 358.8,83.7 359.0,75.9 359.1,89.9 359.2,86.7 359.3,69.7 359.4,83.2 359.5,74.9 359.6,82.1 359.7,82.6 359.8,70.4 359.9,81.1 360.0,81.0 360.1,88.5 360.2,76.0 360.3,88.0 360.4,77.3 360.6,82.1 360.7,79.3 360.8,93.1 360.9,88.2 361.0,99.5 361.1,89.0 361.2,90.2 361.3,90.1 361.4,81.3 361.5,84.4 361.6,92.8 361.7,82.6 361.8,86.1 361.9,84.9 362.0,88.8 362.1,83.7 362.3,85.5 362.4,88.3 362.5,87.8 362.6,82.3 362.7,92.3 362.8,79.5 362.9,80.0 363.0,79.7 363.1,93.0 363.2,86.1 363.3,83.1 363.4,82.4 363.5,91.4 363.6,83.0 363.7,81.5 363.9,91.6 364.0,81.0 364.1,85.7 364.2,87.5 364.3,84.4 364.4,86.2 364.5,95.3 364.6,86.3 364.7,82.0 364.8,78.4 364.9,86.8 365.0,84.9 365.1,87.5 365.2,84.7 365.3,85.6 365.5,84.2 365.6,85.4 365.7,89.4 365.8,86.8 365.9,89.7 366.0,99.6 366.1,92.0 366.2,80.9 366.3,98.5 366.4,91.1 366.5,84.7 366.6,95.1 366.7,90.8 366.8,87.6 366.9,87.7 367.0,86.1 367.2,91.9 367.3,97.6 367.4,90.2 367.5,93.8 367.6,101.1 367.7,84.6 367.8,92.3 367.9,89.6 368.0,86.2 368.1,86.9 368.2,92.7 368.3,95.5 368.4,90.9 368.5,94.4 368.6,98.2 368.8,96.3 368.9,99.2 369.0,97.0 369.1,96.7 369.2,103.0 369.3,96.5 369.4,93.7 369.5,96.5 369.6,88.5 369.7,91.9 369.8,98.5 369.9,98.7 370.0,104.0 370.1,96.6 370.2,89.3 370.3,105.9 370.5,101.2 370.6,90.2 370.7,102.1 370.8,95.6 370.9,86.9 371.0,94.4 371.1,94.6 371.2,105.3 371.3,93.8 371.4,96.3 371.5,96.2 371.6,95.8 371.7,93.1 371.8,98.2 371.9,101.7 372.1,99.0 372.2,91.5 372.3,90.8 372.4,97.4 372.5,93.9 372.6,94.6 372.7,90.0 372.8,108.0 372.9,103.7 373.0,95.0 373.1,103.9 373.2,105.6 373.3,87.4 373.4,95.4 373.5,95.9 373.7,100.8 373.8,97.1 373.9,94.8 374.0,94.1 374.1,104.7 374.2,107.8 374.3,95.6 374.4,94.1 374.5,109.9 374.6,92.9 374.7,95.5 374.8,99.1 374.9,101.2 375.0,103.9 375.1,101.0 375.2,95.1 375.4,101.1 375.5,99.7 375.6,107.0 375.7,98.5 375.8,92.7 375.9,94.1 376.0,105.5 376.1,96.7 376.2,89.9 376.3,97.1 376.4,100.1 376.5,105.8 376.6,96.3 376.7,103.7 376.8,103.8 377.0,96.7 377.1,98.9 377.2,107.9 377.3,108.1 377.4,104.5 377.5,102.1 377.6,105.3 377.7,99.1 377.8,98.7 377.9,95.0 378.0,98.7 378.1,98.4 378.2,110.3 378.3,98.6 378.4,105.5 378.5,106.2 378.7,99.9 378.8,105.5 378.9,90.9 379.0,100.7 379.1,104.4 379.2,91.4 379.3,97.4 379.4,106.7 379.5,100.7 379.6,97.1 379.7,100.3 379.8,99.4 379.9,104.5 380.0,103.0 380.1,100.0 380.3,98.7 380.4,101.6 380.5,107.4 380.6,103.3 380.7,104.5 380.8,101.4 380.9,97.1 381.0,99.8 381.1,105.5 381.2,103.3 381.3,99.1 381.4,96.2 381.5,103.4 381.6,101.9 381.7,101.3 381.9,100.6 382.0,103.8 382.1,104.4 382.2,106.9 382.3,106.7 382.4,108.0 382.5,105.6 382.6,100.9 382.7,102.4 382.8,105.7 382.9,103.5 383.0,107.4 383.1,109.8 383.2,101.6 383.3,97.1 383.4,108.0 383.6,102.6 383.7,105.6 383.8,97.9 383.9,110.2 384.0,106.3 384.1,102.9 384.2,102.0 384.3,103.8 384.4,102.9 384.5,102.8 384.6,99.9 384.7,109.5 384.8,104.5 384.9,104.9 385.0,104.8 385.2,95.2 385.3,106.0 385.4,102.4 385.5,102.4 385.6,103.7 385.7,99.8 385.8,106.9 385.9,101.2 386.0,100.5 386.1,100.5 386.2,104.0 386.3,105.9 386.4,100.6 386.5,97.3 386.6,107.3 386.8,99.5 386.9,107.9 387.0,103.2 387.1,100.9 387.2,101.4 387.3,105.6 387.4,107.1 387.5,102.9 387.6,107.1 387.7,111.6 387.8,103.7 387.9,100.9 388.0,102.0 388.1,101.3 388.2,104.3 388.3,104.1 388.5,101.6 388.6,107.9 388.7,96.5 388.8,101.0 388.9,112.7 389.0,109.0 389.1,107.2 389.2,106.1 389.3,110.0 389.4,106.6 389.5,106.1 389.6,101.5 389.7,105.5 389.8,102.8 389.9,102.7 390.1,102.8 390.2,105.7 390.3,105.1 390.4,109.7 390.5,101.9 390.6,105.9 390.7,112.9 390.8,106.4 390.9,110.4 391.0,110.2 391.1,110.8 391.2,108.7 391.3,101.0 391.4,104.6 391.5,104.2 391.6,100.2 391.8,104.2 391.9,101.6 392.0,100.3 392.1,106.9 392.2,106.0 392.3,103.7 392.4,103.0 392.5,104.8 392.6,105.9 392.7,106.6 392.8,108.4 392.9,107.4 393.0,110.2 393.1,110.6 393.2,109.8 393.4,106.3 393.5,106.3 393.6,109.7 393.7,107.5 393.8,108.0 393.9,99.9 394.0,99.7 394.1,109.6 394.2,109.4 394.3,112.5 394.4,110.0 394.5,108.4 394.6,107.9 394.7,103.3 394.8,111.3 395.0,106.3 395.1,109.7 395.2,108.6 395.3,108.5 395.4,110.1 395.5,105.3 395.6,105.9 395.7,104.9 395.8,107.0 395.9,114.0 396.0,107.6 396.1,112.7 396.2,111.3 396.3,110.6 396.4,110.5 396.5,104.6 396.7,109.4 396.8,113.5 396.9,106.2 397.0,107.6 397.1,104.9 397.2,108.6 397.3,104.7 397.4,113.3 397.5,106.9 397.7,103.0 397.8,113.6 398.0,111.3 398.1,110.3 398.3,110.8 398.4,108.3 398.6,108.3 398.7,111.0 398.9,112.3 399.0,113.1 399.2,110.8 399.3,108.3 399.5,108.7 399.6,112.2 399.8,112.9 399.9,107.3 400.1,106.9 400.2,112.4 400.4,110.9 400.5,110.9 400.7,104.8 400.8,107.5 401.0,106.7 401.1,108.8 401.3,102.3 401.4,110.6 401.6,108.8 401.7,110.4 401.9,106.0 402.0,109.5 402.2,113.3 402.3,104.3 402.5,109.7 402.6,110.8 402.8,106.6 402.9,110.9 403.1,107.4 403.2,112.0 403.4,109.6 403.5,108.4 403.7,114.4 403.8,111.6 404.0,111.7 404.1,102.8 404.3,105.3 404.4,110.6 404.6,111.0 404.7,108.2 404.9,110.8 405.0,106.6 405.2,111.1 405.3,107.3 405.5,111.5 405.6,109.0 405.7,108.4 405.9,110.1 406.0,114.9 406.2,107.2 406.3,108.7 406.5,113.3 406.6,108.8 406.8,114.8 406.9,110.5 407.1,110.4 407.2,111.4 407.4,115.3 407.5,112.1 407.7,111.4 407.8,109.3 408.0,102.9 408.1,106.1 408.3,113.9 408.4,111.8 408.6,108.9 408.7,107.9 408.9,106.5 409.0,110.2 409.2,106.5 409.3,110.3 409.5,107.6 409.6,109.2 409.8,110.9 409.9,108.0 410.1,109.8 410.2,108.1 410.4,106.7 410.5,108.8 410.7,100.4 410.8,100.4 411.0,107.3 411.1,108.7 411.3,112.2 411.4,109.5 411.6,110.6 411.7,106.7 411.9,111.6 412.0,111.3 412.2,105.7 412.3,105.3 412.5,108.3 412.6,110.4 412.8,103.0 412.9,110.0 413.1,110.2 413.2,108.6 413.4,109.4 413.5,110.3 413.7,107.0 413.8,111.2 414.0,110.2 414.1,109.2 414.2,112.7 414.4,116.1 414.5,108.4 414.7,107.7 414.8,107.6 415.0,116.7 415.1,110.7 415.3,110.6 415.4,108.3 415.6,107.7 415.7,104.9 415.9,110.5 416.0,110.9 416.2,105.7 416.3,108.6 416.5,110.0 416.6,112.2 416.8,112.3 416.9,113.5 417.1,114.4 417.2,113.8 417.4,114.0 417.5,107.3 417.7,108.5 417.8,112.5 418.0,110.1 418.1,109.5 418.3,104.9 418.4,105.9 418.6,112.9 418.7,112.3 418.9,111.0 419.0,110.8 419.2,107.7 419.3,112.8 419.5,114.3 419.6,115.8 419.8,111.3 419.9,110.3 420.1,109.0 420.2,115.4 420.4,116.6 420.5,110.8 420.7,112.5 420.8,111.5 421.0,109.8 421.1,105.4 421.3,111.0 421.4,113.9 421.6,109.2 421.7,110.3 421.9,105.8 422.0,114.7 422.2,112.8 422.3,111.9 422.4,111.3 422.6,110.5 422.7,112.1 422.9,112.0 423.0,112.3 423.2,112.8 423.3,112.8 423.5,115.8 423.6,108.7 423.8,112.7 423.9,110.8 424.1,109.9 424.2,107.3 424.4,114.2 424.5,110.5 424.7,111.1 424.8,113.7 425.0,109.9 425.1,112.0 425.3,111.5 425.4,113.8 425.6,114.4 425.7,108.7 425.9,111.3 426.0,110.2 426.2,112.0 426.3,111.7 426.5,114.2 426.6,109.4 426.8,112.3 426.9,113.9 427.1,110.5 427.2,115.8 427.4,110.2 427.5,112.2 427.7,110.2 427.8,110.2 428.0,109.2 428.1,110.0 428.3,110.7 428.4,108.8 428.6,112.3 428.7,113.7 428.9,107.1 429.0,112.5 429.2,111.3 429.3,111.9 429.5,117.2 429.6,114.8 429.8,113.1 429.9,112.6 430.1,107.5 430.2,114.7 430.4,112.2 430.5,114.3 430.6,113.9 430.8,115.2 430.9,116.7 431.1,113.8 431.2,114.5 431.4,111.1 431.5,112.4 431.7,113.4 431.8,108.7 432.0,116.3 432.1,110.5 432.3,109.1 432.4,115.4 432.6,116.6 432.7,110.7 432.9,110.8 433.0,117.4 433.2,111.7 433.3,106.9 433.5,110.5 433.6,116.8 433.8,114.2 433.9,114.4 434.1,115.3 434.2,114.1 434.4,112.0 434.5,108.9 434.7,112.7 434.8,109.4 435.0,111.4 435.1,115.7 435.3,113.8 435.4,113.0 435.6,113.1 435.7,114.6 435.9,114.9 436.0,110.0 436.2,113.4 436.3,116.9 436.5,114.8 436.6,111.2 436.8,110.8 436.9,107.3 437.1,109.3 437.2,114.4 437.4,111.9 437.5,110.7 437.7,111.1 437.8,111.6 438.0,111.4 438.1,111.0 438.3,110.4 438.4,113.6 438.6,114.8 438.7,109.9 438.8,111.0 439.0,115.6 439.1,110.4 439.3,112.1 439.4,112.4 439.6,113.3 439.7,112.3 439.9,111.1 440.0,113.5 440.2,110.3 440.3,109.0 440.5,108.0 440.6,113.2 440.8,108.2 440.9,112.7 441.1,113.4 441.2,113.7 441.4,111.5 441.5,110.5 441.7,111.5 441.8,110.1 442.0,108.9 442.1,114.0 442.3,109.7 442.4,114.8 442.6,112.4 442.7,110.9 442.9,113.0 443.0,114.7 443.2,109.4 443.3,110.1 443.5,109.9 443.6,112.5 443.8,113.4 443.9,112.9 444.1,111.4 444.2,111.5 444.4,114.4 444.5,113.7 444.7,111.2 444.8,108.1 445.0,111.9 445.1,111.0 445.3,110.5 445.4,113.0 445.6,109.3 445.7,103.9 445.9,105.2 446.0,111.6 446.2,109.1 446.3,110.8 446.5,109.0 446.6,107.8 446.8,111.0 446.9,114.2 447.1,112.1 447.2,109.4 447.3,111.1 447.5,110.7 447.6,112.0 447.8,113.8 447.9,116.0 448.1,113.0 448.2,111.7 448.4,112.6 448.5,112.8 448.7,112.1 448.8,112.7 449.0,112.2 449.1,109.6 449.3,112.7 449.4,111.0 449.6,109.8 449.7,112.5 449.9,110.7 450.0,114.9 450.2,112.6 450.3,111.9 450.5,110.4 450.6,111.1 450.8,113.7 450.9,111.3 451.1,113.2 451.2,106.9 451.4,112.4 451.5,114.6 451.7,113.1 451.8,111.9 452.0,114.4 452.1,111.6 452.3,111.4 452.4,113.7 452.6,116.2 452.7,115.3 452.9,114.5 453.0,115.3 453.2,115.3 453.3,112.0 453.5,108.3 453.6,110.2 453.8,110.1 453.9,112.6 454.1,111.5 454.2,112.2 454.4,114.4 454.5,113.6 454.7,113.0 454.8,115.6 455.0,111.3 455.1,111.1 455.3,114.1 455.4,110.0 455.5,109.3 455.7,114.6 455.8,111.9 456.0,111.6 456.1,112.6 456.3,114.1 456.4,111.5 456.6,111.8 456.7,109.4 456.9,111.2 457.0,110.9 457.2,109.1 457.3,110.8 457.5,114.1 457.6,106.8 457.8,110.3 457.9,109.9 458.1,109.1 458.2,101.5 458.4,102.0 458.5,102.4 458.7,102.2 458.8,100.7 459.0,101.3 459.1,102.6 459.3,102.8 459.4,106.9 459.6,102.1 459.7,105.7 459.9,104.7 460.0,108.4 460.2,108.0 460.3,107.2 460.5,106.4 460.6,107.9 460.8,110.2 460.9,112.7 461.1,111.2 461.2,107.0 461.4,107.7 461.5,108.7 461.7,108.6 461.8,109.5 462.0,111.5 462.1,111.1 462.3,110.9 462.4,109.7 462.6,112.3 462.7,109.4 462.9,111.5 463.0,112.0 463.2,109.0 463.3,111.0 463.5,110.6 463.6,114.6 463.7,112.2 463.9,108.2 464.0,112.7 464.2,112.9 464.3,111.9 464.5,111.4 464.6,112.6 464.8,112.2 464.9,111.2 465.1,108.2 465.2,109.4 465.4,107.3 465.5,107.7 465.7,109.9 465.8,109.4 466.0,110.6 466.1,115.7 466.3,112.2 466.4,109.6 466.6,106.8 466.7,108.6 466.9,107.1 467.0,105.2 467.2,110.1 467.3,107.4 467.5,109.0 467.6,113.3 467.8,108.5 467.9,108.1 468.1,108.3 468.2,106.8 468.4,105.4 468.5,106.4 468.7,109.1 468.8,106.3 469.0,104.0 469.1,103.9 469.3,103.9 469.4,105.2 469.6,105.3 469.7,103.7 469.9,103.7 470.0,101.1 470.2,104.0 470.3,102.8 470.5,103.5 470.6,97.9 470.8,104.7 470.9,97.7 471.1,97.8 471.2,102.4 471.4,100.4 471.5,105.0 471.7,101.1 471.8,98.1 472.0,100.5 472.1,99.1 472.2,103.3 472.4,103.4 472.5,101.7 472.7,99.7 472.8,101.3 473.0,103.8 473.1,99.8 473.3,99.8 473.4,103.6 473.6,103.8 473.7,102.1 473.9,102.2 474.0,98.7 474.2,104.5 474.3,101.2 474.5,99.6 474.6,101.4 474.8,100.2 474.9,103.7 475.1,103.9 475.2,102.0 475.4,107.8 475.5,105.9 475.7,101.1 475.8,98.2 476.0,105.4 476.1,102.4 476.3,103.6 476.4,103.1 476.6,106.8 476.7,107.1 476.9,105.1 477.0,102.4 477.2,102.8 477.3,102.8 477.5,96.7 477.6,101.3 477.8,95.6 477.9,95.1 478.1,93.8 478.2,94.5 478.4,93.3 478.5,95.1 478.7,87.4 478.8,85.8 479.0,89.1 479.1,87.1 479.3,91.7 479.4,90.4 479.6,96.0 479.7,100.4 479.9,102.9 480.0,103.2 480.2,106.3 480.3,105.7 480.4,100.9 480.6,106.0 480.7,106.2 480.9,106.3 481.0,107.0 481.2,109.3 481.3,110.5 481.5,110.4 481.6,112.5 481.8,112.1 481.9,109.7 482.1,109.9 482.2,113.2 482.4,111.2 482.5,112.9 482.7,113.5 482.8,114.2 483.0,113.1 483.1,114.5 483.3,111.4 483.4,113.4 483.6,111.4 483.7,112.8 483.9,112.9 484.0,111.4 484.2,108.9 484.3,114.6 484.5,113.6 484.6,113.0 484.8,111.2 484.9,111.2 485.1,112.0 485.2,111.1 485.4,113.0 485.5,111.8 485.7,111.0 485.8,114.0 486.0,112.6 486.1,114.3 486.3,111.2 486.4,113.4 486.6,114.5 486.7,112.3 486.9,113.1 487.0,114.2 487.2,113.7 487.3,116.8 487.5,113.9 487.6,114.1 487.8,113.8 487.9,110.4 488.1,110.5 488.2,113.1 488.4,111.3 488.5,113.8 488.6,111.7 488.8,112.2 488.9,115.0 489.1,114.6 489.2,117.0 489.4,113.0 489.5,115.4 489.7,115.8 489.8,115.3 490.0,115.7 490.1,115.1 490.3,113.4 490.4,112.3 490.6,114.4 490.7,112.7 490.9,114.0 491.0,114.8 491.2,113.5 491.3,112.3 491.5,113.6 491.6,115.2 491.8,113.1 491.9,114.8 492.1,113.5 492.2,114.2 492.4,113.3 492.5,114.4 492.7,116.3 492.8,114.0 493.0,113.9 493.1,113.1 493.3,115.5 493.4,112.0 493.6,113.3 493.7,115.7 493.9,116.4 494.0,114.2 494.2,116.2 494.3,111.7 494.5,115.7 494.6,114.7 494.8,112.1 494.9,111.0 495.1,112.9 495.2,114.2 495.4,114.6 495.5,114.2 495.7,115.3 495.8,115.3 496.0,111.6 496.1,112.8 496.3,113.7 496.4,117.1 496.6,115.0 496.7,117.1 496.8,115.5 497.0,118.7 497.1,114.8 497.3,114.4 497.4,113.6 497.6,113.4 497.7,116.7 497.9,112.5 498.0,112.6 498.2,114.4 498.3,116.4 498.5,114.4 498.6,116.5 498.8,115.5 498.9,114.7 499.1,114.8 499.2,113.2 499.4,113.3 499.5,112.3 499.7,115.8 499.8,117.0 500.0,114.3 500.1,114.4 500.3,111.0 500.4,112.4 500.6,113.1 500.7,112.4 500.9,111.7 501.0,112.5 501.2,110.9 501.3,109.6 501.5,112.4 501.6,106.3 501.8,107.3 501.9,107.0 502.1,106.0 502.2,106.6 502.4,108.5 502.5,108.1 502.7,109.9 502.8,111.7 503.0,111.5 503.1,112.1 503.3,110.5 503.4,110.3 503.6,111.8 503.7,113.9 503.9,113.1 504.0,114.2 504.2,114.2 504.3,114.6 504.5,112.1 504.6,115.5 504.8,115.2 504.9,116.9 505.1,114.1 505.2,113.7 505.3,113.1 505.5,113.9 505.6,112.0 505.8,114.9 505.9,115.7 506.1,117.2 506.2,113.6 506.4,113.4 506.5,116.3 506.7,113.3 506.8,114.9 507.0,112.7 507.1,113.2 507.3,114.1 507.4,115.0 507.6,113.3 507.7,112.8 507.9,116.7 508.0,114.7 508.2,115.4 508.3,115.3 508.5,115.0 508.6,113.4 508.8,113.4 508.9,110.8 509.1,112.7 509.2,110.9 509.4,111.0 509.5,114.0 509.7,112.4 509.8,111.6 510.0,109.8 510.1,113.6 510.3,115.1 510.4,111.5 510.6,113.3 510.7,111.9 510.9,112.7 511.0,112.6 511.2,111.0 511.3,112.8 511.5,111.6 511.6,115.6 511.8,114.7 511.9,114.7 512.1,116.4 512.2,116.1 512.4,116.3 512.5,116.4 512.7,115.8 512.8,115.9 513.0,114.1 513.1,114.4 513.3,114.7 513.4,115.8 513.5,114.8 513.7,117.7 513.8,114.5 514.0,114.2 514.1,115.4 514.3,116.5 514.4,117.8 514.6,116.2 514.7,113.5 514.9,114.1 515.0,115.8 515.2,114.3 515.3,114.9 515.5,113.8 515.6,116.4 515.8,116.4 515.9,115.9 516.1,114.4 516.2,111.8 516.4,112.3 516.5,115.2 516.7,116.2 516.8,111.9 517.0,115.3 517.1,117.5 517.3,117.0 517.4,114.6 517.6,115.8 517.7,114.7 517.9,114.1 518.0,115.7 518.2,115.5 518.3,113.2 518.5,113.0 518.6,113.2 518.8,113.7 518.9,118.0 519.1,118.7 519.2,116.1 519.4,116.8 519.5,114.1 519.7,114.9 519.8,116.4 520.0,115.5 520.1,114.9 520.3,112.5 520.4,112.9 520.6,114.4 520.7,114.3 520.9,115.1 521.0,114.3 521.2,114.8 521.3,115.0 521.5,115.6 521.6,114.9 521.7,114.0 521.9,114.4 522.0,116.3 522.2,115.3 522.3,114.8 522.5,115.1 522.6,117.1 522.8,117.7 522.9,118.6 523.1,116.2 523.2,118.2 523.4,115.4 523.5,115.4 523.7,114.9 523.8,116.5 524.0,117.4 524.1,116.1 524.3,115.1 524.4,113.1 524.6,113.2 524.7,110.3 524.9,112.1 525.0,113.7 525.2,114.1 525.3,115.1 525.5,116.5 525.6,117.1 525.8,115.6 525.9,115.8 526.1,115.1 526.2,115.4 526.4,114.0 526.5,117.3 526.7,117.1 526.8,118.1 527.0,114.7 527.1,114.5 527.3,112.1 527.4,114.1 527.6,114.1 527.7,115.3 527.9,114.3 528.0,115.4 528.2,112.6 528.3,112.9 528.5,113.3 528.6,114.7 528.8,115.1 528.9,115.1 529.1,113.5 529.2,113.7 529.4,115.6 529.5,114.7 529.7,111.7 529.8,112.1 529.9,113.3 530.1,114.9 530.2,114.9 530.4,116.4 530.5,117.0 530.7,117.9 530.8,111.7 531.0,114.5 531.1,116.7 531.3,113.3 531.4,113.1 531.6,115.6 531.7,117.2 531.9,117.5 532.0,113.0 532.2,113.7 532.3,115.3 532.5,114.5 532.6,115.3 532.8,114.5 532.9,116.2 533.1,113.1 533.2,113.1 533.4,112.4 533.5,113.2 533.7,108.8 533.8,110.1 534.0,107.4 534.1,106.1 534.3,110.8 534.4,110.5 534.6,112.6 534.7,111.6 534.9,113.0 535.0,112.9 535.2,114.2 535.3,113.2 535.5,116.5 535.6,112.9 535.8,116.6 535.9,114.1 536.1,116.1 536.2,115.6 536.4,116.5 536.5,118.0 536.7,114.4 536.8,111.1 537.0,113.9 537.1,115.8 537.3,111.6 537.4,115.0 537.6,114.0 537.7,112.1 537.9,115.6 538.0,116.5 538.2,114.0 538.3,115.3 538.4,115.3 538.6,116.7 538.7,116.2 538.9,113.4 539.0,114.9 539.2,117.1 539.3,115.9 539.5,114.7 539.6,116.8 539.8,113.3 539.9,114.8 540.1,113.3 540.2,114.4 540.4,116.7 540.5,116.7 540.7,120.3 540.8,117.8 541.0,117.1 541.1,118.4 541.3,117.1 541.4,112.7 541.6,115.3 541.7,116.2 541.9,114.5 542.0,115.9 542.2,114.9 542.3,115.8 542.5,112.6 542.6,111.8 542.8,113.6 542.9,114.9 543.1,116.6 543.2,114.5 543.4,113.8 543.5,116.0 543.7,114.3 543.8,116.4 544.0,114.2 544.1,112.0 544.3,113.9 544.4,114.6 544.6,114.8 544.7,116.0 544.9,116.1 545.0,116.5 545.2,115.9 545.3,116.8 545.5,116.3 545.6,115.2 545.8,114.4 545.9,110.8 546.1,110.8 546.2,111.9 546.4,113.5 546.5,110.2 546.6,110.8 546.8,111.0 546.9,113.4 547.1,110.8 547.2,109.9 547.4,113.1 547.5,112.5 547.7,112.6 547.8,115.4 548.0,112.8 548.1,114.4 548.3,114.0 548.4,115.4 548.6,112.5 548.7,112.0 548.9,112.9 549.0,112.3 549.2,112.1 549.3,110.7 549.5,111.3 549.6,111.1 549.8,109.8 549.9,107.5 550.1,111.7 550.2,107.0 550.4,109.0 550.5,112.7 550.7,112.5 550.8,116.5 551.0,118.1 551.1,117.8 551.3,115.9 551.4,116.4 551.6,114.1 551.7,115.4 551.9,115.5 552.0,115.0 552.2,114.9 552.3,114.2 552.5,111.7 552.6,115.2 552.8,115.4 552.9,118.0 553.1,116.3 553.2,115.4 553.4,116.6 553.5,116.3 553.7,115.3 553.8,114.6 554.0,112.8 554.1,115.0 554.3,117.1 554.4,111.7 554.6,112.4 554.7,114.3 554.8,112.7 555.0,112.6 555.1,108.8 555.3,111.0 555.4,113.1 555.6,113.7 555.7,113.5 555.9,112.0 556.0,114.0 556.2,111.7 556.3,112.5 556.5,112.7 556.6,116.8 556.8,114.5 556.9,115.4 557.1,112.6 557.2,117.6 557.4,116.9 557.5,113.8 557.7,113.5 557.8,117.6 558.0,113.6 558.1,117.4 558.3,114.4 558.4,111.8 558.6,116.9 558.7,115.7 558.9,115.4 559.0,114.1 559.2,115.1 559.3,116.8 559.5,114.2 559.6,112.6 559.8,115.4 559.9,112.3 560.1,116.5 560.2,115.7 560.4,116.2 560.5,116.8 560.7,114.1 560.8,119.1 561.0,116.6 561.1,117.1 561.3,119.1 561.4,117.0 561.6,118.1 561.7,117.2 561.9,117.4 562.0,116.3 562.2,117.3 562.3,115.5 562.5,116.7 562.6,115.5 562.8,118.3 562.9,113.6 563.1,116.7 563.2,116.7 563.3,116.5 563.5,115.7 563.6,117.3 563.8,118.2 563.9,114.5 564.1,112.9 564.2,114.1 564.4,113.6 564.5,113.3 564.7,113.6 564.8,116.0 565.0,113.6 565.1,113.4 565.3,112.7 565.4,110.6 565.6,111.0 565.7,115.1 565.9,112.3 566.0,112.3 566.2,111.2 566.3,116.5 566.5,115.0 566.6,114.9 566.8,119.4 566.9,118.0 567.1,113.7 567.2,115.7 567.4,117.8 567.5,117.2 567.7,114.0 567.8,118.1 568.0,118.3 568.1,113.8 568.3,112.4 568.4,112.8 568.6,115.8 568.7,116.6 568.9,115.5 569.0,114.6 569.2,115.3 569.3,116.1 569.5,113.8 569.6,113.5 569.8,116.2 569.9,118.4 570.1,117.2 570.2,117.5 570.4,115.4 570.5,116.6 570.7,114.3 570.8,117.7 571.0,116.6 571.1,116.8 571.3,115.5 571.4,117.6 571.5,116.1 571.7,115.1 571.8,116.7 572.0,116.5 572.1,116.6 572.3,116.8 572.4,118.5 572.6,115.6 572.7,116.1 572.9,115.9 573.0,116.7 573.2,115.7 573.3,118.5 573.5,112.4 573.6,115.4 573.8,114.4 573.9,116.1 574.1,111.6 574.2,115.0 574.4,109.9 574.5,112.4 574.7,112.2 574.8,111.8 575.0,111.2 575.1,112.2 575.3,114.3 575.4,113.3 575.6,111.7 575.7,111.8 575.9,115.1 576.0,115.1 576.2,115.2 576.3,115.4 576.5,116.6 576.6,117.3 576.8,117.0 576.9,115.1 577.1,114.7 577.2,113.9 577.4,116.0 577.5,115.1 577.7,116.9 577.8,119.2 578.0,116.7 578.1,118.0 578.3,118.3 578.4,113.2 578.6,113.7 578.7,116.4 578.9,114.5 579.0,116.0 579.2,116.5 579.3,115.0 579.5,116.7 579.6,118.0 579.7,117.1 579.9,115.0 580.0,116.5 580.2,116.5 580.3,119.8 580.5,117.7 580.6,117.1 580.8,118.2 580.9,118.7 581.1,117.3 581.2,117.8 581.4,117.5 581.5,118.5 581.7,118.9 581.8,118.0 582.0,117.3 582.1,118.9 582.3,117.4 582.4,120.0 582.6,118.5 582.7,117.5 582.9,113.3 583.0,119.7 583.2,118.7 583.3,118.7 583.5,117.3 583.6,118.0 583.8,120.4 583.9,115.7 584.1,117.4 584.2,117.3 584.4,116.9 584.5,117.5 584.7,115.7 584.8,117.9 585.0,115.2 585.1,119.4 585.3,117.6 585.4,114.6 585.6,112.3 585.7,115.1 585.9,116.1 586.0,114.6 586.2,118.9 586.3,117.2 586.5,115.5 586.6,112.7 586.8,114.3 586.9,115.5 587.1,117.1 587.2,117.3 587.4,115.4 587.5,115.8 587.7,117.2 587.8,115.6 587.9,113.5 588.1,114.0 588.2,111.1 588.4,112.3 588.5,112.9 588.7,112.7 588.8,115.9 589.0,115.5 589.1,116.5 589.3,113.4 589.4,116.8 589.6,116.9 589.7,115.0 589.9,115.6 590.0,115.7 590.2,115.2 590.3,116.0 590.5,113.7 590.6,113.5 590.8,115.5 590.9,119.4 591.1,116.8 591.2,116.0 591.4,113.5 591.5,112.5 591.7,116.6 591.8,116.2 592.0,116.8 592.1,116.7 592.3,116.9 592.4,116.2 592.6,117.5 592.7,117.4 592.9,116.1 593.0,120.6 593.2,115.1 593.3,114.7 593.5,118.4 593.6,117.8 593.8,117.2 593.9,117.5 594.1,117.6 594.2,115.5 594.4,115.1 594.5,115.0 594.7,116.2 594.8,117.1 595.0,120.2 595.1,119.0 595.3,119.1 595.4,117.3 595.6,119.2 595.7,115.4 595.9,118.1 596.0,118.2 596.2,116.4 596.3,115.9 596.4,118.1 596.6,116.3 596.7,115.9 596.9,117.1 597.0,115.7 597.2,117.2 597.3,120.2 597.5,116.6 597.6,118.2 597.8,115.0 597.9,116.1 598.1,115.1 598.2,114.9 598.4,116.0 598.5,118.0 598.7,114.6 598.8,116.4 599.0,114.6 599.1,114.8 599.3,112.5 599.4,111.6 599.6,111.3 599.7,109.4 599.9,111.9 600.0,111.9 600.2,114.4 600.3,115.4 600.5,118.6 600.6,119.0 600.8,117.5 600.9,116.1 601.1,117.5 601.2,117.4 601.4,115.8 601.5,114.9 601.7,113.6 601.8,116.1 602.0,118.8 602.1,115.9 602.3,116.6 602.4,116.5 602.6,117.3 602.7,118.3 602.9,114.6 603.0,117.4 603.2,118.0 603.3,117.1 603.5,118.6 603.6,116.2 603.8,117.9 603.9,119.1 604.1,116.3 604.2,116.6 604.4,115.8 604.5,116.8 604.6,112.3 604.8,112.7 604.9,114.0 605.1,116.0 605.2,116.0 605.4,114.0 605.5,117.5 605.7,115.3 605.8,114.3 606.0,116.1 606.1,117.5 606.3,115.7 606.4,113.8 606.6,115.4 606.7,116.6 606.9,118.0 607.0,115.1 607.2,116.9 607.3,114.7 607.5,116.2 607.6,113.6 607.8,114.3 607.9,112.6 608.1,113.6 608.2,113.2 608.4,113.1 608.5,117.7 608.7,117.8 608.8,117.2 609.0,116.6 609.1,119.6 609.3,117.3 609.4,118.1 609.6,118.8 609.7,117.4 609.9,119.0 610.0,116.8 610.2,116.9 610.3,117.2 610.5,115.2 610.6,115.2 610.8,117.8 610.9,114.3 611.1,118.1 611.2,116.6 611.4,117.9 611.5,117.7 611.7,117.9 611.8,119.6 612.0,116.2 612.1,115.2 612.3,117.8 612.4,116.4 612.6,119.0 612.7,118.5 612.8,116.6 613.0,115.0 613.1,114.0 613.3,119.3 613.4,114.1 613.6,113.8 613.7,116.4 613.9,116.6 614.0,117.1 614.2,117.4 614.3,117.0 614.5,116.6 614.6,117.0 614.8,118.8 614.9,118.6 615.1,117.9 615.2,117.2 615.4,115.2 615.5,119.4 615.7,118.7 615.8,115.2 616.0,120.7 616.1,118.7 616.3,118.0 616.4,118.4 616.6,118.6 616.7,119.2 616.9,118.6 617.0,117.9 617.2,119.2 617.3,119.4 617.5,122.2 617.6,118.8 617.8,117.6 617.9,117.0 618.1,118.1 618.2,117.8 618.4,118.1 618.5,117.6 618.7,117.7 618.8,118.2 619.0,118.1 619.1,117.3 619.3,117.1 619.4,115.3 619.6,115.0 619.7,116.6 619.9,116.2 620.0,116.7 620.2,115.6 620.3,116.9 620.5,114.0 620.6,115.0 620.8,115.6 620.9,117.3 621.1,115.6 621.2,115.4 621.3,117.3 621.5,116.8 621.6,118.2 621.8,117.4 621.9,117.2 622.1,116.5 622.2,117.9 622.4,116.1 622.5,114.9 622.7,118.3 622.8,116.0 623.0,116.5 623.1,117.7 623.3,118.6 623.4,113.5 623.6,115.5 623.7,118.7 623.9,114.7 624.0,117.9 624.2,116.6 624.3,115.5 624.5,116.0 624.6,113.5 624.8,116.5 624.9,118.0 625.1,115.1 625.2,116.9 625.4,120.0 625.5,118.9 625.7,117.5 625.8,119.4 626.0,114.8 626.1,116.7 626.3,117.3 626.4,116.6 626.6,118.0 626.7,114.6 626.9,117.3 627.0,116.6 627.2,119.3 627.3,118.8 627.5,116.4 627.6,116.1 627.8,117.9 627.9,117.1 628.1,117.5 628.2,118.6 628.4,116.8 628.5,119.5 628.7,117.1 628.8,116.8 629.0,116.5 629.1,117.4 629.3,119.5 629.4,118.4 629.5,119.6 629.7,119.5 629.8,118.5 630.0,116.5 630.1,116.9 630.3,116.8 630.4,114.1 630.6,116.8 630.7,115.1 630.9,116.7 631.0,116.5 631.2,118.4 631.3,121.5 631.5,116.3 631.6,118.0 631.8,120.8 631.9,116.5 632.1,115.0 632.2,112.8 632.4,115.7 632.5,115.5 632.7,118.6 632.8,119.3 633.0,122.2 633.1,118.6 633.3,117.9 633.4,118.8 633.6,115.0 633.7,118.9 633.9,120.4 634.0,117.6 634.2,117.3 634.3,118.1 634.5,119.7 634.6,118.2 634.8,122.1 634.9,118.8 635.1,118.1 635.2,120.3 635.4,117.6 635.5,116.9 635.7,120.0 635.8,118.3 636.0,119.7 636.1,117.8 636.3,116.2 636.4,118.6 636.6,119.9 636.7,116.7 636.9,117.6 637.0,118.2 637.2,117.8 637.3,117.5 637.5,118.2 637.6,117.5 637.7,116.6 637.9,118.8 638.0,118.3 638.2,117.5 638.3,117.7 638.5,112.9 638.6,117.0 638.8,116.8 638.9,114.0 639.1,119.9 639.2,117.8 639.4,117.0 639.5,117.3 639.7,118.4 639.8,118.2 640.0,116.2 640.1,117.8 640.3,118.6 640.4,118.3 640.6,118.2 640.7,115.5 640.9,116.7 641.0,118.7 641.2,117.6 641.3,118.8 641.5,117.4 641.6,119.5 641.8,119.1 641.9,120.0 642.1,119.2 642.2,117.6 642.4,116.2 642.5,117.1 642.7,116.1 642.8,115.2 643.0,116.6 643.1,118.5 643.3,117.9 643.4,115.8 643.6,117.4 643.7,115.4 643.9,115.4 644.0,115.3 644.2,116.4 644.3,119.8 644.5,118.1 644.6,118.5 644.8,121.1 644.9,120.4 645.1,116.6 645.2,119.3 645.4,117.0 645.5,119.4 645.7,115.2 645.8,116.3 645.9,116.4 646.1,120.9 646.2,116.1 646.4,120.7 646.5,120.8 646.7,119.2 646.8,119.5 647.0,121.1 647.1,117.8 647.3,117.1 647.4,119.4 647.6,118.4 647.7,115.6 647.9,117.6 648.0,118.1 648.2,116.3 648.3,116.7 648.5,117.1 648.6,116.4 648.8,119.0 648.9,118.7 649.1,114.8 649.2,116.9 649.4,117.3 649.5,115.1 649.7,116.9 649.8,118.3 650.0,116.1 650.1,118.5 650.3,115.6 650.4,119.8 650.6,117.3 650.7,116.0 650.9,115.4 651.0,115.6 651.2,119.6 651.3,116.3 651.5,116.6 651.6,116.9 651.8,115.4 651.9,118.8 652.1,114.5 652.2,119.8 652.4,117.9 652.5,119.4 652.7,119.4 652.8,119.1 653.0,115.8 653.1,118.9 653.3,118.0 653.4,117.3 653.6,116.8 653.7,118.9 653.9,118.6 654.0,120.6 654.2,120.8 654.3,116.9 654.4,119.2 654.6,120.1 654.7,116.1 654.9,113.9 655.0,113.2 655.2,119.7 655.3,115.7 655.5,117.6 655.6,116.3 655.8,119.0 655.9,121.2 656.1,116.8 656.2,118.5 656.4,117.0 656.5,115.1 656.7,116.4 656.8,117.6 657.0,119.3 657.1,119.3 657.3,117.3 657.4,114.6 657.6,117.8 657.7,117.0 657.9,117.5 658.0,116.5 658.2,118.3 658.3,121.7 658.5,120.0 658.6,118.5 658.8,118.7 658.9,116.9 659.1,115.8 659.2,115.2 659.4,114.6 659.5,114.6 659.7,115.4 659.8,118.8 660.0,117.3 660.1,119.4 660.3,117.7 660.4,118.5 660.6,117.9 660.7,118.3 660.9,118.3 661.0,115.9 661.2,115.1 661.3,117.1 661.5,120.0 661.6,116.9 661.8,116.9 661.9,121.5 662.1,115.7 662.2,116.7 662.4,116.4 662.5,115.8 662.6,116.2 662.8,119.2 662.9,118.3 663.1,118.3 663.2,115.3 663.4,118.6 663.5,117.6 663.7,117.8 663.8,118.5 664.0,117.5 664.1,117.9 664.3,119.4 664.4,118.1 664.6,117.9 664.7,117.1 664.9,118.2 665.0,113.7 665.2,116.4 665.3,118.7 665.5,119.7 665.6,117.8 665.8,119.3 665.9,119.1 666.1,116.7 666.2,117.6 666.4,121.7 666.5,117.8 666.7,120.2 666.8,118.4 667.0,119.8 667.1,119.3 667.3,118.0 667.4,115.7 667.6,119.1 667.7,117.9 667.9,117.4 668.0,118.2 668.2,117.1 668.3,119.4 668.5,119.3 668.6,115.2 668.8,113.5 668.9,116.5 669.1,115.0 669.2,119.4 669.4,119.7 669.5,118.7 669.7,119.5 669.8,116.6 670.0,119.6 670.1,120.5 670.3,120.2 670.4,119.8 670.6,117.0 670.7,120.3 670.8,118.4 671.0,118.8 671.1,119.8 671.3,117.8 671.4,117.6 671.6,120.2 671.7,116.8 671.9,117.6 672.0,120.0 672.2,117.0 672.3,117.2 672.5,117.4 672.6,118.0 672.8,121.8 672.9,119.4 673.1,119.6 673.2,115.5 673.4,115.1 673.5,117.5 673.7,121.3 673.8,122.0 674.0,117.7 674.1,118.0 674.3,121.1"/>
<polyline fill="none" stroke="#0000ff" stroke-width="0.8" stroke-linejoin="round" points="354.8,125.5 354.9,128.2 355.0,117.2 355.1,121.4 355.2,125.4 355.3,126.7 355.4,124.4 355.5,127.5 355.7,123.6 355.8,124.6 355.9,123.6 356.0,119.9 356.1,121.1 356.2,125.3 356.3,121.8 356.4,128.1 356.5,128.2 356.6,130.1 356.7,124.3 356.8,129.7 356.9,122.5 357.0,123.8 357.1,127.4 357.2,128.0 357.4,121.2 357.5,120.5 357.6,127.6 357.7,123.7 357.8,131.0 357.9,128.4 358.0,128.1 358.1,128.0 358.2,130.6 358.3,127.3 358.4,131.6 358.5,126.2 358.6,127.1 358.7,124.8 358.8,128.4 359.0,127.5 359.1,125.5 359.2,135.1 359.3,127.2 359.4,128.1 359.5,130.0 359.6,135.1 359.7,129.4 359.8,132.6 359.9,130.7 360.0,125.3 360.1,132.4 360.2,133.0 360.3,129.1 360.4,130.2 360.6,125.8 360.7,126.1 360.8,130.0 360.9,133.5 361.0,130.1 361.1,132.7 361.2,135.0 361.3,132.2 361.4,133.8 361.5,136.6 361.6,128.1 361.7,134.6 361.8,126.6 361.9,134.3 362.0,133.8 362.1,131.4 362.3,129.7 362.4,133.4 362.5,132.6 362.6,134.1 362.7,131.5 362.8,136.4 362.9,131.6 363.0,134.3 363.1,134.4 363.2,139.6 363.3,130.8 363.4,133.8 363.5,138.5 363.6,132.9 363.7,131.2 363.9,135.9 364.0,134.2 364.1,137.8 364.2,132.5 364.3,136.1 364.4,137.8 364.5,139.4 364.6,133.1 364.7,141.0 364.8,134.0 364.9,132.4 365.0,134.5 365.1,138.3 365.2,137.1 365.3,139.4 365.5,139.4 365.6,138.7 365.7,137.1 365.8,143.6 365.9,131.8 366.0,133.3 366.1,136.9 366.2,134.4 366.3,129.3 366.4,133.4 366.5,134.8 366.6,131.0 366.7,141.0 366.8,142.5 366.9,141.8 367.0,136.3 367.2,138.9 367.3,135.8 367.4,139.7 367.5,137.2 367.6,140.6 367.7,138.7 367.8,143.0 367.9,142.8 368.0,144.5 368.1,136.6 368.2,136.1 368.3,142.3 368.4,139.1 368.5,141.7 368.6,141.4 368.8,141.2 368.9,143.4 369.0,142.4 369.1,142.5 369.2,139.0 369.3,146.8 369.4,142.2 369.5,144.7 369.6,142.0 369.7,144.3 369.8,141.1 369.9,141.3 370.0,141.1 370.1,139.2 370.2,140.2 370.3,141.9 370.5,142.3 370.6,140.1 370.7,149.5 370.8,140.2 370.9,142.3 371.0,150.1 371.1,141.5 371.2,145.4 371.3,145.2 371.4,143.0 371.5,140.0 371.6,140.1 371.7,144.7 371.8,146.0 371.9,138.8 372.1,144.8 372.2,142.0 372.3,145.8 372.4,144.0 372.5,141.6 372.6,142.9 372.7,144.4 372.8,148.1 372.9,151.6 373.0,145.3 373.1,144.3 373.2,145.9 373.3,144.3 373.4,146.3 373.5,146.0 373.7,145.0 373.8,142.7 373.9,144.9 374.0,146.7 374.1,144.7 374.2,149.1 374.3,148.4 374.4,146.0 374.5,151.0 374.6,143.1 374.7,149.1 374.8,151.1 374.9,145.9 375.0,146.7 375.1,149.5 375.2,150.7 375.4,148.2 375.5,148.0 375.6,150.2 375.7,148.5 375.8,144.5 375.9,147.0 376.0,147.4 376.1,143.6 376.2,148.7 376.3,146.0 376.4,149.9 376.5,143.7 376.6,144.9 376.7,142.7 376.8,149.2 377.0,150.1 377.1,151.5 377.2,151.5 377.3,150.0 377.4,149.8 377.5,143.0 377.6,148.2 377.7,146.5 377.8,147.6 377.9,146.0 378.0,152.8 378.1,149.9 378.2,145.9 378.3,151.1 378.4,149.8 378.5,147.2 378.7,148.7 378.8,147.0 378.9,142.5 379.0,143.8 379.1,149.1 379.2,149.1 379.3,149.3 379.4,146.1 379.5,147.9 379.6,149.5 379.7,150.8 379.8,146.6 379.9,145.8 380.0,151.2 380.1,148.6 380.3,147.6 380.4,146.7 380.5,146.8 380.6,152.2 380.7,150.6 380.8,147.2 380.9,145.1 381.0,152.3 381.1,152.2 381.2,151.7 381.3,151.3 381.4,145.3 381.5,147.2 381.6,151.9 381.7,149.9 381.9,151.3 382.0,149.6 382.1,149.5 382.2,152.6 382.3,150.2 382.4,150.8 382.5,150.9 382.6,150.7 382.7,153.0 382.8,153.9 382.9,147.6 383.0,150.4 383.1,148.9 383.2,151.6 383.3,147.8 383.4,152.7 383.6,152.4 383.7,152.0 383.8,148.4 383.9,150.5 384.0,148.8 384.1,152.5 384.2,153.7 384.3,147.5 384.4,148.3 384.5,149.1 384.6,148.7 384.7,154.2 384.8,150.6 384.9,151.6 385.0,148.6 385.2,155.0 385.3,151.8 385.4,153.2 385.5,151.7 385.6,146.7 385.7,148.2 385.8,149.0 385.9,153.2 386.0,150.9 386.1,153.1 386.2,152.8 386.3,152.9 386.4,154.7 386.5,153.3 386.6,149.3 386.8,151.5 386.9,156.6 387.0,150.2 387.1,155.8 387.2,156.6 387.3,151.6 387.4,153.8 387.5,149.9 387.6,155.1 387.7,151.8 387.8,150.8 387.9,152.7 388.0,152.0 388.1,151.2 388.2,152.5 388.3,151.6 388.5,150.5 388.6,154.3 388.7,157.2 388.8,151.5 388.9,150.5 389.0,150.5 389.1,154.1 389.2,152.4 389.3,153.2 389.4,148.9 389.5,150.9 389.6,150.9 389.7,155.6 389.8,153.2 389.9,148.6 390.1,154.5 390.2,155.2 390.3,156.8 390.4,149.2 390.5,155.4 390.6,156.9 390.7,156.5 390.8,154.6 390.9,151.1 391.0,153.9 391.1,153.8 391.2,154.9 391.3,154.4 391.4,153.1 391.5,156.3 391.6,152.3 391.8,152.8 391.9,153.8 392.0,155.3 392.1,153.6 392.2,157.1 392.3,155.6 392.4,152.8 392.5,155.0 392.6,152.7 392.7,152.3 392.8,151.2 392.9,157.4 393.0,156.5 393.1,151.4 393.2,157.3 393.4,157.2 393.5,154.5 393.6,156.5 393.7,160.1 393.8,155.7 393.9,155.9 394.0,157.4 394.1,152.9 394.2,152.5 394.3,152.2 394.4,155.0 394.5,157.0 394.6,153.5 394.7,152.6 394.8,156.1 395.0,155.0 395.1,157.1 395.2,155.5 395.3,155.2 395.4,155.3 395.5,155.5 395.6,153.3 395.7,152.7 395.8,158.1 395.9,160.0 396.0,157.1 396.1,151.6 396.2,155.2 396.3,157.7 396.4,151.9 396.5,154.2 396.7,154.4 396.8,153.3 396.9,153.3 397.0,156.9 397.1,153.8 397.2,154.4 397.3,158.7 397.4,153.6 397.5,151.7 397.7,157.2 397.8,160.2 398.0,156.7 398.1,156.8 398.3,153.4 398.4,154.0 398.6,159.1 398.7,159.1 398.9,158.3 399.0,156.2 399.2,155.4 399.3,155.8 399.5,155.5 399.6,158.8 399.8,155.7 399.9,156.1 400.1,158.5 400.2,158.7 400.4,157.7 400.5,158.8 400.7,158.0 400.8,154.3 401.0,158.0 401.1,157.3 401.3,157.3 401.4,157.7 401.6,155.2 401.7,159.0 401.9,156.6 402.0,157.2 402.2,157.6 402.3,156.7 402.5,158.5 402.6,159.0 402.8,158.9 402.9,156.3 403.1,155.7 403.2,156.0 403.4,156.9 403.5,153.1 403.7,155.2 403.8,154.9 404.0,156.0 404.1,154.1 404.3,156.0 404.4,156.9 404.6,159.5 404.7,155.9 404.9,156.4 405.0,157.3 405.2,160.8 405.3,160.8 405.5,156.5 405.6,159.2 405.7,162.4 405.9,156.6 406.0,158.4 406.2,161.2 406.3,160.1 406.5,156.3 406.6,160.7 406.8,160.0 406.9,159.5 407.1,155.4 407.2,157.1 407.4,159.5 407.5,157.7 407.7,158.8 407.8,157.4 408.0,161.0 408.1,157.8 408.3,159.9 408.4,158.5 408.6,155.6 408.7,159.9 408.9,154.3 409.0,155.0 409.2,156.3 409.3,152.6 409.5,150.7 409.6,152.9 409.8,150.5 409.9,148.8 410.1,148.0 410.2,148.3 410.4,134.8 410.5,138.1 410.7,130.7 410.8,134.8 411.0,134.9 411.1,142.9 411.3,150.3 411.4,153.2 411.6,151.9 411.7,155.5 411.9,157.6 412.0,155.4 412.2,153.5 412.3,154.7 412.5,155.8 412.6,155.8 412.8,156.0 412.9,154.2 413.1,157.6 413.2,157.8 413.4,159.0 413.5,160.8 413.7,160.9 413.8,157.9 414.0,157.8 414.1,157.5 414.2,157.8 414.4,157.8 414.5,158.0 414.7,157.1 414.8,155.9 415.0,155.5 415.1,157.4 415.3,161.6 415.4,158.3 415.6,158.6 415.7,158.1 415.9,157.1 416.0,161.1 416.2,157.3 416.3,156.7 416.5,156.8 416.6,159.7 416.8,156.0 416.9,154.3 417.1,155.1 417.2,155.3 417.4,158.7 417.5,156.4 417.7,163.6 417.8,155.2 418.0,157.1 418.1,159.5 418.3,160.1 418.4,158.7 418.6,159.7 418.7,159.3 418.9,159.1 419.0,159.9 419.2,159.5 419.3,159.4 419.5,159.7 419.6,161.5 419.8,159.5 419.9,160.5 420.1,161.9 420.2,159.6 420.4,160.7 420.5,157.7 420.7,159.0 420.8,159.7 421.0,159.7 421.1,160.4 421.3,162.0 421.4,158.5 421.6,156.9 421.7,158.7 421.9,156.8 422.0,159.9 422.2,162.1 422.3,160.2 422.4,161.2 422.6,160.9 422.7,162.4 422.9,161.3 423.0,161.0 423.2,156.6 423.3,160.4 423.5,162.6 423.6,161.1 423.8,159.9 423.9,162.4 424.1,159.1 424.2,159.7 424.4,161.0 424.5,158.5 424.7,159.5 424.8,158.7 425.0,156.8 425.1,158.1 425.3,158.3 425.4,158.1 425.6,161.5 425.7,159.9 425.9,159.0 426.0,157.5 426.2,158.2 426.3,159.8 426.5,157.7 426.6,159.8 426.8,159.2 426.9,158.2 427.1,158.0 427.2,160.4 427.4,156.5 427.5,160.1 427.7,157.3 427.8,161.0 428.0,159.5 428.1,160.4 428.3,162.3 428.4,158.6 428.6,159.9 428.7,158.9 428.9,160.1 429.0,160.6 429.2,160.2 429.3,160.4 429.5,159.6 429.6,159.5 429.8,156.1 429.9,158.2 430.1,159.8 430.2,157.0 430.4,157.0 430.5,158.8 430.6,158.2 430.8,160.3 430.9,154.5 431.1,159.0 431.2,160.7 431.4,159.3 431.5,160.6 431.7,159.5 431.8,159.3 432.0,160.8 432.1,157.1 432.3,155.3 432.4,159.4 432.6,158.7 432.7,158.8 432.9,159.4 433.0,160.4 433.2,158.7 433.3,160.0 433.5,159.9 433.6,157.7 433.8,159.1 433.9,159.7 434.1,157.7 434.2,160.2 434.4,157.7 434.5,159.4 434.7,160.8 434.8,156.6 435.0,157.2 435.1,160.2 435.3,158.8 435.4,159.7 435.6,161.7 435.7,158.4 435.9,160.7 436.0,159.0 436.2,158.3 436.3,159.9 436.5,159.5 436.6,160.9 436.8,159.4 436.9,159.9 437.1,159.5 437.2,154.6 437.4,155.0 437.5,156.6 437.7,160.1 437.8,156.9 438.0,159.1 438.1,158.6 438.3,157.0 438.4,160.2 438.6,161.9 438.7,160.4 438.8,162.2 439.0,161.0 439.1,160.6 439.3,159.0 439.4,159.2 439.6,160.0 439.7,159.2 439.9,157.3 440.0,158.8 440.2,159.4 440.3,160.5 440.5,160.3 440.6,158.2 440.8,161.3 440.9,158.0 441.1,159.5 441.2,159.1 441.4,162.5 441.5,160.9 441.7,160.1 441.8,158.7 442.0,161.7 442.1,159.7 442.3,161.1 442.4,162.3 442.6,160.4 442.7,161.7 442.9,157.3 443.0,160.6 443.2,156.4 443.3,159.2 443.5,158.8 443.6,158.9 443.8,161.6 443.9,153.2 444.1,157.1 444.2,154.2 444.4,154.6 444.5,152.5 444.7,151.6 444.8,151.2 445.0,152.5 445.1,156.0 445.3,153.8 445.4,158.7 445.6,156.5 445.7,158.6 445.9,156.5 446.0,158.5 446.2,156.7 446.3,159.5 446.5,161.1 446.6,158.2 446.8,159.7 446.9,160.5 447.1,162.7 447.2,158.7 447.3,161.3 447.5,159.9 447.6,156.4 447.8,156.1 447.9,156.8 448.1,160.7 448.2,157.6 448.4,160.6 448.5,158.4 448.7,160.3 448.8,156.9 449.0,158.6 449.1,160.1 449.3,158.6 449.4,157.6 449.6,159.9 449.7,160.9 449.9,159.7 450.0,159.2 450.2,160.0 450.3,158.6 450.5,160.5 450.6,160.8 450.8,157.5 450.9,161.5 451.1,161.4 451.2,161.0 451.4,161.5 451.5,162.4 451.7,162.9 451.8,162.2 452.0,159.2 452.1,161.5 452.3,157.0 452.4,160.8 452.6,160.5 452.7,160.7 452.9,157.7 453.0,160.9 453.2,160.6 453.3,159.2 453.5,157.0 453.6,159.9 453.8,158.3 453.9,157.3 454.1,158.8 454.2,163.7 454.4,158.3 454.5,160.1 454.7,161.0 454.8,162.0 455.0,158.9 455.1,158.6 455.3,161.1 455.4,160.0 455.5,161.2 455.7,157.6 455.8,159.0 456.0,160.1 456.1,158.3 456.3,155.8 456.4,157.2 456.6,153.2 456.7,154.3 456.9,156.1 457.0,155.5 457.2,153.6 457.3,153.0 457.5,147.5 457.6,147.2 457.8,148.2 457.9,148.8 458.1,141.8 458.2,134.3 458.4,129.7 458.5,132.0 458.7,129.6 458.8,123.0 459.0,129.1 459.1,136.2 459.3,139.3 459.4,137.9 459.6,143.5 459.7,148.8 459.9,147.5 460.0,147.8 460.2,150.5 460.3,154.0 460.5,154.0 460.6,153.5 460.8,151.5 460.9,152.9 461.1,156.8 461.2,158.7 461.4,159.8 461.5,157.4 461.7,159.1 461.8,156.0 462.0,155.6 462.1,159.0 462.3,157.5 462.4,158.1 462.6,156.5 462.7,160.8 462.9,156.7 463.0,159.5 463.2,157.6 463.3,159.3 463.5,161.4 463.6,159.2 463.7,159.2 463.9,160.5 464.0,159.7 464.2,160.7 464.3,156.3 464.5,160.3 464.6,158.3 464.8,156.7 464.9,159.1 465.1,159.0 465.2,158.3 465.4,159.5 465.5,156.1 465.7,155.2 465.8,156.2 466.0,158.3 466.1,157.2 466.3,156.3 466.4,155.6 466.6,156.8 466.7,158.6 466.9,156.0 467.0,155.8 467.2,157.2 467.3,157.3 467.5,156.1 467.6,158.0 467.8,155.7 467.9,153.3 468.1,150.8 468.2,155.9 468.4,152.8 468.5,152.8 468.7,152.2 468.8,153.0 469.0,151.4 469.1,150.1 469.3,147.2 469.4,144.5 469.6,143.4 469.7,138.6 469.9,139.1 470.0,137.9 470.2,133.1 470.3,127.2 470.5,120.3 470.6,117.8 470.8,118.0 470.9,120.5 471.1,125.7 471.2,128.6 471.4,131.2 471.5,134.4 471.7,130.5 471.8,133.2 472.0,135.0 472.1,134.8 472.2,129.6 472.4,127.4 472.5,130.6 472.7,129.0 472.8,129.0 473.0,128.3 473.1,128.8 473.3,133.2 473.4,136.0 473.6,139.6 473.7,143.1 473.9,143.0 474.0,146.5 474.2,143.8 474.3,145.6 474.5,145.3 474.6,142.1 474.8,143.6 474.9,145.4 475.1,147.3 475.2,148.0 475.4,149.8 475.5,147.2 475.7,146.4 475.8,146.7 476.0,142.8 476.1,145.2 476.3,144.0 476.4,145.6 476.6,143.2 476.7,142.9 476.9,146.9 477.0,144.5 477.2,147.2 477.3,141.1 477.5,138.5 477.6,134.6 477.8,133.7 477.9,125.6 478.1,126.6 478.2,120.1 478.4,113.0 478.5,107.4 478.7,108.2 478.8,109.7 479.0,113.0 479.1,111.4 479.3,121.4 479.4,127.4 479.6,137.1 479.7,136.2 479.9,140.8 480.0,139.6 480.2,143.3 480.3,143.6 480.4,145.2 480.6,149.5 480.7,149.7 480.9,154.1 481.0,152.7 481.2,154.5 481.3,152.4 481.5,153.3 481.6,156.2 481.8,154.3 481.9,157.5 482.1,154.5 482.2,154.8 482.4,159.4 482.5,154.6 482.7,156.7 482.8,158.5 483.0,158.7 483.1,156.3 483.3,160.9 483.4,157.1 483.6,155.1 483.7,159.5 483.9,157.9 484.0,158.5 484.2,159.2 484.3,156.7 484.5,157.5 484.6,159.0 484.8,160.6 484.9,157.6 485.1,161.3 485.2,159.9 485.4,158.1 485.5,159.9 485.7,160.7 485.8,161.6 486.0,160.7 486.1,160.6 486.3,159.1 486.4,160.6 486.6,156.0 486.7,160.9 486.9,159.3 487.0,161.5 487.2,158.7 487.3,159.1 487.5,160.1 487.6,161.2 487.8,159.8 487.9,160.0 488.1,159.3 488.2,161.2 488.4,163.5 488.5,162.0 488.6,161.4 488.8,158.9 488.9,161.7 489.1,162.2 489.2,160.2 489.4,161.5 489.5,156.9 489.7,158.8 489.8,158.5 490.0,160.5 490.1,158.8 490.3,158.6 490.4,161.9 490.6,158.1 490.7,160.9 490.9,161.9 491.0,160.3 491.2,159.6 491.3,160.6 491.5,160.1 491.6,160.0 491.8,161.5 491.9,161.3 492.1,164.6 492.2,162.6 492.4,160.8 492.5,161.2 492.7,162.7 492.8,162.2 493.0,160.7 493.1,159.5 493.3,162.6 493.4,160.0 493.6,160.1 493.7,161.3 493.9,159.4 494.0,160.7 494.2,158.7 494.3,159.6 494.5,159.1 494.6,162.2 494.8,157.5 494.9,159.2 495.1,158.2 495.2,158.5 495.4,158.1 495.5,159.1 495.7,162.1 495.8,162.5 496.0,159.6 496.1,158.7 496.3,159.5 496.4,162.1 496.6,159.8 496.7,157.1 496.8,161.0 497.0,159.8 497.1,161.3 497.3,161.4 497.4,159.2 497.6,162.1 497.7,161.5 497.9,159.7 498.0,157.6 498.2,159.2 498.3,159.3 498.5,161.6 498.6,159.7 498.8,159.5 498.9,159.9 499.1,159.2 499.2,160.2 499.4,159.8 499.5,159.7 499.7,156.1 499.8,157.8 500.0,156.9 500.1,161.5 500.3,161.8 500.4,159.2 500.6,161.0 500.7,156.8 500.9,157.0 501.0,157.4 501.2,157.5 501.3,155.0 501.5,156.6 501.6,158.6 501.8,154.8 501.9,155.4 502.1,154.7 502.2,159.2 502.4,156.4 502.5,157.7 502.7,157.9 502.8,159.7 503.0,159.5 503.1,160.3 503.3,160.4 503.4,162.6 503.6,159.6 503.7,161.1 503.9,160.7 504.0,159.5 504.2,161.6 504.3,162.6 504.5,158.5 504.6,162.5 504.8,158.3 504.9,158.3 505.1,156.0 505.2,160.1 505.3,160.0 505.5,159.6 505.6,160.8 505.8,160.1 505.9,160.9 506.1,159.7 506.2,159.2 506.4,161.0 506.5,161.9 506.7,162.1 506.8,161.1 507.0,159.7 507.1,160.5 507.3,160.0 507.4,158.5 507.6,160.4 507.7,159.4 507.9,157.9 508.0,159.1 508.2,160.2 508.3,160.9 508.5,155.1 508.6,155.9 508.8,155.9 508.9,155.6 509.1,153.1 509.2,149.6 509.4,150.0 509.5,151.1 509.7,150.7 509.8,151.7 510.0,152.9 510.1,160.3 510.3,157.6 510.4,158.0 510.6,159.7 510.7,158.9 510.9,158.6 511.0,159.2 511.2,158.2 511.3,158.9 511.5,160.8 511.6,160.4 511.8,157.5 511.9,160.1 512.1,158.8 512.2,158.6 512.4,162.1 512.5,162.4 512.7,162.0 512.8,160.3 513.0,163.0 513.1,162.3 513.3,162.2 513.4,162.1 513.5,162.3 513.7,164.6 513.8,161.2 514.0,162.1 514.1,163.0 514.3,162.5 514.4,160.3 514.6,161.0 514.7,160.5 514.9,159.0 515.0,160.6 515.2,162.0 515.3,161.1 515.5,162.0 515.6,160.9 515.8,159.1 515.9,160.4 516.1,157.2 516.2,161.0 516.4,157.9 516.5,159.8 516.7,155.9 516.8,156.5 517.0,156.8 517.1,156.9 517.3,155.2 517.4,156.1 517.6,159.1 517.7,157.8 517.9,160.6 518.0,162.1 518.2,158.3 518.3,159.7 518.5,162.3 518.6,161.2 518.8,158.1 518.9,160.7 519.1,162.7 519.2,157.8 519.4,160.9 519.5,161.9 519.7,160.3 519.8,160.7 520.0,163.0 520.1,160.3 520.3,163.0 520.4,163.9 520.6,162.5 520.7,160.4 520.9,164.0 521.0,161.8 521.2,162.6 521.3,160.9 521.5,162.1 521.6,163.1 521.7,159.1 521.9,159.4 522.0,158.7 522.2,162.0 522.3,162.4 522.5,160.8 522.6,161.9 522.8,161.5 522.9,163.8 523.1,159.5 523.2,160.9 523.4,159.9 523.5,162.7 523.7,161.1 523.8,159.2 524.0,161.4 524.1,160.8 524.3,159.7 524.4,161.3 524.6,161.1 524.7,159.9 524.9,161.1 525.0,163.2 525.2,163.0 525.3,161.7 525.5,161.5 525.6,162.4 525.8,161.9 525.9,160.5 526.1,162.7 526.2,160.4 526.4,162.7 526.5,161.9 526.7,162.5 526.8,160.8 527.0,160.9 527.1,160.3 527.3,160.7 527.4,159.7 527.6,162.6 527.7,159.6 527.9,163.3 528.0,162.1 528.2,160.0 528.3,162.7 528.5,161.7 528.6,160.6 528.8,162.3 528.9,162.1 529.1,161.9 529.2,163.0 529.4,163.5 529.5,162.7 529.7,162.6 529.8,163.1 529.9,161.5 530.1,161.0 530.2,160.0 530.4,161.5 530.5,161.0 530.7,161.3 530.8,162.1 531.0,161.8 531.1,161.4 531.3,161.0 531.4,161.5 531.6,161.1 531.7,160.5 531.9,158.1 532.0,160.2 532.2,158.3 532.3,159.6 532.5,159.1 532.6,158.0 532.8,158.6 532.9,155.8 533.1,155.1 533.2,151.5 533.4,150.5 533.5,147.2 533.7,144.0 533.8,139.6 534.0,131.3 534.1,137.4 534.3,137.9 534.4,134.5 534.6,143.8 534.7,149.2 534.9,151.9 535.0,154.1 535.2,154.2 535.3,154.8 535.5,158.6 535.6,156.2 535.8,159.3 535.9,158.8 536.1,161.0 536.2,161.2 536.4,161.6 536.5,159.6 536.7,164.5 536.8,162.2 537.0,161.4 537.1,162.1 537.3,159.6 537.4,163.4 537.6,161.2 537.7,161.9 537.9,161.7 538.0,159.2 538.2,160.8 538.3,162.8 538.4,160.5 538.6,162.1 538.7,163.3 538.9,164.2 539.0,161.1 539.2,163.1 539.3,162.1 539.5,161.3 539.6,161.1 539.8,160.0 539.9,156.9 540.1,158.6 540.2,157.2 540.4,158.9 540.5,158.5 540.7,161.6 540.8,161.4 541.0,161.2 541.1,160.1 541.3,161.7 541.4,160.1 541.6,160.7 541.7,160.2 541.9,163.6 542.0,162.2 542.2,163.9 542.3,164.0 542.5,163.7 542.6,161.8 542.8,163.9 542.9,163.4 543.1,160.5 543.2,162.5 543.4,161.4 543.5,162.5 543.7,164.0 543.8,162.6 544.0,163.7 544.1,162.3 544.3,162.5 544.4,163.6 544.6,163.1 544.7,163.3 544.9,164.7 545.0,164.8 545.2,161.9 545.3,162.1 545.5,163.0 545.6,163.8 545.8,161.5 545.9,160.5 546.1,162.8 546.2,162.5 546.4,164.9 546.5,160.1 546.6,163.2 546.8,162.4 546.9,157.8 547.1,159.2 547.2,159.9 547.4,160.8 547.5,160.7 547.7,161.9 547.8,161.7 548.0,160.5 548.1,163.3 548.3,160.9 548.4,158.6 548.6,159.5 548.7,157.8 548.9,156.8 549.0,156.0 549.2,154.1 549.3,154.0 549.5,152.0 549.6,149.0 549.8,151.8 549.9,150.7 550.1,150.2 550.2,150.0 550.4,152.2 550.5,157.4 550.7,155.6 550.8,159.6 551.0,159.9 551.1,160.6 551.3,159.5 551.4,160.2 551.6,160.8 551.7,159.9 551.9,163.2 552.0,160.6 552.2,161.7 552.3,163.6 552.5,163.5 552.6,161.6 552.8,163.6 552.9,164.6 553.1,161.1 553.2,165.6 553.4,163.3 553.5,161.9 553.7,161.8 553.8,159.0 554.0,162.5 554.1,163.5 554.3,161.1 554.4,163.0 554.6,160.7 554.7,156.3 554.8,157.6 555.0,153.0 555.1,153.3 555.3,157.7 555.4,158.6 555.6,158.7 555.7,159.7 555.9,158.6 556.0,162.3 556.2,161.3 556.3,161.5 556.5,165.3 556.6,163.1 556.8,162.7 556.9,164.9 557.1,163.3 557.2,162.7 557.4,164.9 557.5,162.9 557.7,162.0 557.8,162.3 558.0,162.4 558.1,163.2 558.3,163.5 558.4,160.8 558.6,164.1 558.7,162.6 558.9,163.3 559.0,161.0 559.2,165.7 559.3,164.2 559.5,163.1 559.6,163.1 559.8,164.4 559.9,163.3 560.1,160.1 560.2,162.9 560.4,161.9 560.5,162.8 560.7,163.4 560.8,164.7 561.0,163.2 561.1,165.6 561.3,162.0 561.4,161.8 561.6,163.6 561.7,161.2 561.9,162.8 562.0,162.0 562.2,161.2 562.3,162.9 562.5,163.1 562.6,162.5 562.8,163.0 562.9,164.0 563.1,166.0 563.2,162.8 563.3,162.5 563.5,163.2 563.6,161.4 563.8,163.0 563.9,164.1 564.1,163.7 564.2,163.3 564.4,161.1 564.5,162.2 564.7,163.7 564.8,164.7 565.0,162.4 565.1,159.9 565.3,159.6 565.4,159.6 565.6,162.2 565.7,156.4 565.9,156.5 566.0,153.2 566.2,154.7 566.3,155.6 566.5,158.9 566.6,160.5 566.8,161.2 566.9,161.5 567.1,161.9 567.2,164.8 567.4,163.1 567.5,162.4 567.7,163.2 567.8,164.3 568.0,162.5 568.1,160.7 568.3,164.0 568.4,162.5 568.6,163.0 568.7,163.2 568.9,162.6 569.0,162.6 569.2,159.8 569.3,162.9 569.5,162.7 569.6,162.7 569.8,163.5 569.9,166.6 570.1,166.4 570.2,165.4 570.4,166.3 570.5,163.7 570.7,163.7 570.8,163.8 571.0,163.9 571.1,163.6 571.3,164.7 571.4,162.7 571.5,165.0 571.7,163.2 571.8,164.9 572.0,163.1 572.1,165.3 572.3,162.8 572.4,164.8 572.6,161.1 572.7,165.7 572.9,163.5 573.0,163.4 573.2,162.5 573.3,160.2 573.5,161.5 573.6,161.0 573.8,161.1 573.9,158.6 574.1,159.1 574.2,159.3 574.4,160.3 574.5,159.5 574.7,156.9 574.8,160.3 575.0,161.9 575.1,161.4 575.3,160.5 575.4,160.5 575.6,161.7 575.7,164.8 575.9,161.9 576.0,160.2 576.2,164.3 576.3,162.5 576.5,163.5 576.6,163.6 576.8,165.8 576.9,164.2 577.1,163.7 577.2,163.2 577.4,165.8 577.5,165.4 577.7,163.4 577.8,163.4 578.0,163.9 578.1,164.7 578.3,163.1 578.4,165.8 578.6,164.4 578.7,160.9 578.9,162.5 579.0,163.0 579.2,165.9 579.3,164.7 579.5,162.7 579.6,161.0 579.7,162.8 579.9,163.5 580.0,162.9 580.2,163.6 580.3,164.3 580.5,162.6 580.6,161.6 580.8,162.9 580.9,160.6 581.1,162.3 581.2,164.9 581.4,164.0 581.5,162.9 581.7,164.2 581.8,163.7 582.0,164.8 582.1,166.3 582.3,164.2 582.4,163.0 582.6,165.8 582.7,161.7 582.9,162.2 583.0,163.1 583.2,163.2 583.3,163.9 583.5,163.4 583.6,163.2 583.8,163.9 583.9,162.3 584.1,163.9 584.2,161.4 584.4,163.0 584.5,163.0 584.7,160.5 584.8,163.8 585.0,161.3 585.1,162.7 585.3,162.6 585.4,163.8 585.6,164.6 585.7,164.1 585.9,166.1 586.0,164.2 586.2,165.3 586.3,163.1 586.5,162.3 586.6,162.8 586.8,162.7 586.9,161.6 587.1,162.3 587.2,162.3 587.4,160.9 587.5,161.6 587.7,159.8 587.8,158.1 587.9,157.8 588.1,157.3 588.2,159.4 588.4,159.0 588.5,159.2 588.7,157.1 588.8,159.6 589.0,161.8 589.1,162.1 589.3,161.5 589.4,160.4 589.6,159.9 589.7,160.5 589.9,162.9 590.0,163.4 590.2,165.3 590.3,162.6 590.5,163.7 590.6,162.1 590.8,162.5 590.9,163.4 591.1,163.2 591.2,165.6 591.4,162.7 591.5,164.6 591.7,163.1 591.8,162.6 592.0,164.4 592.1,163.0 592.3,164.5 592.4,164.7 592.6,166.0 592.7,164.0 592.9,165.6 593.0,165.5 593.2,163.8 593.3,163.0 593.5,162.7 593.6,163.6 593.8,162.6 593.9,164.0 594.1,163.0 594.2,162.7 594.4,163.7 594.5,164.3 594.7,164.2 594.8,164.5 595.0,165.1 595.1,164.3 595.3,164.5 595.4,165.5 595.6,165.4 595.7,163.8 595.9,162.3 596.0,164.4 596.2,161.4 596.3,160.7 596.4,161.0 596.6,161.8 596.7,159.4 596.9,161.6 597.0,163.9 597.2,166.0 597.3,164.2 597.5,164.9 597.6,165.1 597.8,163.3 597.9,162.5 598.1,163.5 598.2,163.7 598.4,162.0 598.5,161.0 598.7,159.5 598.8,160.5 599.0,161.1 599.1,163.2 599.3,162.8 599.4,161.2 599.6,161.2 599.7,160.7 599.9,160.7 600.0,162.0 600.2,162.4 600.3,161.0 600.5,162.1 600.6,161.9 600.8,163.3 600.9,163.4 601.1,160.0 601.2,162.2 601.4,163.9 601.5,160.8 601.7,163.9 601.8,163.0 602.0,161.9 602.1,162.2 602.3,165.7 602.4,163.6 602.6,162.6 602.7,163.4 602.9,161.0 603.0,161.5 603.2,164.9 603.3,162.5 603.5,163.2 603.6,162.0 603.8,163.3 603.9,165.6 604.1,164.8 604.2,165.4 604.4,164.9 604.5,163.7 604.6,163.3 604.8,161.6 604.9,165.3 605.1,164.1 605.2,166.7 605.4,163.3 605.5,163.0 605.7,162.3 605.8,161.2 606.0,162.6 606.1,162.8 606.3,162.2 606.4,160.7 606.6,159.8 606.7,163.0 606.9,163.3 607.0,161.2 607.2,160.7 607.3,161.8 607.5,161.9 607.6,164.2 607.8,162.9 607.9,165.1 608.1,163.7 608.2,164.6 608.4,167.1 608.5,163.0 608.7,164.2 608.8,162.8 609.0,164.3 609.1,164.4 609.3,164.8 609.4,166.3 609.6,165.3 609.7,164.7 609.9,162.1 610.0,162.1 610.2,164.6 610.3,161.7 610.5,165.1 610.6,165.4 610.8,162.7 610.9,161.2 611.1,161.8 611.2,165.1 611.4,164.7 611.5,163.1 611.7,162.3 611.8,163.5 612.0,162.6 612.1,163.6 612.3,162.2 612.4,164.6 612.6,163.4 612.7,161.6 612.8,161.2 613.0,163.1 613.1,164.0 613.3,164.9 613.4,165.4 613.6,164.7 613.7,166.0 613.9,165.8 614.0,163.1 614.2,162.5 614.3,165.9 614.5,164.7 614.6,162.2 614.8,165.0 614.9,164.5 615.1,163.7 615.2,163.6 615.4,161.4 615.5,162.8 615.7,163.2 615.8,166.3 616.0,163.9 616.1,163.9 616.3,163.3 616.4,159.5 616.6,162.3 616.7,161.1 616.9,164.0 617.0,161.9 617.2,164.1 617.3,164.3 617.5,163.6 617.6,165.4 617.8,165.8 617.9,164.5 618.1,162.1 618.2,158.8 618.4,164.0 618.5,164.5 618.7,163.8 618.8,161.0 619.0,164.4 619.1,163.0 619.3,163.8 619.4,164.5 619.6,165.7 619.7,164.4 619.9,164.0 620.0,165.2 620.2,164.3 620.3,162.8 620.5,165.6 620.6,164.4 620.8,161.3 620.9,160.8 621.1,161.7 621.2,164.2 621.3,165.5 621.5,166.8 621.6,164.7 621.8,163.5 621.9,164.1 622.1,163.8 622.2,162.4 622.4,163.5 622.5,161.4 622.7,163.6 622.8,165.0 623.0,164.4 623.1,165.2 623.3,165.5 623.4,164.8 623.6,164.7 623.7,164.6 623.9,163.7 624.0,165.3 624.2,164.6 624.3,163.4 624.5,165.7 624.6,164.7 624.8,161.8 624.9,166.5 625.1,163.6 625.2,161.5 625.4,163.7 625.5,164.0 625.7,164.2 625.8,166.4 626.0,165.9 626.1,164.4 626.3,163.8 626.4,162.9 626.6,164.5 626.7,163.9 626.9,165.0 627.0,164.1 627.2,164.8 627.3,165.7 627.5,163.7 627.6,163.1 627.8,164.0 627.9,162.2 628.1,163.4 628.2,163.4 628.4,165.6 628.5,163.8 628.7,165.6 628.8,164.0 629.0,164.6 629.1,164.3 629.3,165.0 629.4,164.6 629.5,163.8 629.7,163.4 629.8,166.2 630.0,165.6 630.1,166.8 630.3,166.3 630.4,162.9 630.6,165.7 630.7,162.7 630.9,161.3 631.0,161.8 631.2,162.8 631.3,161.1 631.5,164.8 631.6,163.7 631.8,164.3 631.9,164.2 632.1,164.3 632.2,164.8 632.4,163.9 632.5,161.2 632.7,165.5 632.8,164.1 633.0,164.6 633.1,165.2 633.3,163.3 633.4,163.1 633.6,161.4 633.7,164.3 633.9,164.6 634.0,163.4 634.2,163.0 634.3,160.8 634.5,164.3 634.6,163.2 634.8,164.0 634.9,163.6 635.1,162.9 635.2,163.7 635.4,164.4 635.5,164.0 635.7,162.6 635.8,163.9 636.0,163.7 636.1,162.7 636.3,163.4 636.4,164.8 636.6,164.9 636.7,164.8 636.9,165.1 637.0,162.4 637.2,164.9 637.3,166.5 637.5,164.5 637.6,164.5 637.7,164.0 637.9,165.0 638.0,164.5 638.2,163.2 638.3,164.0 638.5,163.8 638.6,164.5 638.8,165.1 638.9,164.2 639.1,165.7 639.2,165.2 639.4,165.2 639.5,164.7 639.7,164.9 639.8,163.5 640.0,162.2 640.1,164.4 640.3,161.9 640.4,163.2 640.6,163.3 640.7,163.2 640.9,161.6 641.0,160.3 641.2,160.7 641.3,164.7 641.5,163.5 641.6,164.8 641.8,164.3 641.9,166.5 642.1,164.3 642.2,163.8 642.4,165.7 642.5,163.5 642.7,163.9 642.8,161.4 643.0,163.2 643.1,163.2 643.3,163.2 643.4,164.9 643.6,166.0 643.7,165.1 643.9,164.7 644.0,164.9 644.2,162.9 644.3,162.8 644.5,164.2 644.6,166.0 644.8,163.7 644.9,162.7 645.1,164.4 645.2,165.8 645.4,165.6 645.5,165.2 645.7,164.4 645.8,165.1 645.9,163.6 646.1,165.1 646.2,165.2 646.4,164.8 646.5,166.3 646.7,167.0 646.8,163.6 647.0,164.4 647.1,163.7 647.3,163.1 647.4,163.7 647.6,164.6 647.7,165.2 647.9,165.0 648.0,161.6 648.2,164.2 648.3,162.6 648.5,164.4 648.6,163.0 648.8,165.2 648.9,166.1 649.1,166.1 649.2,163.5 649.4,163.9 649.5,163.6 649.7,164.1 649.8,165.8 650.0,161.7 650.1,162.7 650.3,163.1 650.4,162.3 650.6,161.6 650.7,164.2 650.9,163.1 651.0,162.9 651.2,162.0 651.3,163.5 651.5,165.1 651.6,164.3 651.8,166.1 651.9,164.5 652.1,163.6 652.2,164.2 652.4,162.9 652.5,162.2 652.7,164.4 652.8,164.8 653.0,165.6 653.1,160.5 653.3,162.9 653.4,164.1 653.6,164.9 653.7,165.4 653.9,165.6 654.0,165.5 654.2,165.5 654.3,164.4 654.4,166.5 654.6,164.2 654.7,165.2 654.9,163.5 655.0,163.8 655.2,163.4 655.3,163.5 655.5,164.7 655.6,161.4 655.8,164.6 655.9,162.7 656.1,166.2 656.2,162.2 656.4,162.6 656.5,163.8 656.7,161.8 656.8,163.6 657.0,164.1 657.1,164.8 657.3,163.8 657.4,162.3 657.6,160.9 657.7,162.3 657.9,162.4 658.0,162.4 658.2,164.1 658.3,163.3 658.5,160.9 658.6,161.8 658.8,164.3 658.9,164.5 659.1,164.5 659.2,164.0 659.4,165.3 659.5,162.8 659.7,163.0 659.8,165.6 660.0,162.9 660.1,166.7 660.3,164.9 660.4,165.7 660.6,164.4 660.7,162.4 660.9,164.7 661.0,163.3 661.2,163.8 661.3,164.3 661.5,164.1 661.6,164.3 661.8,165.1 661.9,162.8 662.1,166.6 662.2,162.1 662.4,163.0 662.5,162.7 662.6,161.8 662.8,163.2 662.9,162.0 663.1,162.0 663.2,164.5 663.4,162.9 663.5,167.8 663.7,163.6 663.8,165.6 664.0,164.7 664.1,164.8 664.3,160.9 664.4,160.8 664.6,163.8 664.7,164.5 664.9,164.9 665.0,163.8 665.2,164.9 665.3,164.7 665.5,163.7 665.6,166.8 665.8,164.6 665.9,163.9 666.1,164.7 666.2,163.7 666.4,164.5 666.5,163.2 666.7,163.2 666.8,163.7 667.0,165.9 667.1,164.8 667.3,167.2 667.4,166.9 667.6,164.0 667.7,163.6 667.9,165.3 668.0,163.6 668.2,163.7 668.3,166.2 668.5,165.5 668.6,164.7 668.8,162.1 668.9,164.7 669.1,162.9 669.2,165.2 669.4,165.5 669.5,167.2 669.7,163.7 669.8,165.5 670.0,165.7 670.1,165.7 670.3,165.6 670.4,166.3 670.6,165.5 670.7,164.3 670.8,164.4 671.0,165.8 671.1,163.9 671.3,161.9 671.4,162.3 671.6,162.8 671.7,162.8 671.9,164.5 672.0,164.3 672.2,161.9 672.3,162.7 672.5,164.3 672.6,164.1 672.8,163.4 672.9,166.2 673.1,163.3 673.2,166.2 673.4,165.5 673.5,162.9 673.7,163.7 673.8,164.6 674.0,162.9 674.1,162.9 674.3,162.9"/>
<polyline fill="none" stroke="#ff0000" stroke-width="0.8" stroke-linejoin="round" points="354.8,167.6 354.9,168.6 355.0,166.6 355.1,164.6 355.2,166.1 355.3,164.7 355.4,169.7 355.5,175.2 355.7,169.2 355.8,168.6 355.9,172.1 356.0,171.3 356.1,170.3 356.2,166.7 356.3,169.8 356.4,172.5 356.5,165.9 356.6,169.3 356.7,164.9 356.8,167.4 356.9,165.8 357.0,171.4 357.1,167.9 357.2,173.1 357.4,172.8 357.5,171.1 357.6,163.0 357.7,170.7 357.8,173.4 357.9,173.9 358.0,168.2 358.1,171.5 358.2,170.1 358.3,171.0 358.4,177.5 358.5,171.6 358.6,174.5 358.7,177.8 358.8,173.3 359.0,175.2 359.1,176.2 359.2,176.1 359.3,172.0 359.4,176.2 359.5,180.4 359.6,170.9 359.7,178.6 359.8,176.3 359.9,174.0 360.0,182.6 360.1,178.6 360.2,172.2 360.3,176.0 360.4,177.0 360.6,174.4 360.7,178.3 360.8,177.1 360.9,180.1 361.0,182.8 361.1,176.1 361.2,178.8 361.3,176.7 361.4,178.6 361.5,174.7 361.6,177.0 361.7,178.7 361.8,182.5 361.9,183.5 362.0,175.8 362.1,177.6 362.3,182.3 362.4,174.2 362.5,179.1 362.6,180.3 362.7,184.5 362.8,182.9 362.9,180.1 363.0,180.3 363.1,181.1 363.2,186.9 363.3,181.2 363.4,181.8 363.5,183.9 363.6,182.6 363.7,182.2 363.9,179.0 364.0,181.9 364.1,180.3 364.2,185.2 364.3,183.9 364.4,182.1 364.5,184.1 364.6,180.9 364.7,185.1 364.8,182.3 364.9,184.9 365.0,180.2 365.1,186.0 365.2,180.1 365.3,177.2 365.5,180.0 365.6,178.8 365.7,183.2 365.8,189.8 365.9,181.5 366.0,183.0 366.1,186.0 366.2,187.2 366.3,185.3 366.4,185.0 366.5,187.3 366.6,186.7 366.7,182.3 366.8,185.5 366.9,186.3 367.0,183.4 367.2,187.3 367.3,183.8 367.4,189.0 367.5,186.8 367.6,186.7 367.7,184.9 367.8,186.5 367.9,181.3 368.0,183.9 368.1,188.3 368.2,181.1 368.3,189.7 368.4,182.4 368.5,189.7 368.6,185.1 368.8,189.8 368.9,187.8 369.0,183.1 369.1,191.2 369.2,192.0 369.3,187.7 369.4,187.0 369.5,187.1 369.6,184.7 369.7,190.6 369.8,186.3 369.9,188.1 370.0,186.4 370.1,187.2 370.2,185.5 370.3,192.8 370.5,188.9 370.6,192.1 370.7,189.6 370.8,187.7 370.9,188.8 371.0,188.1 371.1,189.7 371.2,188.8 371.3,189.3 371.4,186.6 371.5,188.6 371.6,195.9 371.7,189.7 371.8,188.5 371.9,192.0 372.1,194.5 372.2,186.4 372.3,190.0 372.4,189.2 372.5,186.4 372.6,193.3 372.7,191.2 372.8,191.5 372.9,189.2 373.0,192.6 373.1,189.9 373.2,191.3 373.3,189.3 373.4,189.7 373.5,197.2 373.7,192.5 373.8,194.8 373.9,194.1 374.0,193.2 374.1,192.7 374.2,195.2 374.3,192.7 374.4,193.2 374.5,193.5 374.6,196.3 374.7,194.6 374.8,193.3 374.9,190.4 375.0,188.2 375.1,194.6 375.2,195.1 375.4,192.6 375.5,195.0 375.6,196.2 375.7,197.0 375.8,197.7 375.9,194.4 376.0,199.5 376.1,192.1 376.2,197.6 376.3,196.6 376.4,197.5 376.5,199.9 376.6,198.5 376.7,191.3 376.8,189.6 377.0,196.1 377.1,191.4 377.2,194.2 377.3,196.7 377.4,190.5 377.5,189.5 377.6,195.5 377.7,194.8 377.8,194.1 377.9,195.1 378.0,193.2 378.1,191.9 378.2,195.7 378.3,193.8 378.4,192.2 378.5,197.9 378.7,196.6 378.8,198.0 378.9,194.6 379.0,195.5 379.1,194.7 379.2,195.2 379.3,198.1 379.4,195.9 379.5,198.9 379.6,198.9 379.7,203.1 379.8,193.2 379.9,197.5 380.0,195.9 380.1,197.1 380.3,193.5 380.4,196.0 380.5,199.1 380.6,197.2 380.7,197.9 380.8,197.3 380.9,201.0 381.0,198.0 381.1,192.5 381.2,196.3 381.3,192.9 381.4,190.9 381.5,195.8 381.6,200.5 381.7,197.4 381.9,193.9 382.0,194.1 382.1,200.3 382.2,198.9 382.3,199.0 382.4,198.5 382.5,198.6 382.6,201.3 382.7,201.4 382.8,200.5 382.9,197.3 383.0,200.9 383.1,197.7 383.2,201.9 383.3,196.0 383.4,198.9 383.6,199.3 383.7,196.1 383.8,203.3 383.9,202.3 384.0,197.4 384.1,200.4 384.2,199.8 384.3,193.1 384.4,200.4 384.5,200.1 384.6,200.5 384.7,197.8 384.8,199.6 384.9,199.7 385.0,203.0 385.2,201.1 385.3,200.5 385.4,204.1 385.5,199.0 385.6,199.3 385.7,195.9 385.8,204.1 385.9,202.7 386.0,202.7 386.1,202.4 386.2,201.5 386.3,201.9 386.4,200.8 386.5,200.9 386.6,201.3 386.8,204.6 386.9,202.2 387.0,200.9 387.1,200.0 387.2,200.4 387.3,206.1 387.4,203.8 387.5,202.8 387.6,201.9 387.7,200.1 387.8,202.6 387.9,204.9 388.0,202.2 388.1,202.5 388.2,202.2 388.3,202.6 388.5,198.3 388.6,201.1 388.7,199.4 388.8,203.6 388.9,200.4 389.0,204.2 389.1,206.9 389.2,203.0 389.3,202.3 389.4,203.9 389.5,203.1 389.6,200.6 389.7,203.8 389.8,207.3 389.9,202.1 390.1,202.1 390.2,200.1 390.3,203.1 390.4,199.6 390.5,199.8 390.6,205.1 390.7,200.2 390.8,204.8 390.9,205.9 391.0,202.4 391.1,202.8 391.2,206.9 391.3,202.8 391.4,201.8 391.5,200.2 391.6,203.4 391.8,206.6 391.9,205.6 392.0,201.5 392.1,202.0 392.2,203.0 392.3,204.8 392.4,203.6 392.5,204.5 392.6,204.6 392.7,203.2 392.8,203.6 392.9,204.0 393.0,203.3 393.1,204.6 393.2,207.8 393.4,205.1 393.5,203.9 393.6,200.1 393.7,204.7 393.8,199.8 393.9,201.3 394.0,206.3 394.1,205.8 394.2,203.8 394.3,199.6 394.4,201.8 394.5,202.1 394.6,206.4 394.7,210.2 394.8,205.5 395.0,203.1 395.1,202.2 395.2,204.9 395.3,205.2 395.4,203.5 395.5,206.5 395.6,203.8 395.7,208.6 395.8,208.3 395.9,207.9 396.0,204.3 396.1,206.5 396.2,205.5 396.3,205.2 396.4,205.4 396.5,203.2 396.7,202.8 396.8,207.6 396.9,205.8 397.0,206.8 397.1,208.6 397.2,202.8 397.3,204.8 397.4,206.7 397.5,207.0 397.7,205.4 397.8,208.5 398.0,206.9 398.1,204.0 398.3,204.6 398.4,208.2 398.6,207.4 398.7,202.2 398.9,208.5 399.0,206.7 399.2,208.3 399.3,204.9 399.5,205.7 399.6,204.7 399.8,212.9 399.9,207.6 400.1,211.0 400.2,205.8 400.4,206.6 400.5,202.1 400.7,204.3 400.8,207.2 401.0,202.8 401.1,207.6 401.3,205.1 401.4,201.3 401.6,203.5 401.7,205.0 401.9,206.4 402.0,205.9 402.2,205.5 402.3,206.9 402.5,205.5 402.6,205.0 402.8,207.7 402.9,209.7 403.1,204.7 403.2,207.4 403.4,205.6 403.5,204.6 403.7,208.2 403.8,205.6 404.0,210.0 404.1,205.8 404.3,208.2 404.4,207.0 404.6,205.8 404.7,208.4 404.9,206.9 405.0,208.5 405.2,207.5 405.3,205.8 405.5,208.1 405.6,208.5 405.7,210.2 405.9,205.9 406.0,206.9 406.2,203.6 406.3,208.5 406.5,205.1 406.6,203.7 406.8,207.5 406.9,210.2 407.1,205.1 407.2,206.1 407.4,206.8 407.5,206.1 407.7,209.1 407.8,206.8 408.0,206.7 408.1,208.6 408.3,205.6 408.4,207.7 408.6,205.1 408.7,204.8 408.9,203.7 409.0,210.9 409.2,206.6 409.3,207.4 409.5,206.3 409.6,205.9 409.8,204.6 409.9,207.0 410.1,197.8 410.2,192.3 410.4,188.6 410.5,183.7 410.7,189.6 410.8,193.8 411.0,194.5 411.1,197.4 411.3,201.5 411.4,205.9 411.6,198.7 411.7,206.0 411.9,203.6 412.0,208.4 412.2,204.8 412.3,206.5 412.5,204.6 412.6,206.1 412.8,210.9 412.9,210.1 413.1,208.0 413.2,207.2 413.4,205.5 413.5,208.5 413.7,209.6 413.8,209.9 414.0,210.2 414.1,208.5 414.2,210.7 414.4,210.7 414.5,213.0 414.7,213.8 414.8,209.9 415.0,208.5 415.1,209.7 415.3,208.7 415.4,208.5 415.6,209.8 415.7,207.9 415.9,210.8 416.0,209.6 416.2,210.5 416.3,210.0 416.5,209.0 416.6,208.5 416.8,209.5 416.9,208.6 417.1,210.3 417.2,210.0 417.4,207.1 417.5,209.3 417.7,206.8 417.8,208.0 418.0,208.6 418.1,206.0 418.3,210.1 418.4,210.2 418.6,209.5 418.7,208.7 418.9,209.2 419.0,208.5 419.2,209.6 419.3,209.2 419.5,210.4 419.6,208.1 419.8,210.3 419.9,209.5 420.1,208.4 420.2,207.8 420.4,209.4 420.5,205.4 420.7,210.1 420.8,210.4 421.0,210.5 421.1,210.6 421.3,209.0 421.4,210.0 421.6,212.0 421.7,211.4 421.9,209.8 422.0,206.1 422.2,210.1 422.3,211.4 422.4,211.0 422.6,209.9 422.7,207.1 422.9,211.6 423.0,209.6 423.2,205.3 423.3,210.1 423.5,207.1 423.6,207.8 423.8,209.5 423.9,213.1 424.1,210.4 424.2,211.5 424.4,213.7 424.5,213.0 424.7,209.9 424.8,209.9 425.0,208.7 425.1,210.1 425.3,212.1 425.4,211.7 425.6,211.1 425.7,212.5 425.9,209.6 426.0,210.9 426.2,212.4 426.3,212.1 426.5,212.9 426.6,211.7 426.8,210.7 426.9,212.1 427.1,210.0 427.2,208.7 427.4,212.1 427.5,211.5 427.7,212.5 427.8,208.7 428.0,210.3 428.1,209.0 428.3,207.8 428.4,205.8 428.6,209.5 428.7,211.1 428.9,209.6 429.0,208.5 429.2,210.5 429.3,212.3 429.5,207.3 429.6,211.9 429.8,213.3 429.9,213.4 430.1,214.9 430.2,213.7 430.4,212.1 430.5,211.9 430.6,212.6 430.8,210.4 430.9,211.2 431.1,212.8 431.2,214.5 431.4,210.8 431.5,210.8 431.7,211.1 431.8,212.7 432.0,210.2 432.1,212.0 432.3,207.4 432.4,209.5 432.6,210.6 432.7,212.5 432.9,213.3 433.0,209.4 433.2,210.8 433.3,213.0 433.5,211.3 433.6,208.8 433.8,211.6 433.9,211.1 434.1,212.0 434.2,210.5 434.4,212.9 434.5,210.9 434.7,212.4 434.8,208.6 435.0,209.3 435.1,211.7 435.3,210.3 435.4,212.4 435.6,211.5 435.7,209.4 435.9,211.0 436.0,210.5 436.2,212.7 436.3,210.5 436.5,211.1 436.6,213.9 436.8,215.7 436.9,215.2 437.1,212.0 437.2,212.0 437.4,214.0 437.5,211.6 437.7,210.8 437.8,213.2 438.0,214.0 438.1,211.9 438.3,210.3 438.4,210.3 438.6,212.7 438.7,209.6 438.8,211.5 439.0,212.8 439.1,212.7 439.3,210.7 439.4,212.6 439.6,211.0 439.7,211.8 439.9,210.5 440.0,213.6 440.2,211.4 440.3,210.0 440.5,210.4 440.6,210.6 440.8,212.2 440.9,208.7 441.1,209.8 441.2,211.0 441.4,215.5 441.5,212.8 441.7,210.9 441.8,212.2 442.0,214.5 442.1,211.4 442.3,211.8 442.4,214.7 442.6,213.9 442.7,214.2 442.9,212.2 443.0,215.7 443.2,215.3 443.3,213.5 443.5,213.7 443.6,209.5 443.8,213.6 443.9,212.4 444.1,213.2 444.2,213.2 444.4,211.3 444.5,209.1 444.7,212.3 444.8,210.3 445.0,210.5 445.1,209.5 445.3,209.2 445.4,205.4 445.6,210.6 445.7,209.1 445.9,210.7 446.0,212.2 446.2,208.6 446.3,204.2 446.5,203.3 446.6,201.0 446.8,202.5 446.9,204.2 447.1,201.2 447.2,206.6 447.3,204.6 447.5,208.7 447.6,208.8 447.8,209.2 447.9,210.0 448.1,209.5 448.2,209.0 448.4,207.0 448.5,210.7 448.7,214.5 448.8,214.7 449.0,213.6 449.1,212.5 449.3,210.4 449.4,213.8 449.6,212.0 449.7,212.4 449.9,212.3 450.0,213.0 450.2,212.2 450.3,212.4 450.5,210.5 450.6,211.1 450.8,214.8 450.9,211.3 451.1,210.8 451.2,211.7 451.4,212.4 451.5,209.9 451.7,211.0 451.8,213.2 452.0,212.9 452.1,212.9 452.3,215.2 452.4,212.2 452.6,213.4 452.7,212.4 452.9,215.2 453.0,209.8 453.2,211.5 453.3,211.8 453.5,213.6 453.6,213.5 453.8,214.6 453.9,209.9 454.1,213.0 454.2,211.3 454.4,210.7 454.5,212.5 454.7,210.3 454.8,208.5 455.0,211.3 455.1,209.8 455.3,210.9 455.4,212.3 455.5,212.2 455.7,214.0 455.8,211.1 456.0,208.8 456.1,209.6 456.3,208.9 456.4,208.0 456.6,210.0 456.7,207.5 456.9,204.4 457.0,208.2 457.2,206.2 457.3,206.5 457.5,205.6 457.6,205.8 457.8,203.4 457.9,203.8 458.1,199.7 458.2,196.8 458.4,194.2 458.5,187.3 458.7,189.2 458.8,189.0 459.0,191.6 459.1,189.3 459.3,198.0 459.4,197.6 459.6,197.7 459.7,198.6 459.9,202.3 460.0,203.5 460.2,203.9 460.3,206.9 460.5,206.9 460.6,210.0 460.8,209.0 460.9,211.1 461.1,213.4 461.2,216.2 461.4,210.5 461.5,210.8 461.7,209.7 461.8,211.9 462.0,209.4 462.1,211.1 462.3,212.3 462.4,211.2 462.6,211.2 462.7,210.7 462.9,207.1 463.0,208.6 463.2,211.0 463.3,212.0 463.5,211.8 463.6,209.6 463.7,211.7 463.9,213.6 464.0,213.3 464.2,212.6 464.3,211.5 464.5,212.6 464.6,209.7 464.8,209.1 464.9,210.3 465.1,213.8 465.2,212.2 465.4,213.4 465.5,210.8 465.7,212.7 465.8,210.3 466.0,211.0 466.1,215.0 466.3,212.4 466.4,210.1 466.6,210.3 466.7,210.5 466.9,211.8 467.0,209.3 467.2,207.3 467.3,208.4 467.5,207.5 467.6,207.3 467.8,209.2 467.9,208.4 468.1,210.0 468.2,206.3 468.4,208.7 468.5,209.7 468.7,206.2 468.8,204.0 469.0,202.6 469.1,204.7 469.3,198.6 469.4,199.3 469.6,199.3 469.7,198.2 469.9,192.3 470.0,189.9 470.2,185.6 470.3,183.7 470.5,178.8 470.6,172.7 470.8,176.7 470.9,181.6 471.1,178.1 471.2,182.2 471.4,187.8 471.5,187.3 471.7,192.3 471.8,190.3 472.0,196.8 472.1,200.5 472.2,199.7 472.4,194.0 472.5,195.4 472.7,194.4 472.8,195.3 473.0,199.2 473.1,194.2 473.3,200.4 473.4,198.5 473.6,201.6 473.7,200.2 473.9,199.4 474.0,201.5 474.2,202.8 474.3,202.0 474.5,203.4 474.6,201.9 474.8,198.9 474.9,204.2 475.1,203.4 475.2,202.0 475.4,201.8 475.5,203.9 475.7,201.4 475.8,201.2 476.0,202.1 476.1,204.5 476.3,199.0 476.4,203.3 476.6,199.0 476.7,197.4 476.9,201.5 477.0,198.0 477.2,194.6 477.3,195.5 477.5,196.7 477.6,195.2 477.8,189.0 477.9,188.6 478.1,186.7 478.2,180.1 478.4,180.2 478.5,176.6 478.7,173.4 478.8,173.1 479.0,176.1 479.1,178.5 479.3,180.3 479.4,184.6 479.6,192.3 479.7,193.4 479.9,197.6 480.0,200.5 480.2,200.9 480.3,205.7 480.4,200.9 480.6,205.1 480.7,203.9 480.9,208.4 481.0,208.4 481.2,202.7 481.3,204.9 481.5,207.7 481.6,208.2 481.8,209.0 481.9,208.8 482.1,210.2 482.2,211.1 482.4,210.5 482.5,212.4 482.7,207.7 482.8,211.8 483.0,209.5 483.1,212.3 483.3,210.9 483.4,210.8 483.6,213.1 483.7,211.1 483.9,210.6 484.0,209.4 484.2,211.4 484.3,211.8 484.5,212.3 484.6,211.6 484.8,214.0 484.9,212.7 485.1,212.4 485.2,213.1 485.4,213.8 485.5,212.2 485.7,212.9 485.8,213.4 486.0,213.9 486.1,212.7 486.3,215.3 486.4,213.4 486.6,214.4 486.7,212.3 486.9,213.5 487.0,213.1 487.2,211.8 487.3,215.1 487.5,213.1 487.6,215.3 487.8,213.8 487.9,211.1 488.1,212.3 488.2,214.3 488.4,213.9 488.5,214.0 488.6,213.5 488.8,211.1 488.9,212.9 489.1,210.2 489.2,213.8 489.4,212.6 489.5,212.7 489.7,213.3 489.8,214.0 490.0,211.9 490.1,211.5 490.3,211.5 490.4,209.0 490.6,210.4 490.7,213.9 490.9,210.6 491.0,213.5 491.2,211.4 491.3,214.1 491.5,213.0 491.6,212.6 491.8,213.7 491.9,215.7 492.1,213.8 492.2,213.9 492.4,212.5 492.5,214.1 492.7,212.5 492.8,213.5 493.0,212.2 493.1,214.8 493.3,210.2 493.4,212.7 493.6,214.4 493.7,212.9 493.9,212.3 494.0,212.8 494.2,211.1 494.3,213.1 494.5,216.3 494.6,214.9 494.8,212.2 494.9,212.4 495.1,212.7 495.2,214.5 495.4,212.3 495.5,212.5 495.7,214.7 495.8,214.7 496.0,213.2 496.1,212.2 496.3,211.6 496.4,212.8 496.6,210.9 496.7,214.9 496.8,213.0 497.0,214.2 497.1,215.9 497.3,214.7 497.4,211.3 497.6,213.8 497.7,214.1 497.9,211.7 498.0,211.6 498.2,212.8 498.3,211.1 498.5,215.3 498.6,210.5 498.8,212.3 498.9,213.6 499.1,213.7 499.2,214.1 499.4,214.2 499.5,213.4 499.7,215.0 499.8,210.4 500.0,212.7 500.1,211.2 500.3,212.4 500.4,212.8 500.6,211.1 500.7,211.1 500.9,212.5 501.0,211.0 501.2,208.7 501.3,211.8 501.5,211.7 501.6,207.4 501.8,211.5 501.9,215.5 502.1,213.8 502.2,213.4 502.4,212.7 502.5,212.1 502.7,212.4 502.8,212.0 503.0,213.9 503.1,212.6 503.3,212.0 503.4,210.6 503.6,213.3 503.7,213.3 503.9,214.0 504.0,215.4 504.2,214.7 504.3,215.1 504.5,214.8 504.6,214.2 504.8,213.7 504.9,213.3 505.1,214.6 505.2,211.8 505.3,214.5 505.5,213.6 505.6,213.4 505.8,213.9 505.9,213.6 506.1,214.5 506.2,213.1 506.4,215.3 506.5,212.8 506.7,210.8 506.8,212.6 507.0,210.6 507.1,212.7 507.3,213.8 507.4,212.9 507.6,209.9 507.7,210.2 507.9,213.3 508.0,211.1 508.2,210.5 508.3,211.5 508.5,212.7 508.6,210.3 508.8,207.7 508.9,207.0 509.1,206.2 509.2,202.7 509.4,200.9 509.5,203.2 509.7,202.7 509.8,205.9 510.0,208.0 510.1,212.8 510.3,208.8 510.4,210.4 510.6,210.8 510.7,211.9 510.9,213.0 511.0,211.1 511.2,211.0 511.3,210.3 511.5,211.7 511.6,213.8 511.8,212.8 511.9,211.0 512.1,212.5 512.2,213.6 512.4,214.4 512.5,213.2 512.7,212.1 512.8,208.3 513.0,210.7 513.1,216.1 513.3,211.4 513.4,213.7 513.5,214.3 513.7,213.7 513.8,213.4 514.0,214.4 514.1,214.4 514.3,214.3 514.4,212.1 514.6,214.2 514.7,213.1 514.9,213.2 515.0,214.0 515.2,214.4 515.3,214.6 515.5,212.6 515.6,214.3 515.8,214.5 515.9,214.4 516.1,214.5 516.2,212.3 516.4,211.9 516.5,213.0 516.7,209.7 516.8,211.6 517.0,210.6 517.1,211.0 517.3,209.4 517.4,211.1 517.6,212.9 517.7,214.7 517.9,215.5 518.0,214.5 518.2,214.6 518.3,213.7 518.5,215.1 518.6,214.0 518.8,215.0 518.9,216.1 519.1,213.3 519.2,211.0 519.4,212.1 519.5,211.3 519.7,211.5 519.8,215.4 520.0,214.8 520.1,212.6 520.3,215.2 520.4,215.9 520.6,213.6 520.7,212.7 520.9,212.6 521.0,213.1 521.2,213.6 521.3,214.7 521.5,215.3 521.6,215.9 521.7,216.4 521.9,215.5 522.0,212.7 522.2,214.3 522.3,214.9 522.5,214.0 522.6,215.5 522.8,213.9 522.9,213.2 523.1,216.4 523.2,215.7 523.4,215.4 523.5,216.1 523.7,215.8 523.8,214.2 524.0,210.3 524.1,212.2 524.3,212.4 524.4,212.1 524.6,214.0 524.7,215.4 524.9,213.4 525.0,212.5 525.2,216.4 525.3,213.5 525.5,212.8 525.6,215.0 525.8,215.5 525.9,214.2 526.1,215.8 526.2,213.9 526.4,213.1 526.5,214.4 526.7,215.3 526.8,213.8 527.0,215.3 527.1,214.8 527.3,217.8 527.4,213.2 527.6,215.5 527.7,213.7 527.9,213.7 528.0,215.3 528.2,215.7 528.3,215.9 528.5,214.5 528.6,213.3 528.8,213.5 528.9,215.0 529.1,215.2 529.2,216.1 529.4,214.6 529.5,215.0 529.7,215.4 529.8,213.8 529.9,212.0 530.1,212.6 530.2,211.3 530.4,213.9 530.5,212.2 530.7,215.9 530.8,213.9 531.0,214.1 531.1,213.8 531.3,213.1 531.4,212.8 531.6,213.3 531.7,213.4 531.9,212.4 532.0,213.2 532.2,215.2 532.3,209.8 532.5,211.4 532.6,209.0 532.8,210.0 532.9,210.5 533.1,208.4 533.2,208.5 533.4,202.6 533.5,204.6 533.7,197.5 533.8,195.9 534.0,193.2 534.1,186.4 534.3,191.1 534.4,195.4 534.6,200.9 534.7,201.3 534.9,203.8 535.0,203.1 535.2,209.3 535.3,210.8 535.5,208.9 535.6,209.9 535.8,209.1 535.9,213.3 536.1,216.3 536.2,214.4 536.4,214.2 536.5,212.3 536.7,212.3 536.8,216.9 537.0,213.6 537.1,214.7 537.3,215.2 537.4,216.0 537.6,215.6 537.7,215.5 537.9,213.9 538.0,213.0 538.2,214.5 538.3,213.3 538.4,212.4 538.6,212.3 538.7,211.8 538.9,208.6 539.0,209.9 539.2,210.7 539.3,213.8 539.5,214.6 539.6,216.5 539.8,212.2 539.9,213.1 540.1,214.8 540.2,213.3 540.4,213.1 540.5,215.8 540.7,213.7 540.8,213.1 541.0,213.3 541.1,215.6 541.3,215.9 541.4,214.2 541.6,214.7 541.7,216.2 541.9,215.8 542.0,214.1 542.2,215.6 542.3,215.6 542.5,212.8 542.6,214.5 542.8,215.4 542.9,214.4 543.1,212.6 543.2,214.8 543.4,216.1 543.5,217.2 543.7,212.9 543.8,219.0 544.0,214.7 544.1,217.2 544.3,217.1 544.4,216.3 544.6,214.9 544.7,213.2 544.9,215.4 545.0,213.7 545.2,211.5 545.3,217.7 545.5,215.7 545.6,217.4 545.8,214.3 545.9,217.1 546.1,217.3 546.2,217.4 546.4,215.7 546.5,214.3 546.6,215.5 546.8,213.0 546.9,213.6 547.1,215.8 547.2,214.4 547.4,215.2 547.5,215.1 547.7,217.2 547.8,216.1 548.0,214.2 548.1,216.0 548.3,213.8 548.4,214.4 548.6,215.6 548.7,211.7 548.9,211.7 549.0,208.9 549.2,209.5 549.3,210.2 549.5,204.9 549.6,205.2 549.8,202.8 549.9,202.7 550.1,203.7 550.2,209.4 550.4,211.8 550.5,209.8 550.7,208.7 550.8,211.4 551.0,210.9 551.1,213.2 551.3,213.2 551.4,213.7 551.6,214.6 551.7,213.5 551.9,214.0 552.0,212.3 552.2,213.9 552.3,212.7 552.5,214.4 552.6,213.4 552.8,214.7 552.9,215.1 553.1,212.3 553.2,212.5 553.4,213.4 553.5,216.5 553.7,217.8 553.8,216.6 554.0,214.7 554.1,216.3 554.3,211.8 554.4,215.4 554.6,212.4 554.7,209.8 554.8,216.8 555.0,215.1 555.1,211.3 555.3,213.0 555.4,212.6 555.6,213.3 555.7,211.4 555.9,212.7 556.0,214.3 556.2,214.2 556.3,215.5 556.5,214.3 556.6,217.3 556.8,213.6 556.9,214.8 557.1,212.3 557.2,213.2 557.4,216.5 557.5,213.7 557.7,215.3 557.8,214.3 558.0,213.2 558.1,214.2 558.3,214.2 558.4,214.3 558.6,215.8 558.7,215.6 558.9,214.2 559.0,213.3 559.2,214.3 559.3,214.8 559.5,216.9 559.6,218.5 559.8,215.2 559.9,213.0 560.1,212.0 560.2,210.7 560.4,212.6 560.5,214.3 560.7,214.9 560.8,214.3 561.0,215.2 561.1,213.6 561.3,214.0 561.4,213.2 561.6,216.9 561.7,215.8 561.9,217.8 562.0,217.1 562.2,217.9 562.3,215.5 562.5,216.1 562.6,217.8 562.8,213.0 562.9,215.5 563.1,215.9 563.2,214.9 563.3,215.8 563.5,216.5 563.6,213.9 563.8,214.7 563.9,212.4 564.1,212.0 564.2,211.7 564.4,212.1 564.5,212.3 564.7,212.4 564.8,209.6 565.0,214.5 565.1,213.7 565.3,213.5 565.4,212.5 565.6,213.2 565.7,214.3 565.9,214.2 566.0,211.7 566.2,215.2 566.3,218.0 566.5,213.1 566.6,217.1 566.8,216.5 566.9,215.8 567.1,217.2 567.2,213.8 567.4,215.8 567.5,217.9 567.7,216.0 567.8,215.6 568.0,216.0 568.1,215.1 568.3,217.6 568.4,214.8 568.6,217.1 568.7,214.5 568.9,216.1 569.0,214.4 569.2,212.0 569.3,215.7 569.5,214.6 569.6,215.4 569.8,217.7 569.9,214.5 570.1,214.4 570.2,217.1 570.4,215.4 570.5,217.1 570.7,215.4 570.8,213.7 571.0,214.7 571.1,216.5 571.3,216.7 571.4,215.9 571.5,216.2 571.7,215.9 571.8,215.2 572.0,218.3 572.1,216.1 572.3,214.9 572.4,215.9 572.6,217.2 572.7,216.7 572.9,215.2 573.0,214.2 573.2,215.0 573.3,212.7 573.5,213.1 573.6,216.6 573.8,215.4 573.9,215.7 574.1,215.9 574.2,214.3 574.4,212.8 574.5,215.2 574.7,213.1 574.8,211.6 575.0,213.0 575.1,212.6 575.3,211.2 575.4,212.9 575.6,213.4 575.7,211.3 575.9,213.7 576.0,214.8 576.2,215.7 576.3,214.4 576.5,216.0 576.6,216.3 576.8,216.3 576.9,214.4 577.1,216.2 577.2,213.7 577.4,214.9 577.5,217.0 577.7,214.9 577.8,215.4 578.0,217.8 578.1,216.4 578.3,216.8 578.4,217.4 578.6,218.0 578.7,213.7 578.9,215.0 579.0,214.7 579.2,214.6 579.3,215.0 579.5,215.1 579.6,216.6 579.7,214.6 579.9,215.5 580.0,216.7 580.2,215.9 580.3,216.6 580.5,218.0 580.6,216.2 580.8,215.0 580.9,215.9 581.1,215.1 581.2,216.6 581.4,217.3 581.5,215.2 581.7,215.9 581.8,217.5 582.0,215.5 582.1,216.1 582.3,214.5 582.4,214.8 582.6,215.5 582.7,218.9 582.9,215.7 583.0,215.2 583.2,214.7 583.3,215.0 583.5,216.1 583.6,215.9 583.8,218.3 583.9,216.1 584.1,217.5 584.2,216.0 584.4,216.2 584.5,213.5 584.7,214.5 584.8,214.2 585.0,214.5 585.1,212.6 585.3,216.3 585.4,215.3 585.6,215.7 585.7,216.1 585.9,216.2 586.0,216.7 586.2,214.2 586.3,214.2 586.5,215.3 586.6,214.9 586.8,213.9 586.9,213.2 587.1,212.2 587.2,212.5 587.4,213.7 587.5,210.3 587.7,213.4 587.8,211.4 587.9,208.1 588.1,208.7 588.2,204.5 588.4,204.6 588.5,206.8 588.7,209.9 588.8,211.3 589.0,211.9 589.1,213.3 589.3,210.8 589.4,213.9 589.6,211.0 589.7,213.0 589.9,214.2 590.0,213.8 590.2,214.0 590.3,214.7 590.5,216.1 590.6,216.7 590.8,216.3 590.9,214.2 591.1,214.3 591.2,214.1 591.4,215.5 591.5,212.3 591.7,216.3 591.8,214.6 592.0,214.6 592.1,216.2 592.3,217.4 592.4,216.8 592.6,217.7 592.7,216.7 592.9,218.1 593.0,218.2 593.2,216.4 593.3,217.8 593.5,215.9 593.6,215.7 593.8,214.7 593.9,215.8 594.1,217.4 594.2,215.1 594.4,217.5 594.5,217.0 594.7,216.8 594.8,213.8 595.0,216.2 595.1,217.1 595.3,215.4 595.4,216.2 595.6,213.2 595.7,216.6 595.9,214.9 596.0,216.9 596.2,214.1 596.3,217.6 596.4,216.7 596.6,217.7 596.7,215.2 596.9,215.1 597.0,218.3 597.2,214.5 597.3,214.8 597.5,215.3 597.6,214.3 597.8,216.6 597.9,216.7 598.1,213.0 598.2,211.0 598.4,214.1 598.5,213.5 598.7,212.7 598.8,212.5 599.0,208.6 599.1,208.7 599.3,206.1 599.4,205.9 599.6,210.1 599.7,208.6 599.9,213.9 600.0,211.7 600.2,211.4 600.3,213.4 600.5,214.8 600.6,213.7 600.8,212.5 600.9,215.4 601.1,217.3 601.2,215.4 601.4,215.2 601.5,217.1 601.7,215.8 601.8,214.0 602.0,214.8 602.1,214.6 602.3,215.8 602.4,215.6 602.6,217.3 602.7,217.3 602.9,214.7 603.0,217.0 603.2,217.4 603.3,216.7 603.5,217.2 603.6,215.3 603.8,214.9 603.9,217.4 604.1,215.2 604.2,214.0 604.4,217.8 604.5,215.5 604.6,214.8 604.8,212.5 604.9,213.6 605.1,215.1 605.2,216.4 605.4,217.4 605.5,213.4 605.7,216.2 605.8,214.1 606.0,214.4 606.1,216.1 606.3,214.8 606.4,212.7 606.6,216.6 606.7,212.6 606.9,213.8 607.0,213.8 607.2,216.0 607.3,214.2 607.5,216.4 607.6,214.2 607.8,216.3 607.9,214.0 608.1,214.7 608.2,217.8 608.4,216.2 608.5,216.1 608.7,218.5 608.8,215.9 609.0,213.7 609.1,214.9 609.3,213.1 609.4,216.6 609.6,217.1 609.7,215.5 609.9,215.9 610.0,217.4 610.2,217.5 610.3,216.2 610.5,217.7 610.6,214.2 610.8,216.0 610.9,215.8 611.1,216.1 611.2,217.7 611.4,216.7 611.5,218.7 611.7,217.3 611.8,216.0 612.0,214.5 612.1,214.2 612.3,216.1 612.4,214.9 612.6,216.7 612.7,218.5 612.8,218.9 613.0,219.6 613.1,217.2 613.3,215.7 613.4,217.6 613.6,216.8 613.7,218.0 613.9,216.8 614.0,218.5 614.2,218.4 614.3,218.3 614.5,217.8 614.6,217.0 614.8,216.3 614.9,216.3 615.1,217.3 615.2,215.7 615.4,218.7 615.5,216.8 615.7,218.0 615.8,216.6 616.0,216.4 616.1,219.4 616.3,216.9 616.4,216.1 616.6,216.9 616.7,217.5 616.9,220.4 617.0,217.9 617.2,218.3 617.3,215.6 617.5,217.0 617.6,217.3 617.8,218.6 617.9,215.8 618.1,217.4 618.2,216.9 618.4,215.1 618.5,216.1 618.7,215.9 618.8,213.7 619.0,217.3 619.1,217.3 619.3,216.3 619.4,215.3 619.6,218.5 619.7,216.8 619.9,217.4 620.0,217.8 620.2,215.6 620.3,217.3 620.5,215.8 620.6,215.5 620.8,214.8 620.9,214.4 621.1,215.6 621.2,215.0 621.3,215.4 621.5,215.5 621.6,216.4 621.8,214.5 621.9,214.5 622.1,214.9 622.2,214.3 622.4,214.9 622.5,214.4 622.7,217.7 622.8,216.9 623.0,215.5 623.1,214.5 623.3,217.0 623.4,214.3 623.6,213.7 623.7,214.4 623.9,214.8 624.0,216.8 624.2,215.4 624.3,218.3 624.5,214.5 624.6,216.6 624.8,214.8 624.9,218.6 625.1,216.6 625.2,217.2 625.4,218.3 625.5,218.4 625.7,215.3 625.8,216.1 626.0,214.9 626.1,216.7 626.3,216.3 626.4,215.0 626.6,213.7 626.7,214.6 626.9,214.9 627.0,216.6 627.2,217.9 627.3,213.8 627.5,216.0 627.6,216.0 627.8,217.4 627.9,215.7 628.1,216.5 628.2,215.1 628.4,217.1 628.5,216.3 628.7,215.7 628.8,216.0 629.0,214.8 629.1,212.8 629.3,215.5 629.4,215.8 629.5,216.0 629.7,217.9 629.8,218.4 630.0,215.7 630.1,216.0 630.3,218.5 630.4,218.0 630.6,215.2 630.7,214.5 630.9,215.3 631.0,215.7 631.2,214.5 631.3,216.4 631.5,214.8 631.6,214.8 631.8,217.1 631.9,214.7 632.1,214.7 632.2,215.0 632.4,215.0 632.5,214.0 632.7,215.0 632.8,214.6 633.0,218.1 633.1,217.1 633.3,215.1 633.4,216.4 633.6,217.0 633.7,216.3 633.9,217.4 634.0,216.6 634.2,214.3 634.3,215.0 634.5,213.8 634.6,215.6 634.8,215.6 634.9,218.7 635.1,216.0 635.2,213.7 635.4,215.3 635.5,216.1 635.7,214.3 635.8,214.7 636.0,215.6 636.1,216.8 636.3,216.6 636.4,214.8 636.6,215.5 636.7,215.1 636.9,216.1 637.0,214.6 637.2,214.9 637.3,216.8 637.5,214.5 637.6,216.6 637.7,217.8 637.9,216.7 638.0,217.4 638.2,215.6 638.3,218.2 638.5,217.7 638.6,216.6 638.8,214.2 638.9,214.9 639.1,217.0 639.2,217.6 639.4,215.8 639.5,217.1 639.7,215.0 639.8,215.6 640.0,215.7 640.1,216.1 640.3,213.8 640.4,216.9 640.6,217.6 640.7,214.8 640.9,214.5 641.0,216.3 641.2,214.4 641.3,211.9 641.5,216.3 641.6,216.3 641.8,215.9 641.9,219.3 642.1,217.2 642.2,216.3 642.4,217.4 642.5,216.0 642.7,216.2 642.8,217.4 643.0,216.1 643.1,216.3 643.3,218.9 643.4,218.2 643.6,218.1 643.7,217.6 643.9,217.2 644.0,218.1 644.2,216.3 644.3,218.8 644.5,215.6 644.6,216.5 644.8,215.2 644.9,216.5 645.1,217.7 645.2,219.2 645.4,217.1 645.5,217.9 645.7,217.2 645.8,216.2 645.9,215.1 646.1,216.6 646.2,214.6 646.4,216.7 646.5,216.6 646.7,215.9 646.8,215.7 647.0,215.4 647.1,219.1 647.3,214.8 647.4,217.6 647.6,216.0 647.7,214.8 647.9,214.3 648.0,217.3 648.2,218.4 648.3,215.1 648.5,215.6 648.6,216.8 648.8,215.7 648.9,217.8 649.1,215.1 649.2,217.0 649.4,215.3 649.5,219.5 649.7,216.3 649.8,214.5 650.0,216.7 650.1,216.5 650.3,219.1 650.4,216.7 650.6,217.5 650.7,218.4 650.9,219.6 651.0,217.5 651.2,218.5 651.3,217.5 651.5,216.3 651.6,216.6 651.8,216.5 651.9,215.2 652.1,217.8 652.2,214.9 652.4,217.8 652.5,217.1 652.7,215.3 652.8,214.2 653.0,214.7 653.1,215.7 653.3,216.5 653.4,216.3 653.6,217.6 653.7,216.6 653.9,218.2 654.0,216.0 654.2,218.6 654.3,217.6 654.4,216.7 654.6,218.5 654.7,218.1 654.9,214.4 655.0,217.7 655.2,215.9 655.3,218.6 655.5,219.9 655.6,215.8 655.8,216.2 655.9,215.8 656.1,216.7 656.2,217.4 656.4,218.4 656.5,215.6 656.7,218.4 656.8,215.2 657.0,216.6 657.1,217.7 657.3,217.2 657.4,215.1 657.6,215.3 657.7,215.8 657.9,216.6 658.0,218.3 658.2,215.4 658.3,217.3 658.5,217.4 658.6,217.4 658.8,217.4 658.9,218.7 659.1,217.4 659.2,217.6 659.4,216.8 659.5,218.0 659.7,213.5 659.8,217.3 660.0,215.5 660.1,215.6 660.3,215.1 660.4,214.7 660.6,216.6 660.7,216.0 660.9,217.4 661.0,215.1 661.2,218.5 661.3,217.3 661.5,217.0 661.6,216.7 661.8,216.9 661.9,216.7 662.1,217.3 662.2,217.7 662.4,217.4 662.5,216.0 662.6,217.5 662.8,216.8 662.9,217.9 663.1,219.7 663.2,218.0 663.4,216.9 663.5,215.6 663.7,216.2 663.8,216.1 664.0,218.9 664.1,216.9 664.3,217.7 664.4,216.7 664.6,217.5 664.7,218.9 664.9,216.0 665.0,216.0 665.2,215.0 665.3,216.7 665.5,214.4 665.6,214.4 665.8,214.2 665.9,214.2 666.1,216.4 666.2,219.1 666.4,215.3 666.5,218.4 666.7,218.1 666.8,216.4 667.0,216.9 667.1,216.4 667.3,215.5 667.4,218.7 667.6,214.2 667.7,217.0 667.9,216.9 668.0,215.6 668.2,216.2 668.3,216.8 668.5,215.8 668.6,216.1 668.8,215.8 668.9,212.2 669.1,217.5 669.2,219.7 669.4,218.4 669.5,218.6 669.7,215.6 669.8,216.8 670.0,215.6 670.1,215.4 670.3,217.0 670.4,214.9 670.6,215.8 670.7,213.9 670.8,216.4 671.0,216.9 671.1,216.0 671.3,215.3 671.4,218.1 671.6,215.6 671.7,216.8 671.9,216.8 672.0,218.6 672.2,219.2 672.3,216.9 672.5,215.8 672.6,216.3 672.8,218.0 672.9,215.4 673.1,218.2 673.2,218.3 673.4,217.3 673.5,218.7 673.7,219.3 673.8,220.2 674.0,216.6 674.1,218.7 674.3,216.5"/>
<polyline fill="none" stroke="#000000" stroke-width="0.8" stroke-linejoin="round" points="354.8,203.9 354.9,206.1 355.0,206.5 355.1,210.4 355.2,203.8 355.3,210.3 355.4,206.9 355.5,213.6 355.7,214.4 355.8,216.7 355.9,214.9 356.0,212.4 356.1,216.0 356.2,218.6 356.3,211.0 356.4,216.0 356.5,214.1 356.6,220.0 356.7,212.3 356.8,214.7 356.9,217.7 357.0,217.8 357.1,211.6 357.2,219.1 357.4,217.7 357.5,217.6 357.6,218.2 357.7,219.8 357.8,212.6 357.9,224.4 358.0,216.0 358.1,211.4 358.2,219.3 358.3,225.2 358.4,218.8 358.5,226.2 358.6,224.2 358.7,213.9 358.8,210.6 359.0,217.2 359.1,226.0 359.2,219.5 359.3,217.3 359.4,218.0 359.5,222.6 359.6,222.6 359.7,225.9 359.8,226.5 359.9,220.1 360.0,222.8 360.1,219.7 360.2,223.9 360.3,219.8 360.4,219.6 360.6,230.7 360.7,223.9 360.8,226.2 360.9,232.8 361.0,227.4 361.1,224.8 361.2,225.7 361.3,223.3 361.4,229.6 361.5,225.1 361.6,232.1 361.7,225.2 361.8,225.1 361.9,224.8 362.0,228.2 362.1,227.1 362.3,231.5 362.4,225.7 362.5,229.0 362.6,234.3 362.7,227.2 362.8,230.4 362.9,234.3 363.0,229.9 363.1,224.7 363.2,221.0 363.3,236.6 363.4,230.4 363.5,233.1 363.6,228.5 363.7,236.6 363.9,232.8 364.0,231.6 364.1,228.9 364.2,233.3 364.3,231.1 364.4,232.1 364.5,227.6 364.6,230.9 364.7,232.6 364.8,227.9 364.9,231.9 365.0,233.7 365.1,230.7 365.2,229.9 365.3,230.3 365.5,235.5 365.6,228.4 365.7,232.7 365.8,232.7 365.9,234.5 366.0,233.7 366.1,230.3 366.2,239.7 366.3,234.0 366.4,229.8 366.5,231.8 366.6,235.5 366.7,237.6 366.8,231.9 366.9,238.1 367.0,231.8 367.2,233.6 367.3,238.7 367.4,241.6 367.5,236.2 367.6,235.4 367.7,240.3 367.8,233.4 367.9,237.3 368.0,237.0 368.1,239.4 368.2,237.4 368.3,236.1 368.4,239.1 368.5,234.3 368.6,240.2 368.8,235.8 368.9,234.7 369.0,236.0 369.1,237.0 369.2,238.7 369.3,235.9 369.4,239.3 369.5,240.7 369.6,237.9 369.7,235.7 369.8,241.3 369.9,239.4 370.0,232.4 370.1,235.8 370.2,239.4 370.3,235.6 370.5,238.2 370.6,235.7 370.7,242.1 370.8,241.5 370.9,240.8 371.0,243.7 371.1,238.2 371.2,238.3 371.3,245.2 371.4,236.4 371.5,242.6 371.6,237.1 371.7,241.5 371.8,246.6 371.9,241.3 372.1,238.2 372.2,246.8 372.3,238.5 372.4,239.6 372.5,241.2 372.6,237.0 372.7,244.3 372.8,246.1 372.9,244.0 373.0,242.9 373.1,241.8 373.2,244.9 373.3,235.6 373.4,242.7 373.5,243.9 373.7,237.6 373.8,244.0 373.9,242.1 374.0,241.9 374.1,242.5 374.2,244.1 374.3,244.0 374.4,240.2 374.5,242.7 374.6,241.9 374.7,242.0 374.8,240.8 374.9,245.7 375.0,246.6 375.1,247.2 375.2,248.3 375.4,247.3 375.5,242.3 375.6,241.9 375.7,242.5 375.8,245.1 375.9,243.4 376.0,246.4 376.1,248.0 376.2,242.5 376.3,246.5 376.4,243.3 376.5,241.5 376.6,241.9 376.7,244.7 376.8,240.6 377.0,246.9 377.1,249.5 377.2,242.6 377.3,244.8 377.4,249.8 377.5,246.6 377.6,246.3 377.7,245.3 377.8,248.9 377.9,247.3 378.0,243.8 378.1,240.4 378.2,240.1 378.3,248.7 378.4,246.5 378.5,251.0 378.7,248.5 378.8,243.9 378.9,247.8 379.0,249.9 379.1,244.4 379.2,245.4 379.3,251.2 379.4,242.7 379.5,244.7 379.6,250.4 379.7,248.2 379.8,244.6 379.9,243.4 380.0,247.9 380.1,249.8 380.3,248.9 380.4,247.9 380.5,250.8 380.6,248.2 380.7,245.9 380.8,253.5 380.9,245.5 381.0,248.1 381.1,248.2 381.2,251.9 381.3,246.5 381.4,247.8 381.5,244.1 381.6,249.4 381.7,249.8 381.9,250.5 382.0,246.9 382.1,250.0 382.2,246.6 382.3,246.8 382.4,248.3 382.5,252.2 382.6,248.1 382.7,249.8 382.8,247.7 382.9,248.6 383.0,248.5 383.1,249.7 383.2,251.8 383.3,247.0 383.4,251.3 383.6,247.2 383.7,250.6 383.8,248.8 383.9,249.7 384.0,249.7 384.1,253.2 384.2,251.0 384.3,252.8 384.4,249.3 384.5,249.6 384.6,254.0 384.7,246.2 384.8,248.3 384.9,250.4 385.0,255.6 385.2,250.2 385.3,253.5 385.4,254.1 385.5,248.6 385.6,250.0 385.7,255.6 385.8,250.2 385.9,248.8 386.0,252.9 386.1,249.6 386.2,253.8 386.3,252.2 386.4,247.0 386.5,252.0 386.6,251.7 386.8,250.7 386.9,255.4 387.0,249.1 387.1,250.4 387.2,252.0 387.3,254.8 387.4,249.2 387.5,251.1 387.6,250.6 387.7,248.6 387.8,251.0 387.9,249.3 388.0,251.3 388.1,253.4 388.2,250.9 388.3,250.8 388.5,250.0 388.6,249.9 388.7,248.5 388.8,249.7 388.9,252.8 389.0,250.5 389.1,258.4 389.2,250.7 389.3,253.9 389.4,250.0 389.5,253.4 389.6,253.0 389.7,253.7 389.8,256.5 389.9,253.0 390.1,250.9 390.2,254.3 390.3,251.2 390.4,252.1 390.5,256.7 390.6,255.9 390.7,255.8 390.8,254.3 390.9,253.4 391.0,250.6 391.1,253.3 391.2,253.5 391.3,256.3 391.4,257.0 391.5,255.6 391.6,252.6 391.8,258.3 391.9,257.3 392.0,253.8 392.1,254.9 392.2,256.1 392.3,255.2 392.4,255.1 392.5,256.7 392.6,255.9 392.7,256.4 392.8,252.2 392.9,251.9 393.0,259.2 393.1,252.2 393.2,256.6 393.4,256.2 393.5,255.9 393.6,253.8 393.7,257.3 393.8,255.6 393.9,254.0 394.0,251.7 394.1,254.5 394.2,254.0 394.3,252.8 394.4,256.6 394.5,257.3 394.6,258.1 394.7,256.7 394.8,255.8 395.0,258.4 395.1,257.1 395.2,260.0 395.3,256.2 395.4,253.2 395.5,257.5 395.6,260.6 395.7,256.5 395.8,255.8 395.9,255.2 396.0,260.5 396.1,256.2 396.2,256.1 396.3,257.4 396.4,253.8 396.5,256.1 396.7,253.8 396.8,256.1 396.9,257.3 397.0,258.1 397.1,255.4 397.2,258.1 397.3,255.7 397.4,253.2 397.5,257.7 397.7,255.8 397.8,255.7 398.0,249.5 398.1,255.6 398.3,255.4 398.4,255.0 398.6,257.7 398.7,255.9 398.9,261.2 399.0,258.6 399.2,258.7 399.3,252.8 399.5,253.8 399.6,260.6 399.8,258.0 399.9,259.1 400.1,256.8 400.2,257.7 400.4,259.5 400.5,256.8 400.7,260.8 400.8,255.6 401.0,257.8 401.1,256.7 401.3,257.9 401.4,260.0 401.6,255.6 401.7,258.6 401.9,257.9 402.0,259.5 402.2,257.7 402.3,256.5 402.5,258.3 402.6,259.8 402.8,258.8 402.9,257.7 403.1,258.5 403.2,254.9 403.4,257.1 403.5,257.9 403.7,257.5 403.8,257.3 404.0,258.5 404.1,259.3 404.3,262.2 404.4,257.1 404.6,256.8 404.7,260.5 404.9,258.9 405.0,256.9 405.2,261.6 405.3,258.3 405.5,258.3 405.6,258.1 405.7,257.7 405.9,259.7 406.0,257.5 406.2,263.7 406.3,259.4 406.5,258.0 406.6,257.0 406.8,258.9 406.9,260.4 407.1,259.3 407.2,257.0 407.4,259.2 407.5,256.7 407.7,262.7 407.8,261.3 408.0,260.4 408.1,260.7 408.3,259.3 408.4,260.2 408.6,262.1 408.7,259.8 408.9,260.3 409.0,259.0 409.2,258.7 409.3,258.6 409.5,259.8 409.6,257.2 409.8,258.9 409.9,255.7 410.1,255.2 410.2,253.6 410.4,255.4 410.5,252.3 410.7,255.7 410.8,251.8 411.0,255.8 411.1,254.0 411.3,259.6 411.4,256.7 411.6,259.3 411.7,257.3 411.9,257.3 412.0,259.4 412.2,256.1 412.3,257.3 412.5,262.5 412.6,258.5 412.8,261.8 412.9,259.0 413.1,257.7 413.2,259.9 413.4,262.1 413.5,260.3 413.7,259.6 413.8,261.6 414.0,258.8 414.1,261.6 414.2,260.9 414.4,258.6 414.5,262.2 414.7,262.8 414.8,260.6 415.0,261.3 415.1,260.6 415.3,259.0 415.4,262.0 415.6,258.4 415.7,260.9 415.9,259.0 416.0,258.2 416.2,261.1 416.3,260.4 416.5,262.9 416.6,259.4 416.8,259.8 416.9,259.9 417.1,259.5 417.2,262.4 417.4,263.0 417.5,261.8 417.7,259.1 417.8,261.6 418.0,260.6 418.1,259.4 418.3,257.7 418.4,262.0 418.6,262.4 418.7,260.8 418.9,261.2 419.0,263.8 419.2,264.2 419.3,261.4 419.5,256.9 419.6,263.0 419.8,262.1 419.9,263.0 420.1,260.8 420.2,259.9 420.4,262.3 420.5,260.7 420.7,261.2 420.8,261.8 421.0,261.2 421.1,258.4 421.3,261.7 421.4,259.8 421.6,260.1 421.7,261.1 421.9,257.9 422.0,260.0 422.2,257.6 422.3,260.0 422.4,261.9 422.6,261.6 422.7,261.7 422.9,263.3 423.0,261.7 423.2,259.7 423.3,264.0 423.5,262.4 423.6,263.1 423.8,260.9 423.9,260.9 424.1,260.5 424.2,258.8 424.4,261.3 424.5,260.9 424.7,264.1 424.8,258.3 425.0,261.6 425.1,261.7 425.3,262.1 425.4,262.2 425.6,262.8 425.7,263.2 425.9,258.5 426.0,263.3 426.2,262.4 426.3,261.1 426.5,259.5 426.6,259.3 426.8,261.8 426.9,259.8 427.1,259.4 427.2,260.0 427.4,260.4 427.5,259.4 427.7,258.7 427.8,260.0 428.0,261.3 428.1,260.3 428.3,263.5 428.4,264.2 428.6,264.3 428.7,261.7 428.9,261.6 429.0,260.6 429.2,264.3 429.3,261.4 429.5,265.4 429.6,258.6 429.8,261.6 429.9,261.5 430.1,260.5 430.2,261.2 430.4,263.9 430.5,261.3 430.6,262.6 430.8,260.8 430.9,259.5 431.1,259.7 431.2,263.0 431.4,262.6 431.5,260.2 431.7,263.2 431.8,263.7 432.0,263.4 432.1,264.4 432.3,260.6 432.4,261.5 432.6,261.1 432.7,262.6 432.9,264.2 433.0,261.3 433.2,262.3 433.3,263.2 433.5,261.5 433.6,263.8 433.8,262.6 433.9,265.5 434.1,265.0 434.2,262.1 434.4,261.9 434.5,265.5 434.7,261.4 434.8,264.5 435.0,262.2 435.1,261.1 435.3,265.5 435.4,263.1 435.6,260.3 435.7,262.4 435.9,262.5 436.0,261.7 436.2,262.4 436.3,264.6 436.5,261.1 436.6,263.7 436.8,260.4 436.9,262.3 437.1,259.9 437.2,259.7 437.4,261.2 437.5,264.1 437.7,263.8 437.8,262.2 438.0,261.8 438.1,262.2 438.3,265.6 438.4,261.9 438.6,261.2 438.7,260.9 438.8,261.6 439.0,263.4 439.1,263.2 439.3,258.5 439.4,265.5 439.6,263.4 439.7,262.4 439.9,266.2 440.0,260.0 440.2,260.5 440.3,264.1 440.5,262.6 440.6,264.1 440.8,264.9 440.9,266.1 441.1,264.4 441.2,262.2 441.4,260.3 441.5,262.5 441.7,259.4 441.8,262.0 442.0,260.9 442.1,262.8 442.3,263.3 442.4,262.1 442.6,260.1 442.7,262.6 442.9,261.7 443.0,263.5 443.2,262.6 443.3,266.6 443.5,262.2 443.6,259.9 443.8,261.0 443.9,262.2 444.1,265.8 444.2,263.9 444.4,261.1 444.5,262.1 444.7,260.3 444.8,259.8 445.0,263.0 445.1,262.0 445.3,260.3 445.4,260.6 445.6,262.5 445.7,262.9 445.9,260.4 446.0,258.4 446.2,261.7 446.3,258.7 446.5,256.8 446.6,259.0 446.8,259.5 446.9,261.3 447.1,259.7 447.2,261.1 447.3,258.6 447.5,261.2 447.6,259.2 447.8,263.4 447.9,263.1 448.1,260.9 448.2,262.3 448.4,265.6 448.5,261.4 448.7,260.3 448.8,262.0 449.0,262.4 449.1,263.3 449.3,261.9 449.4,261.4 449.6,261.6 449.7,263.0 449.9,261.6 450.0,261.7 450.2,257.5 450.3,260.8 450.5,262.3 450.6,263.8 450.8,263.0 450.9,262.7 451.1,264.1 451.2,262.5 451.4,265.5 451.5,260.9 451.7,262.9 451.8,265.5 452.0,264.3 452.1,264.3 452.3,265.7 452.4,263.5 452.6,264.1 452.7,264.1 452.9,266.4 453.0,263.7 453.2,265.8 453.3,262.4 453.5,262.5 453.6,259.5 453.8,262.8 453.9,259.4 454.1,263.6 454.2,264.3 454.4,263.7 454.5,261.5 454.7,262.3 454.8,258.7 455.0,261.1 455.1,262.2 455.3,261.8 455.4,261.3 455.5,263.6 455.7,261.8 455.8,260.7 456.0,260.6 456.1,258.4 456.3,259.7 456.4,256.9 456.6,255.7 456.7,258.8 456.9,260.3 457.0,256.3 457.2,257.9 457.3,253.3 457.5,255.2 457.6,254.0 457.8,252.8 457.9,248.7 458.1,251.2 458.2,250.2 458.4,248.8 458.5,251.6 458.7,245.6 458.8,246.8 459.0,249.4 459.1,244.8 459.3,246.8 459.4,252.2 459.6,251.0 459.7,251.8 459.9,255.6 460.0,252.9 460.2,255.5 460.3,254.3 460.5,255.9 460.6,254.0 460.8,259.5 460.9,260.0 461.1,259.6 461.2,258.9 461.4,260.4 461.5,262.8 461.7,262.8 461.8,260.9 462.0,262.4 462.1,261.6 462.3,262.6 462.4,260.9 462.6,264.4 462.7,261.4 462.9,261.1 463.0,262.9 463.2,264.4 463.3,259.4 463.5,261.4 463.6,261.8 463.7,264.2 463.9,258.5 464.0,262.1 464.2,259.6 464.3,260.3 464.5,262.1 464.6,261.0 464.8,259.6 464.9,261.3 465.1,260.9 465.2,261.9 465.4,260.5 465.5,260.8 465.7,261.3 465.8,261.7 466.0,261.3 466.1,262.1 466.3,262.5 466.4,262.2 466.6,260.9 466.7,259.5 466.9,260.3 467.0,260.3 467.2,260.5 467.3,261.8 467.5,259.8 467.6,257.8 467.8,256.5 467.9,257.8 468.1,257.5 468.2,256.2 468.4,255.3 468.5,257.1 468.7,257.9 468.8,256.7 469.0,252.7 469.1,253.0 469.3,251.9 469.4,249.1 469.6,249.4 469.7,246.8 469.9,248.2 470.0,242.6 470.2,245.2 470.3,241.2 470.5,237.3 470.6,235.5 470.8,238.3 470.9,234.7 471.1,237.8 471.2,237.7 471.4,244.4 471.5,242.4 471.7,243.8 471.8,239.8 472.0,246.6 472.1,246.0 472.2,248.3 472.4,244.3 472.5,245.4 472.7,249.7 472.8,245.3 473.0,247.4 473.1,249.3 473.3,248.7 473.4,250.0 473.6,253.5 473.7,251.1 473.9,253.6 474.0,252.3 474.2,250.9 474.3,253.0 474.5,255.1 474.6,252.1 474.8,250.8 474.9,251.5 475.1,251.1 475.2,253.0 475.4,250.3 475.5,253.4 475.7,252.1 475.8,253.3 476.0,249.9 476.1,252.3 476.3,248.7 476.4,251.7 476.6,250.2 476.7,248.6 476.9,252.2 477.0,253.2 477.2,253.2 477.3,249.5 477.5,245.6 477.6,246.6 477.8,240.6 477.9,241.9 478.1,235.4 478.2,236.8 478.4,234.7 478.5,231.1 478.7,233.9 478.8,230.6 479.0,232.5 479.1,233.8 479.3,235.4 479.4,233.2 479.6,241.1 479.7,244.9 479.9,244.4 480.0,248.3 480.2,246.7 480.3,251.8 480.4,252.7 480.6,253.6 480.7,253.4 480.9,255.6 481.0,254.0 481.2,255.6 481.3,258.3 481.5,257.3 481.6,258.4 481.8,259.1 481.9,261.1 482.1,259.1 482.2,259.8 482.4,260.1 482.5,259.2 482.7,262.1 482.8,259.4 483.0,261.3 483.1,264.1 483.3,261.1 483.4,256.8 483.6,259.8 483.7,264.6 483.9,262.2 484.0,264.5 484.2,260.9 484.3,258.8 484.5,262.5 484.6,261.8 484.8,262.5 484.9,261.0 485.1,261.2 485.2,262.1 485.4,261.8 485.5,264.3 485.7,264.7 485.8,262.2 486.0,262.9 486.1,261.9 486.3,263.3 486.4,261.7 486.6,265.4 486.7,263.4 486.9,265.8 487.0,266.0 487.2,265.1 487.3,264.5 487.5,262.5 487.6,264.4 487.8,263.9 487.9,264.3 488.1,263.5 488.2,262.2 488.4,262.9 488.5,265.7 488.6,266.6 488.8,264.3 488.9,264.4 489.1,264.8 489.2,264.6 489.4,264.8 489.5,264.1 489.7,264.6 489.8,263.6 490.0,264.0 490.1,264.9 490.3,262.8 490.4,260.6 490.6,263.4 490.7,263.3 490.9,263.8 491.0,263.3 491.2,264.9 491.3,265.5 491.5,264.5 491.6,264.0 491.8,265.7 491.9,265.2 492.1,262.5 492.2,265.1 492.4,264.5 492.5,262.7 492.7,263.0 492.8,263.2 493.0,263.1 493.1,264.4 493.3,263.0 493.4,263.4 493.6,264.1 493.7,262.2 493.9,263.9 494.0,263.2 494.2,264.3 494.3,264.5 494.5,265.1 494.6,265.5 494.8,263.9 494.9,264.9 495.1,262.0 495.2,264.8 495.4,263.4 495.5,264.5 495.7,261.4 495.8,265.6 496.0,263.8 496.1,264.6 496.3,264.2 496.4,263.7 496.6,263.1 496.7,261.3 496.8,264.4 497.0,264.4 497.1,262.2 497.3,265.2 497.4,264.9 497.6,264.7 497.7,264.6 497.9,265.6 498.0,264.0 498.2,264.0 498.3,263.5 498.5,263.1 498.6,263.4 498.8,264.9 498.9,265.1 499.1,263.3 499.2,264.1 499.4,264.0 499.5,262.3 499.7,266.1 499.8,263.6 500.0,266.5 500.1,262.0 500.3,263.5 500.4,264.9 500.6,264.0 500.7,263.3 500.9,261.7 501.0,263.5 501.2,260.1 501.3,260.1 501.5,258.6 501.6,258.8 501.8,262.3 501.9,263.0 502.1,259.6 502.2,261.8 502.4,264.5 502.5,263.3 502.7,264.6 502.8,261.5 503.0,264.2 503.1,264.1 503.3,264.0 503.4,262.9 503.6,263.6 503.7,265.9 503.9,262.9 504.0,264.5 504.2,264.5 504.3,264.5 504.5,266.8 504.6,266.4 504.8,264.2 504.9,265.6 505.1,264.3 505.2,265.8 505.3,265.0 505.5,267.2 505.6,265.8 505.8,263.6 505.9,262.2 506.1,262.4 506.2,265.9 506.4,262.3 506.5,262.0 506.7,263.2 506.8,263.6 507.0,264.9 507.1,263.2 507.3,266.0 507.4,263.8 507.6,263.8 507.7,264.7 507.9,262.6 508.0,262.3 508.2,262.4 508.3,260.5 508.5,260.8 508.6,262.2 508.8,259.7 508.9,258.9 509.1,259.5 509.2,257.5 509.4,256.2 509.5,254.0 509.7,259.5 509.8,257.4 510.0,258.2 510.1,259.4 510.3,259.5 510.4,261.1 510.6,265.0 510.7,261.3 510.9,266.5 511.0,262.7 511.2,262.8 511.3,265.9 511.5,267.0 511.6,264.7 511.8,266.5 511.9,264.6 512.1,264.7 512.2,263.8 512.4,264.5 512.5,263.4 512.7,264.4 512.8,263.8 513.0,264.1 513.1,264.2 513.3,263.5 513.4,264.0 513.5,263.4 513.7,265.6 513.8,266.0 514.0,264.6 514.1,264.3 514.3,263.6 514.4,263.4 514.6,264.1 514.7,262.3 514.9,262.8 515.0,264.4 515.2,265.2 515.3,262.4 515.5,263.2 515.6,264.0 515.8,263.5 515.9,266.4 516.1,263.7 516.2,263.6 516.4,261.7 516.5,261.6 516.7,262.7 516.8,262.9 517.0,261.7 517.1,262.0 517.3,262.6 517.4,263.8 517.6,260.9 517.7,264.1 517.9,262.2 518.0,263.9 518.2,264.3 518.3,261.6 518.5,264.8 518.6,263.8 518.8,263.5 518.9,266.6 519.1,263.5 519.2,263.5 519.4,265.5 519.5,265.8 519.7,265.1 519.8,266.2 520.0,263.0 520.1,267.0 520.3,266.0 520.4,264.5 520.6,264.2 520.7,265.8 520.9,265.3 521.0,263.9 521.2,264.7 521.3,264.5 521.5,265.4 521.6,262.9 521.7,265.1 521.9,264.3 522.0,264.6 522.2,265.4 522.3,264.5 522.5,264.1 522.6,264.3 522.8,267.0 522.9,263.5 523.1,266.1 523.2,263.7 523.4,265.4 523.5,263.1 523.7,264.8 523.8,264.9 524.0,265.5 524.1,264.1 524.3,265.1 524.4,266.4 524.6,263.2 524.7,266.0 524.9,263.5 525.0,265.7 525.2,264.1 525.3,266.0 525.5,263.6 525.6,263.0 525.8,265.2 525.9,264.3 526.1,264.4 526.2,265.6 526.4,266.7 526.5,266.4 526.7,263.4 526.8,265.4 527.0,265.0 527.1,266.2 527.3,267.0 527.4,267.1 527.6,266.6 527.7,268.3 527.9,265.8 528.0,265.2 528.2,264.4 528.3,265.3 528.5,266.5 528.6,265.7 528.8,267.4 528.9,265.9 529.1,265.3 529.2,267.5 529.4,265.4 529.5,266.8 529.7,263.1 529.8,264.2 529.9,265.2 530.1,264.6 530.2,266.1 530.4,265.9 530.5,266.0 530.7,264.5 530.8,264.0 531.0,263.8 531.1,266.0 531.3,264.0 531.4,265.4 531.6,263.3 531.7,262.4 531.9,263.7 532.0,264.1 532.2,260.3 532.3,260.9 532.5,261.6 532.6,259.8 532.8,258.8 532.9,259.2 533.1,257.5 533.2,256.5 533.4,253.8 533.5,252.5 533.7,247.9 533.8,248.4 534.0,237.7 534.1,242.3 534.3,244.5 534.4,243.6 534.6,249.9 534.7,250.8 534.9,255.9 535.0,259.4 535.2,258.2 535.3,262.9 535.5,260.9 535.6,258.5 535.8,261.5 535.9,262.5 536.1,263.0 536.2,262.6 536.4,263.1 536.5,262.9 536.7,264.9 536.8,264.3 537.0,264.6 537.1,267.3 537.3,264.3 537.4,263.9 537.6,265.3 537.7,263.4 537.9,267.2 538.0,266.8 538.2,269.8 538.3,266.3 538.4,265.6 538.6,267.1 538.7,266.7 538.9,266.8 539.0,265.7 539.2,265.8 539.3,266.9 539.5,266.2 539.6,266.9 539.8,267.3 539.9,265.7 540.1,266.8 540.2,264.1 540.4,268.0 540.5,268.0 540.7,266.4 540.8,265.6 541.0,265.6 541.1,265.6 541.3,265.2 541.4,264.7 541.6,265.8 541.7,266.9 541.9,263.5 542.0,264.9 542.2,264.6 542.3,264.4 542.5,265.6 542.6,263.2 542.8,265.9 542.9,267.6 543.1,267.1 543.2,266.6 543.4,265.7 543.5,265.6 543.7,264.7 543.8,265.4 544.0,266.1 544.1,267.5 544.3,267.4 544.4,267.5 544.6,264.9 544.7,266.7 544.9,266.6 545.0,266.1 545.2,265.7 545.3,267.4 545.5,266.3 545.6,265.3 545.8,264.5 545.9,264.9 546.1,264.9 546.2,265.8 546.4,267.0 546.5,265.3 546.6,263.3 546.8,266.1 546.9,266.2 547.1,264.6 547.2,264.2 547.4,265.3 547.5,265.3 547.7,264.2 547.8,266.0 548.0,264.8 548.1,265.1 548.3,264.0 548.4,266.0 548.6,264.8 548.7,264.7 548.9,260.9 549.0,260.9 549.2,263.0 549.3,262.4 549.5,259.8 549.6,258.7 549.8,259.4 549.9,257.3 550.1,258.7 550.2,257.5 550.4,259.3 550.5,263.2 550.7,261.3 550.8,263.3 551.0,261.5 551.1,264.9 551.3,265.2 551.4,268.4 551.6,265.1 551.7,265.9 551.9,266.8 552.0,266.0 552.2,264.6 552.3,266.3 552.5,262.3 552.6,265.8 552.8,264.5 552.9,264.4 553.1,263.8 553.2,265.1 553.4,263.4 553.5,264.7 553.7,266.5 553.8,263.6 554.0,264.2 554.1,263.0 554.3,261.7 554.4,263.5 554.6,263.6 554.7,260.1 554.8,260.1 555.0,259.0 555.1,258.0 555.3,260.9 555.4,258.0 555.6,263.2 555.7,261.2 555.9,264.5 556.0,263.5 556.2,263.4 556.3,262.1 556.5,262.9 556.6,265.3 556.8,263.9 556.9,265.9 557.1,263.9 557.2,266.8 557.4,265.8 557.5,266.2 557.7,264.6 557.8,265.1 558.0,266.3 558.1,266.2 558.3,265.3 558.4,266.7 558.6,265.1 558.7,269.0 558.9,267.5 559.0,266.3 559.2,266.3 559.3,265.3 559.5,266.1 559.6,263.3 559.8,265.8 559.9,266.7 560.1,262.0 560.2,264.1 560.4,262.9 560.5,264.7 560.7,265.4 560.8,268.0 561.0,265.5 561.1,267.5 561.3,267.2 561.4,266.0 561.6,266.3 561.7,263.6 561.9,265.2 562.0,262.9 562.2,265.6 562.3,266.8 562.5,264.4 562.6,265.4 562.8,264.3 562.9,263.3 563.1,265.8 563.2,266.4 563.3,267.4 563.5,266.1 563.6,266.9 563.8,268.0 563.9,266.9 564.1,264.4 564.2,265.5 564.4,266.7 564.5,268.0 564.7,266.3 564.8,267.0 565.0,266.7 565.1,267.8 565.3,266.3 565.4,266.3 565.6,263.7 565.7,264.1 565.9,262.3 566.0,262.9 566.2,264.5 566.3,265.6 566.5,265.8 566.6,265.3 566.8,267.6 566.9,264.0 567.1,265.6 567.2,267.1 567.4,265.8 567.5,265.9 567.7,267.6 567.8,266.4 568.0,266.7 568.1,267.0 568.3,269.6 568.4,266.1 568.6,266.4 568.7,269.2 568.9,267.2 569.0,266.9 569.2,265.6 569.3,268.0 569.5,267.7 569.6,268.4 569.8,266.2 569.9,266.1 570.1,266.9 570.2,263.9 570.4,266.6 570.5,265.0 570.7,266.0 570.8,265.5 571.0,268.4 571.1,266.2 571.3,268.2 571.4,266.0 571.5,266.8 571.7,265.1 571.8,266.9 572.0,268.5 572.1,266.9 572.3,269.6 572.4,267.7 572.6,266.6 572.7,267.3 572.9,266.2 573.0,266.9 573.2,266.0 573.3,264.6 573.5,267.6 573.6,265.9 573.8,264.5 573.9,265.6 574.1,262.7 574.2,262.6 574.4,262.3 574.5,261.9 574.7,260.2 574.8,262.7 575.0,261.0 575.1,263.9 575.3,265.1 575.4,265.9 575.6,263.9 575.7,267.9 575.9,269.3 576.0,267.2 576.2,265.4 576.3,267.9 576.5,268.1 576.6,267.5 576.8,269.7 576.9,269.9 577.1,266.4 577.2,266.0 577.4,267.1 577.5,268.0 577.7,265.6 577.8,266.2 578.0,266.8 578.1,266.2 578.3,266.7 578.4,267.9 578.6,265.9 578.7,267.7 578.9,267.3 579.0,267.4 579.2,266.4 579.3,268.1 579.5,268.2 579.6,266.4 579.7,268.0 579.9,268.4 580.0,268.1 580.2,267.4 580.3,268.4 580.5,269.0 580.6,268.4 580.8,267.3 580.9,267.2 581.1,268.1 581.2,267.7 581.4,267.8 581.5,265.4 581.7,266.8 581.8,268.4 582.0,267.3 582.1,268.4 582.3,267.4 582.4,268.8 582.6,268.9 582.7,266.6 582.9,269.4 583.0,267.7 583.2,266.5 583.3,266.3 583.5,264.2 583.6,266.9 583.8,266.8 583.9,266.2 584.1,267.0 584.2,266.1 584.4,265.0 584.5,265.9 584.7,267.9 584.8,266.5 585.0,266.8 585.1,265.2 585.3,266.2 585.4,267.3 585.6,268.1 585.7,266.1 585.9,266.2 586.0,267.1 586.2,268.6 586.3,267.2 586.5,266.7 586.6,266.8 586.8,266.7 586.9,266.2 587.1,267.6 587.2,268.5 587.4,266.3 587.5,263.8 587.7,262.7 587.8,266.3 587.9,261.4 588.1,266.0 588.2,263.7 588.4,263.2 588.5,264.9 588.7,264.5 588.8,266.9 589.0,264.7 589.1,265.6 589.3,264.5 589.4,265.8 589.6,266.4 589.7,264.7 589.9,264.9 590.0,268.1 590.2,268.0 590.3,267.7 590.5,266.5 590.6,266.2 590.8,266.5 590.9,267.4 591.1,265.9 591.2,265.6 591.4,267.0 591.5,268.7 591.7,269.3 591.8,267.7 592.0,268.8 592.1,268.2 592.3,268.2 592.4,267.7 592.6,267.0 592.7,266.8 592.9,267.2 593.0,268.1 593.2,264.8 593.3,265.6 593.5,265.2 593.6,267.6 593.8,269.9 593.9,267.9 594.1,265.9 594.2,267.6 594.4,269.2 594.5,266.3 594.7,264.9 594.8,265.2 595.0,267.9 595.1,265.3 595.3,268.9 595.4,264.5 595.6,266.7 595.7,265.1 595.9,267.1 596.0,266.4 596.2,263.7 596.3,261.0 596.4,262.7 596.6,267.0 596.7,266.0 596.9,266.5 597.0,266.9 597.2,266.1 597.3,264.9 597.5,265.0 597.6,265.2 597.8,265.3 597.9,265.1 598.1,267.7 598.2,266.2 598.4,264.5 598.5,264.8 598.7,263.7 598.8,264.0 599.0,266.7 599.1,265.1 599.3,260.8 599.4,265.3 599.6,261.6 599.7,259.4 599.9,263.9 600.0,263.0 600.2,263.7 600.3,265.7 600.5,265.3 600.6,265.0 600.8,265.4 600.9,265.8 601.1,266.2 601.2,265.4 601.4,268.7 601.5,268.1 601.7,268.2 601.8,269.1 602.0,267.2 602.1,267.1 602.3,267.7 602.4,266.4 602.6,265.7 602.7,266.0 602.9,269.8 603.0,266.2 603.2,269.2 603.3,266.2 603.5,267.7 603.6,266.9 603.8,265.9 603.9,266.5 604.1,269.4 604.2,265.9 604.4,264.9 604.5,267.2 604.6,266.3 604.8,266.3 604.9,265.2 605.1,267.5 605.2,267.0 605.4,262.8 605.5,265.4 605.7,264.6 605.8,265.0 606.0,264.4 606.1,265.6 606.3,266.2 606.4,264.9 606.6,266.1 606.7,266.3 606.9,265.7 607.0,266.3 607.2,266.8 607.3,267.7 607.5,265.7 607.6,266.3 607.8,267.6 607.9,268.3 608.1,265.4 608.2,267.4 608.4,266.9 608.5,266.5 608.7,266.2 608.8,268.9 609.0,267.9 609.1,266.4 609.3,267.4 609.4,266.4 609.6,265.0 609.7,267.2 609.9,266.9 610.0,267.2 610.2,264.0 610.3,266.4 610.5,266.9 610.6,266.8 610.8,268.3 610.9,267.7 611.1,266.8 611.2,269.0 611.4,267.9 611.5,267.8 611.7,267.3 611.8,268.8 612.0,268.5 612.1,265.1 612.3,266.7 612.4,268.2 612.6,269.0 612.7,268.7 612.8,268.2 613.0,269.8 613.1,267.6 613.3,268.1 613.4,267.9 613.6,268.1 613.7,267.2 613.9,268.1 614.0,269.1 614.2,269.2 614.3,268.6 614.5,267.9 614.6,266.8 614.8,267.6 614.9,266.9 615.1,267.3 615.2,268.1 615.4,267.2 615.5,269.1 615.7,269.8 615.8,266.8 616.0,267.9 616.1,267.6 616.3,269.4 616.4,267.6 616.6,267.9 616.7,267.8 616.9,266.1 617.0,265.5 617.2,268.3 617.3,268.7 617.5,268.3 617.6,268.1 617.8,266.4 617.9,266.4 618.1,267.4 618.2,268.4 618.4,267.4 618.5,267.4 618.7,268.2 618.8,269.4 619.0,265.9 619.1,267.2 619.3,265.7 619.4,265.5 619.6,268.9 619.7,266.8 619.9,268.2 620.0,268.8 620.2,268.2 620.3,266.4 620.5,268.0 620.6,266.8 620.8,265.4 620.9,266.9 621.1,267.6 621.2,269.2 621.3,267.9 621.5,267.3 621.6,267.9 621.8,267.8 621.9,267.9 622.1,268.2 622.2,266.3 622.4,266.4 622.5,268.2 622.7,266.5 622.8,268.1 623.0,265.2 623.1,267.6 623.3,266.8 623.4,267.5 623.6,268.1 623.7,265.6 623.9,266.1 624.0,267.8 624.2,266.6 624.3,268.2 624.5,268.1 624.6,267.3 624.8,269.7 624.9,269.6 625.1,269.2 625.2,267.8 625.4,267.3 625.5,265.9 625.7,265.0 625.8,266.5 626.0,267.4 626.1,266.2 626.3,267.0 626.4,265.9 626.6,266.2 626.7,266.6 626.9,268.7 627.0,266.5 627.2,267.1 627.3,268.7 627.5,269.0 627.6,268.8 627.8,271.0 627.9,267.8 628.1,267.7 628.2,267.5 628.4,268.3 628.5,270.8 628.7,270.3 628.8,269.0 629.0,270.9 629.1,268.4 629.3,271.1 629.4,268.5 629.5,269.4 629.7,266.7 629.8,267.7 630.0,266.6 630.1,266.5 630.3,266.6 630.4,264.0 630.6,263.0 630.7,266.9 630.9,265.5 631.0,264.9 631.2,268.1 631.3,268.0 631.5,268.5 631.6,267.9 631.8,269.0 631.9,269.0 632.1,267.5 632.2,267.9 632.4,265.4 632.5,267.5 632.7,267.1 632.8,267.1 633.0,269.5 633.1,266.4 633.3,269.1 633.4,267.5 633.6,270.1 633.7,268.8 633.9,269.1 634.0,267.3 634.2,265.4 634.3,269.1 634.5,266.2 634.6,265.0 634.8,267.3 634.9,269.2 635.1,267.9 635.2,267.6 635.4,268.8 635.5,269.0 635.7,269.0 635.8,267.7 636.0,268.1 636.1,268.7 636.3,270.4 636.4,269.7 636.6,267.7 636.7,268.6 636.9,268.7 637.0,266.7 637.2,264.2 637.3,266.7 637.5,265.6 637.6,266.7 637.7,267.1 637.9,267.1 638.0,267.2 638.2,268.5 638.3,267.1 638.5,266.3 638.6,265.7 638.8,268.9 638.9,266.8 639.1,267.9 639.2,267.9 639.4,268.6 639.5,268.6 639.7,267.8 639.8,268.0 640.0,269.1 640.1,264.4 640.3,267.2 640.4,267.1 640.6,267.5 640.7,269.2 640.9,266.5 641.0,265.7 641.2,265.8 641.3,267.7 641.5,267.4 641.6,267.4 641.8,269.9 641.9,269.4 642.1,264.9 642.2,265.5 642.4,268.2 642.5,267.0 642.7,268.4 642.8,268.8 643.0,268.1 643.1,267.8 643.3,266.7 643.4,268.8 643.6,269.1 643.7,266.1 643.9,266.7 644.0,267.6 644.2,267.3 644.3,268.3 644.5,266.0 644.6,267.0 644.8,267.3 644.9,267.3 645.1,268.4 645.2,267.9 645.4,268.6 645.5,267.0 645.7,266.8 645.8,268.6 645.9,268.6 646.1,267.0 646.2,266.8 646.4,267.9 646.5,268.6 646.7,266.8 646.8,270.2 647.0,269.3 647.1,268.6 647.3,268.8 647.4,266.9 647.6,265.8 647.7,267.1 647.9,268.2 648.0,268.1 648.2,266.6 648.3,267.2 648.5,267.6 648.6,265.8 648.8,265.3 648.9,263.7 649.1,267.1 649.2,266.6 649.4,268.8 649.5,267.8 649.7,267.8 649.8,265.9 650.0,269.6 650.1,270.5 650.3,266.1 650.4,267.1 650.6,264.9 650.7,267.0 650.9,267.7 651.0,267.9 651.2,265.4 651.3,269.0 651.5,268.1 651.6,265.5 651.8,266.9 651.9,268.1 652.1,268.7 652.2,270.7 652.4,267.2 652.5,267.2 652.7,267.0 652.8,266.9 653.0,267.4 653.1,268.0 653.3,269.8 653.4,269.5 653.6,268.7 653.7,266.9 653.9,267.5 654.0,267.4 654.2,268.0 654.3,266.6 654.4,267.0 654.6,268.6 654.7,269.3 654.9,267.8 655.0,269.8 655.2,265.5 655.3,268.3 655.5,267.8 655.6,269.3 655.8,268.3 655.9,268.6 656.1,268.7 656.2,267.8 656.4,268.6 656.5,267.6 656.7,267.1 656.8,268.1 657.0,269.3 657.1,268.6 657.3,268.0 657.4,266.4 657.6,266.8 657.7,268.1 657.9,267.9 658.0,268.5 658.2,266.6 658.3,266.1 658.5,268.1 658.6,267.4 658.8,271.8 658.9,268.1 659.1,269.8 659.2,270.8 659.4,267.4 659.5,264.4 659.7,265.6 659.8,265.1 660.0,265.0 660.1,269.7 660.3,268.9 660.4,269.1 660.6,267.4 660.7,268.5 660.9,267.7 661.0,267.5 661.2,267.1 661.3,268.4 661.5,267.6 661.6,267.5 661.8,267.2 661.9,265.7 662.1,268.1 662.2,267.9 662.4,269.9 662.5,266.0 662.6,267.1 662.8,268.3 662.9,268.6 663.1,268.9 663.2,268.3 663.4,267.5 663.5,268.1 663.7,270.0 663.8,268.9 664.0,266.4 664.1,267.2 664.3,266.1 664.4,266.9 664.6,269.2 664.7,269.7 664.9,267.5 665.0,269.0 665.2,267.0 665.3,269.4 665.5,267.9 665.6,268.2 665.8,267.7 665.9,268.1 666.1,270.7 666.2,268.8 666.4,268.8 666.5,267.5 666.7,267.5 666.8,267.5 667.0,266.9 667.1,268.8 667.3,267.0 667.4,269.1 667.6,270.2 667.7,267.2 667.9,262.7 668.0,268.0 668.2,267.3 668.3,267.8 668.5,267.5 668.6,267.0 668.8,266.8 668.9,267.4 669.1,267.6 669.2,267.7 669.4,266.6 669.5,270.3 669.7,268.7 669.8,268.3 670.0,268.0 670.1,268.6 670.3,268.2 670.4,268.0 670.6,267.0 670.7,268.7 670.8,267.9 671.0,267.8 671.1,267.2 671.3,267.8 671.4,267.7 671.6,267.7 671.7,269.5 671.9,269.1 672.0,268.8 672.2,269.6 672.3,267.4 672.5,270.1 672.6,268.5 672.8,268.1 672.9,269.6 673.1,267.4 673.2,268.7 673.4,267.4 673.5,266.7 673.7,267.8 673.8,268.9 674.0,267.3 674.1,268.7 674.3,268.0"/>
<line x1="8.2" y1="267.8" x2="328.4" y2="267.8" stroke="#222" stroke-width="1.4"/>
<line x1="8.20" y1="267.8" x2="8.20" y2="270.40000000000003" stroke="#222" stroke-width="1"/>
<line x1="15.31" y1="267.8" x2="15.31" y2="270.40000000000003" stroke="#222" stroke-width="1"/>
<line x1="22.42" y1="267.8" x2="22.42" y2="270.40000000000003" stroke="#222" stroke-width="1"/>
<line x1="29.54" y1="267.8" x2="29.54" y2="272.8" stroke="#222" stroke-width="1"/>
<line x1="36.65" y1="267.8" x2="36.65" y2="270.40000000000003" stroke="#222" stroke-width="1"/>
<line x1="43.76" y1="267.8" x2="43.76" y2="270.40000000000003" stroke="#222" stroke-width="1"/>
<line x1="50.87" y1="267.8" x2="50.87" y2="270.40000000000003" stroke="#222" stroke-width="1"/>
<line x1="57.98" y1="267.8" x2="57.98" y2="270.40000000000003" stroke="#222" stroke-width="1"/>
<line x1="65.09" y1="267.8" x2="65.09" y2="270.40000000000003" stroke="#222" stroke-width="1"/>
<line x1="72.21" y1="267.8" x2="72.21" y2="272.8" stroke="#222" stroke-width="1"/>
<line x1="79.32" y1="267.8" x2="79.32" y2="270.40000000000003" stroke="#222" stroke-width="1"/>
<line x1="86.43" y1="267.8" x2="86.43" y2="270.40000000000003" stroke="#222" stroke-width="1"/>
<line x1="93.54" y1="267.8" x2="93.54" y2="270.40000000000003" stroke="#222" stroke-width="1"/>
<line x1="100.65" y1="267.8" x2="100.65" y2="270.40000000000003" stroke="#222" stroke-width="1"/>
<line x1="107.76" y1="267.8" x2="107.76" y2="270.40000000000003" stroke="#222" stroke-width="1"/>
<line x1="114.88" y1="267.8" x2="114.88" y2="272.8" stroke="#222" stroke-width="1"/>
<line x1="121.99" y1="267.8" x2="121.99" y2="270.40000000000003" stroke="#222" stroke-width="1"/>
<line x1="129.10" y1="267.8" x2="129.10" y2="270.40000000000003" stroke="#222" stroke-width="1"/>
<line x1="136.21" y1="267.8" x2="136.21" y2="270.40000000000003" stroke="#222" stroke-width="1"/>
<line x1="143.32" y1="267.8" x2="143.32" y2="270.40000000000003" stroke="#222" stroke-width="1"/>
<line x1="150.43" y1="267.8" x2="150.43" y2="270.40000000000003" stroke="#222" stroke-width="1"/>
<line x1="157.54" y1="267.8" x2="157.54" y2="272.8" stroke="#222" stroke-width="1"/>
<line x1="164.66" y1="267.8" x2="164.66" y2="270.40000000000003" stroke="#222" stroke-width="1"/>
<line x1="171.77" y1="267.8" x2="171.77" y2="270.40000000000003" stroke="#222" stroke-width="1"/>
<line x1="178.88" y1="267.8" x2="178.88" y2="270.40000000000003" stroke="#222" stroke-width="1"/>
<line x1="185.99" y1="267.8" x2="185.99" y2="270.40000000000003" stroke="#222" stroke-width="1"/>
<line x1="193.10" y1="267.8" x2="193.10" y2="270.40000000000003" stroke="#222" stroke-width="1"/>
<line x1="200.22" y1="267.8" x2="200.22" y2="272.8" stroke="#222" stroke-width="1"/>
<line x1="207.33" y1="267.8" x2="207.33" y2="270.40000000000003" stroke="#222" stroke-width="1"/>
<line x1="214.44" y1="267.8" x2="214.44" y2="270.40000000000003" stroke="#222" stroke-width="1"/>
<line x1="221.55" y1="267.8" x2="221.55" y2="270.40000000000003" stroke="#222" stroke-width="1"/>
<line x1="228.66" y1="267.8" x2="228.66" y2="270.40000000000003" stroke="#222" stroke-width="1"/>
<line x1="235.77" y1="267.8" x2="235.77" y2="270.40000000000003" stroke="#222" stroke-width="1"/>
<line x1="242.89" y1="267.8" x2="242.89" y2="272.8" stroke="#222" stroke-width="1"/>
<line x1="250.00" y1="267.8" x2="250.00" y2="270.40000000000003" stroke="#222" stroke-width="1"/>
<line x1="257.11" y1="267.8" x2="257.11" y2="270.40000000000003" stroke="#222" stroke-width="1"/>
<line x1="264.22" y1="267.8" x2="264.22" y2="270.40000000000003" stroke="#222" stroke-width="1"/>
<line x1="271.33" y1="267.8" x2="271.33" y2="270.40000000000003" stroke="#222" stroke-width="1"/>
<line x1="278.44" y1="267.8" x2="278.44" y2="270.40000000000003" stroke="#222" stroke-width="1"/>
<line x1="285.56" y1="267.8" x2="285.56" y2="272.8" stroke="#222" stroke-width="1"/>
<line x1="292.67" y1="267.8" x2="292.67" y2="270.40000000000003" stroke="#222" stroke-width="1"/>
<line x1="299.78" y1="267.8" x2="299.78" y2="270.40000000000003" stroke="#222" stroke-width="1"/>
<line x1="306.89" y1="267.8" x2="306.89" y2="270.40000000000003" stroke="#222" stroke-width="1"/>
<line x1="314.00" y1="267.8" x2="314.00" y2="270.40000000000003" stroke="#222" stroke-width="1"/>
<line x1="321.11" y1="267.8" x2="321.11" y2="270.40000000000003" stroke="#222" stroke-width="1"/>
<line x1="328.23" y1="267.8" x2="328.23" y2="272.8" stroke="#222" stroke-width="1"/>
<line x1="8.6" y1="267.8" x2="8.6" y2="270.40000000000003" stroke="#222" stroke-width="1"/>
<line x1="354.8" y1="270.5" x2="674.6" y2="270.5" stroke="#222" stroke-width="1.1"/>
<line x1="354.80" y1="270.5" x2="354.80" y2="272.5" stroke="#222" stroke-width="1"/>
<line x1="361.90" y1="270.5" x2="361.90" y2="272.5" stroke="#222" stroke-width="1"/>
<line x1="369.00" y1="270.5" x2="369.00" y2="272.5" stroke="#222" stroke-width="1"/>
<line x1="376.10" y1="270.5" x2="376.10" y2="274.7" stroke="#222" stroke-width="1"/>
<line x1="383.20" y1="270.5" x2="383.20" y2="272.5" stroke="#222" stroke-width="1"/>
<line x1="390.30" y1="270.5" x2="390.30" y2="272.5" stroke="#222" stroke-width="1"/>
<line x1="397.40" y1="270.5" x2="397.40" y2="272.5" stroke="#222" stroke-width="1"/>
<line x1="404.50" y1="270.5" x2="404.50" y2="272.5" stroke="#222" stroke-width="1"/>
<line x1="411.60" y1="270.5" x2="411.60" y2="272.5" stroke="#222" stroke-width="1"/>
<line x1="418.70" y1="270.5" x2="418.70" y2="274.7" stroke="#222" stroke-width="1"/>
<line x1="425.80" y1="270.5" x2="425.80" y2="272.5" stroke="#222" stroke-width="1"/>
<line x1="432.90" y1="270.5" x2="432.90" y2="272.5" stroke="#222" stroke-width="1"/>
<line x1="440.00" y1="270.5" x2="440.00" y2="272.5" stroke="#222" stroke-width="1"/>
<line x1="447.10" y1="270.5" x2="447.10" y2="272.5" stroke="#222" stroke-width="1"/>
<line x1="454.20" y1="270.5" x2="454.20" y2="272.5" stroke="#222" stroke-width="1"/>
<line x1="461.30" y1="270.5" x2="461.30" y2="274.7" stroke="#222" stroke-width="1"/>
<line x1="468.40" y1="270.5" x2="468.40" y2="272.5" stroke="#222" stroke-width="1"/>
<line x1="475.50" y1="270.5" x2="475.50" y2="272.5" stroke="#222" stroke-width="1"/>
<line x1="482.60" y1="270.5" x2="482.60" y2="272.5" stroke="#222" stroke-width="1"/>
<line x1="489.70" y1="270.5" x2="489.70" y2="272.5" stroke="#222" stroke-width="1"/>
<line x1="496.80" y1="270.5" x2="496.80" y2="272.5" stroke="#222" stroke-width="1"/>
<line x1="503.90" y1="270.5" x2="503.90" y2="274.7" stroke="#222" stroke-width="1"/>
<line x1="511.00" y1="270.5" x2="511.00" y2="272.5" stroke="#222" stroke-width="1"/>
<line x1="518.10" y1="270.5" x2="518.10" y2="272.5" stroke="#222" stroke-width="1"/>
<line x1="525.20" y1="270.5" x2="525.20" y2="272.5" stroke="#222" stroke-width="1"/>
<line x1="532.30" y1="270.5" x2="532.30" y2="272.5" stroke="#222" stroke-width="1"/>
<line x1="539.40" y1="270.5" x2="539.40" y2="272.5" stroke="#222" stroke-width="1"/>
<line x1="546.50" y1="270.5" x2="546.50" y2="274.7" stroke="#222" stroke-width="1"/>
<line x1="553.60" y1="270.5" x2="553.60" y2="272.5" stroke="#222" stroke-width="1"/>
<line x1="560.70" y1="270.5" x2="560.70" y2="272.5" stroke="#222" stroke-width="1"/>
<line x1="567.80" y1="270.5" x2="567.80" y2="272.5" stroke="#222" stroke-width="1"/>
<line x1="574.90" y1="270.5" x2="574.90" y2="272.5" stroke="#222" stroke-width="1"/>
<line x1="582.00" y1="270.5" x2="582.00" y2="272.5" stroke="#222" stroke-width="1"/>
<line x1="589.10" y1="270.5" x2="589.10" y2="274.7" stroke="#222" stroke-width="1"/>
<line x1="596.20" y1="270.5" x2="596.20" y2="272.5" stroke="#222" stroke-width="1"/>
<line x1="603.30" y1="270.5" x2="603.30" y2="272.5" stroke="#222" stroke-width="1"/>
<line x1="610.40" y1="270.5" x2="610.40" y2="272.5" stroke="#222" stroke-width="1"/>
<line x1="617.50" y1="270.5" x2="617.50" y2="272.5" stroke="#222" stroke-width="1"/>
<line x1="624.60" y1="270.5" x2="624.60" y2="272.5" stroke="#222" stroke-width="1"/>
<line x1="631.70" y1="270.5" x2="631.70" y2="274.7" stroke="#222" stroke-width="1"/>
<line x1="638.80" y1="270.5" x2="638.80" y2="272.5" stroke="#222" stroke-width="1"/>
<line x1="645.90" y1="270.5" x2="645.90" y2="272.5" stroke="#222" stroke-width="1"/>
<line x1="653.00" y1="270.5" x2="653.00" y2="272.5" stroke="#222" stroke-width="1"/>
<line x1="660.10" y1="270.5" x2="660.10" y2="272.5" stroke="#222" stroke-width="1"/>
<line x1="667.20" y1="270.5" x2="667.20" y2="272.5" stroke="#222" stroke-width="1"/>
<line x1="674.30" y1="270.5" x2="674.30" y2="274.7" stroke="#222" stroke-width="1"/>
<line x1="355.2" y1="270.5" x2="355.2" y2="272.5" stroke="#222" stroke-width="1"/>
<text x="29.5" y="284.0" font-family="Liberation Sans, sans-serif" font-size="10" text-anchor="middle" fill="#111">10</text>
<text x="376.1" y="284.9" font-family="Liberation Sans, sans-serif" font-size="9.6" text-anchor="middle" fill="#111">10</text>
<text x="72.2" y="284.0" font-family="Liberation Sans, sans-serif" font-size="10" text-anchor="middle" fill="#111">20</text>
<text x="418.7" y="284.9" font-family="Liberation Sans, sans-serif" font-size="9.6" text-anchor="middle" fill="#111">20</text>
<text x="114.9" y="284.0" font-family="Liberation Sans, sans-serif" font-size="10" text-anchor="middle" fill="#111">30</text>
<text x="461.3" y="284.9" font-family="Liberation Sans, sans-serif" font-size="9.6" text-anchor="middle" fill="#111">30</text>
<text x="157.5" y="284.0" font-family="Liberation Sans, sans-serif" font-size="10" text-anchor="middle" fill="#111">40</text>
<text x="503.9" y="284.9" font-family="Liberation Sans, sans-serif" font-size="9.6" text-anchor="middle" fill="#111">40</text>
<text x="200.2" y="284.0" font-family="Liberation Sans, sans-serif" font-size="10" text-anchor="middle" fill="#111">50</text>
<text x="546.5" y="284.9" font-family="Liberation Sans, sans-serif" font-size="9.6" text-anchor="middle" fill="#111">50</text>
<text x="242.9" y="284.0" font-family="Liberation Sans, sans-serif" font-size="10" text-anchor="middle" fill="#111">60</text>
<text x="589.1" y="284.9" font-family="Liberation Sans, sans-serif" font-size="9.6" text-anchor="middle" fill="#111">60</text>
<text x="285.6" y="284.0" font-family="Liberation Sans, sans-serif" font-size="10" text-anchor="middle" fill="#111">70</text>
<text x="631.7" y="284.9" font-family="Liberation Sans, sans-serif" font-size="9.6" text-anchor="middle" fill="#111">70</text>
<text x="328.2" y="284.0" font-family="Liberation Sans, sans-serif" font-size="10" text-anchor="middle" fill="#111">80</text>
<text x="674.3" y="284.9" font-family="Liberation Sans, sans-serif" font-size="9.6" text-anchor="middle" fill="#111">80</text>
<text x="157" y="312.3" font-family="Liberation Sans, sans-serif" font-size="13.5" font-weight="bold" fill="#111">2<tspan font-weight="normal" font-size="13" dx="0.2">&#952;</tspan><tspan dy="-7.2" dx="0.6" font-size="9">O</tspan></text>
<text x="503.5" y="309.3" font-family="Liberation Sans, sans-serif" font-size="11.2" font-weight="bold" fill="#111">2<tspan font-weight="normal" font-size="12.4" dx="0.7">&#952;</tspan><tspan dy="-5.6" dx="1.0" font-size="7.5">O</tspan></text>
<text x="301" y="80" font-family="Liberation Serif, serif" font-weight="bold" font-size="9.8" fill="#0d5560" stroke="#0d5560" stroke-width="0.2" textLength="23.2" lengthAdjust="spacingAndGlyphs">750<tspan font-size="5.5" dy="-3.6">o</tspan><tspan dy="3.6">C</tspan></text>
<text x="301.9" y="134.7" font-family="Liberation Serif, serif" font-weight="bold" font-size="9.6" fill="#3434c8" stroke="#3434c8" stroke-width="0.2" textLength="22.3" lengthAdjust="spacingAndGlyphs">250<tspan font-size="5.5" dy="-3.6">o</tspan><tspan dy="3.6">C</tspan></text>
<text x="298.8" y="190.5" font-family="Liberation Serif, serif" font-weight="bold" font-size="9.4" fill="#e8202a" stroke="#e8202a" stroke-width="0.2" textLength="31" lengthAdjust="spacingAndGlyphs">28 Days</text>
<text x="303.8" y="250.5" font-family="Liberation Serif, serif" font-weight="bold" font-size="9.4" fill="#111" stroke="#111" stroke-width="0.2" textLength="26.9" lengthAdjust="spacingAndGlyphs">7 Days</text>
<text x="649" y="106.2" font-family="Liberation Serif, serif" font-weight="bold" font-size="9.8" fill="#0d5560" stroke="#0d5560" stroke-width="0.2" textLength="23.4" lengthAdjust="spacingAndGlyphs">750<tspan font-size="5.5" dy="-3.6">o</tspan><tspan dy="3.6">C</tspan></text>
<text x="648.2" y="154" font-family="Liberation Serif, serif" font-weight="bold" font-size="9.4" fill="#3434c8" stroke="#3434c8" stroke-width="0.2" textLength="22.2" lengthAdjust="spacingAndGlyphs">250<tspan font-size="5.5" dy="-3.6">o</tspan><tspan dy="3.6">C</tspan></text>
<text x="645" y="203.1" font-family="Liberation Serif, serif" font-weight="bold" font-size="9.4" fill="#e8202a" stroke="#e8202a" stroke-width="0.2" textLength="31.2" lengthAdjust="spacingAndGlyphs">28 Days</text>
<text x="650.5" y="255.2" font-family="Liberation Serif, serif" font-weight="bold" font-size="9.2" fill="#111" stroke="#111" stroke-width="0.2" textLength="26" lengthAdjust="spacingAndGlyphs">7 Days</text>
<text x="157.8" y="39.1" font-family="Liberation Serif, serif" font-weight="bold" font-size="13.3" fill="#9c40b4">(i)</text>
<text x="505.6" y="56.1" font-family="Liberation Serif, serif" font-weight="bold" font-size="13.5" fill="#9c40b4">(ii)</text>
<ellipse cx="63.7" cy="71.0" rx="2.2" ry="1.35" fill="#fff" stroke="#000" stroke-width="1.05"/>
<rect x="98.8" y="74.4" width="4.6" height="3" fill="#fff" stroke="#000" stroke-width="0.9"/>
<path d="M113.0,60.6 L115.2,65.2 L110.8,65.2 Z" fill="#fff" stroke="#000" stroke-width="0.9"/>
<rect x="110.9" y="67.1" width="4.6" height="3" fill="#fff" stroke="#000" stroke-width="0.9"/>
<path d="M123.0,55.8 L125.6,62.199999999999996 L120.4,62.199999999999996 Z" fill="#000"/>
<rect x="121.3" y="63.599999999999994" width="3.4" height="3.4" fill="#000"/>
<circle cx="132.4" cy="37.5" r="1.5" fill="#000"/>
<path d="M132.4,40.5 L135.0,46.9 L129.8,46.9 Z" fill="#000"/>
<ellipse cx="132.6" cy="50.8" rx="2.2" ry="1.35" fill="#fff" stroke="#000" stroke-width="1.05"/>
<path d="M153.9,70.4 L153.9,78.2 L157.6,78.2 Z" fill="#fff" stroke="#000" stroke-width="0.9"/><line x1="153.9" y1="70.9" x2="153.9" y2="78.2" stroke="#000" stroke-width="1.4"/>
<path d="M164.2,70.2 L166.79999999999998,76.6 L161.6,76.6 Z" fill="#000"/>
<rect x="162.5" y="77.7" width="3.4" height="3.4" fill="#000"/>
<path d="M187.3,59.6 L189.9,66.0 L184.70000000000002,66.0 Z" fill="#000"/>
<rect x="185.1" y="69.2" width="4.6" height="3" fill="#fff" stroke="#000" stroke-width="0.9"/>
<ellipse cx="187.8" cy="76.2" rx="2.2" ry="1.35" fill="#fff" stroke="#000" stroke-width="1.05"/>
<polygon points="200.50,62.00 201.49,64.64 204.30,64.76 202.10,66.52 202.85,69.24 200.50,67.68 198.15,69.24 198.90,66.52 196.70,64.76 199.51,64.64" fill="#fff" stroke="#000" stroke-width="0.8"/>
<ellipse cx="200.2" cy="73.7" rx="2.2" ry="1.35" fill="#fff" stroke="#000" stroke-width="1.05"/>
<ellipse cx="208.2" cy="76.7" rx="2.2" ry="1.35" fill="#fff" stroke="#000" stroke-width="1.05"/>
<ellipse cx="228.0" cy="79.8" rx="2.2" ry="1.35" fill="#fff" stroke="#000" stroke-width="1.05"/>
<rect x="240.10000000000002" y="77.7" width="3.4" height="3.4" fill="#000"/>
<ellipse cx="254.0" cy="80.2" rx="2.2" ry="1.35" fill="#fff" stroke="#000" stroke-width="1.05"/>
<ellipse cx="410.7" cy="100.1" rx="2.2" ry="1.35" fill="#fff" stroke="#000" stroke-width="1.05"/>
<path d="M431.90000000000003,98.6 L431.90000000000003,106.39999999999999 L435.6,106.39999999999999 Z" fill="#fff" stroke="#000" stroke-width="0.9"/><line x1="431.90000000000003" y1="99.1" x2="431.90000000000003" y2="106.39999999999999" stroke="#000" stroke-width="1.4"/>
<rect x="443.5" y="98.1" width="4.6" height="3" fill="#fff" stroke="#000" stroke-width="0.9"/>
<path d="M451.5,97.6 L451.5,105.39999999999999 L455.2,105.39999999999999 Z" fill="#fff" stroke="#000" stroke-width="0.9"/><line x1="451.5" y1="98.1" x2="451.5" y2="105.39999999999999" stroke="#000" stroke-width="1.4"/>
<path d="M459.6,88.8 L461.8,93.4 L457.40000000000003,93.4 Z" fill="#fff" stroke="#000" stroke-width="0.9"/>
<rect x="457.3" y="94.2" width="4.6" height="3" fill="#fff" stroke="#000" stroke-width="0.9"/>
<path d="M469.8,84.0 L472.40000000000003,90.39999999999999 L467.2,90.39999999999999 Z" fill="#000"/>
<rect x="468.1" y="91.0" width="3.4" height="3.4" fill="#000"/>
<circle cx="478.7" cy="67.7" r="1.5" fill="#000"/>
<path d="M478.7,70.7 L481.3,77.1 L476.09999999999997,77.1 Z" fill="#000"/>
<ellipse cx="478.7" cy="79.7" rx="2.2" ry="1.35" fill="#fff" stroke="#000" stroke-width="1.05"/>
<path d="M499.90000000000003,96.8 L499.90000000000003,104.6 L503.6,104.6 Z" fill="#fff" stroke="#000" stroke-width="0.9"/><line x1="499.90000000000003" y1="97.3" x2="499.90000000000003" y2="104.6" stroke="#000" stroke-width="1.4"/>
<path d="M510.5,96.9 L513.1,103.3 L507.9,103.3 Z" fill="#000"/>
<rect x="508.8" y="103.7" width="3.4" height="3.4" fill="#000"/>
<path d="M533.7,87.30000000000001 L536.3000000000001,93.7 L531.1,93.7 Z" fill="#000"/>
<rect x="531.4000000000001" y="95.0" width="4.6" height="3" fill="#fff" stroke="#000" stroke-width="0.9"/>
<ellipse cx="533.7" cy="101.6" rx="2.2" ry="1.35" fill="#fff" stroke="#000" stroke-width="1.05"/>
<polygon points="547.00,90.00 547.99,92.64 550.80,92.76 548.60,94.52 549.35,97.24 547.00,95.68 544.65,97.24 545.40,94.52 543.20,92.76 546.01,92.64" fill="#fff" stroke="#000" stroke-width="0.8"/>
<ellipse cx="546.9" cy="100.1" rx="2.2" ry="1.35" fill="#fff" stroke="#000" stroke-width="1.05"/>
<ellipse cx="554.5" cy="102.7" rx="2.2" ry="1.35" fill="#fff" stroke="#000" stroke-width="1.05"/>
<ellipse cx="573.9" cy="105.5" rx="2.2" ry="1.35" fill="#fff" stroke="#000" stroke-width="1.05"/>
<rect x="586.6999999999999" y="103.5" width="3.4" height="3.4" fill="#000"/>
<ellipse cx="600.4" cy="106.0" rx="2.2" ry="1.35" fill="#fff" stroke="#000" stroke-width="1.05"/>
<rect x="231.5" y="4.5" width="157.3" height="23" rx="2" ry="2" fill="#fff" stroke="#999" stroke-width="0.9"/>
<ellipse cx="237" cy="10.2" rx="1.8" ry="1.15" fill="#fff" stroke="#000" stroke-width="1.3"/>
<rect x="235.3" y="18.6" width="4.2" height="2.6" fill="#fff" stroke="#000" stroke-width="1.2"/>
<rect x="274.2" y="9.200000000000001" width="3.4" height="3.4" fill="#000"/>
<path d="M275.9,18.700000000000003 L278.09999999999997,23.3 L273.7,23.3 Z" fill="#fff" stroke="#000" stroke-width="0.9"/>
<path d="M312.2,6.300000000000001 L314.8,12.7 L309.59999999999997,12.7 Z" fill="#000"/>
<path d="M311.5,17.5 L311.5,25.3 L315.2,25.3 Z" fill="#fff" stroke="#000" stroke-width="0.9"/><line x1="311.5" y1="18.0" x2="311.5" y2="25.3" stroke="#000" stroke-width="1.4"/>
<circle cx="354.5" cy="9.6" r="1.5" fill="#000"/>
<polygon points="354.40,18.30 355.29,20.68 357.82,20.79 355.84,22.37 356.52,24.81 354.40,23.41 352.28,24.81 352.96,22.37 350.98,20.79 353.51,20.68" fill="#fff" stroke="#000" stroke-width="0.8"/>
<text x="244.9" y="13.2" font-family="Liberation Serif, serif" font-weight="bold" font-size="9" fill="#000" stroke="#000" stroke-width="0.25">CH</text>
<text x="243.6" y="23.6" font-family="Liberation Serif, serif" font-weight="bold" font-size="9" fill="#000" stroke="#000" stroke-width="0.25">CSH</text>
<text x="282" y="13.6" font-family="Liberation Serif, serif" font-weight="bold" font-size="9" fill="#000" stroke="#000" stroke-width="0.25">C<tspan font-size="6.5" dy="1.5">2</tspan><tspan dy="-1.5">S</tspan></text>
<line x1="289.5" y1="15.6" x2="300" y2="15.6" stroke="#555" stroke-width="0.6"/>
<text x="283.9" y="24.3" font-family="Liberation Serif, serif" font-weight="bold" font-size="9" fill="#000" stroke="#000" stroke-width="0.25">CC</text>
<text x="320.1" y="13.3" font-family="Liberation Serif, serif" font-weight="bold" font-size="9" fill="#000" stroke="#000" stroke-width="0.25">&#946;-C<tspan font-size="6.5" dy="1.5">2</tspan><tspan dy="-1.5">S</tspan></text>
<text x="320.8" y="24.5" font-family="Liberation Serif, serif" font-weight="bold" font-size="9" fill="#000" stroke="#000" stroke-width="0.25">SiO<tspan font-size="9">2</tspan></text>
<text x="359.6" y="12.6" font-family="Liberation Serif, serif" font-weight="bold" font-size="9" fill="#000" stroke="#000" stroke-width="0.25">CASH</text>
<text x="361" y="24.8" font-family="Liberation Serif, serif" font-weight="bold" font-size="9" fill="#000" stroke="#000" stroke-width="0.25">CFSH</text>
</g>
</svg>
</body></html>
